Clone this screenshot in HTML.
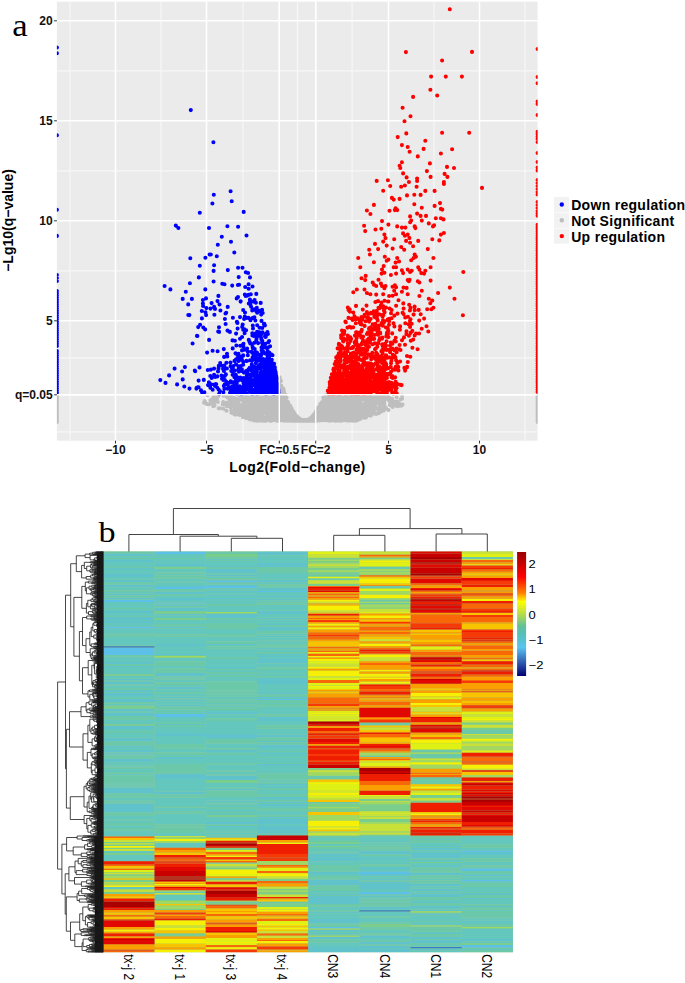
<!DOCTYPE html><html><head><meta charset="utf-8"><style>html,body{margin:0;padding:0;background:#fff;width:685px;height:983px;overflow:hidden}svg{display:block}text{font-family:"Liberation Sans",sans-serif}</style></head><body>
<svg width="685" height="983" viewBox="0 0 685 983">
<rect x="56.9" y="1.7" width="480.70000000000005" height="439.0" fill="#EBEBEB"/>
<path d="M70.0 1.7V440.7M161.0 1.7V440.7M242.9 1.7V440.7M297.5 1.7V440.7M352.1 1.7V440.7M434.0 1.7V440.7M525.0 1.7V440.7M56.9 431.8H537.6M56.9 357.8H537.6M56.9 270.8H537.6M56.9 170.8H537.6M56.9 70.8H537.6" stroke="#F7F7F7" stroke-width="1.2" fill="none"/>
<path d="M115.5 1.7V440.7M206.5 1.7V440.7M279.3 1.7V440.7M315.7 1.7V440.7M388.5 1.7V440.7M479.5 1.7V440.7M56.9 394.8H537.6M56.9 320.8H537.6M56.9 220.8H537.6M56.9 120.8H537.6M56.9 20.8H537.6" stroke="#FFFFFF" stroke-width="1.5" fill="none"/>
<clipPath id="pc"><rect x="56.9" y="1.7" width="480.70000000000005" height="439.0"/></clipPath>
<g clip-path="url(#pc)">
<path d="M289.2 420.7h0M303.5 420.6h0M284.5 408.5h0M290.7 411.6h0M362.1 413.2h0M369.7 404.8h0M369.7 397.8h0M271.0 400.9h0M356.4 402.8h0M308.9 420.5h0M315.4 414.4h0M374.9 405.4h0M246.3 399.8h0M350.8 399.6h0M306.0 420.4h0M233.9 397.7h0M260.7 420.6h0M367.8 396.7h0M289.3 416.0h0M288.3 415.0h0M278.7 412.6h0M313.9 420.5h0M307.6 420.3h0M235.2 407.4h0M303.5 420.5h0M261.1 418.2h0M326.3 401.7h0M259.6 400.2h0M257.4 409.8h0M315.6 413.5h0M266.9 418.9h0M278.6 418.3h0M328.4 420.3h0M328.6 406.9h0M291.0 408.4h0M244.5 409.2h0M300.1 419.8h0M267.8 405.6h0M231.3 399.2h0M217.0 401.0h0M370.2 410.6h0M369.2 410.8h0M343.8 403.5h0M338.0 395.6h0M291.0 410.3h0M281.8 391.4h0M326.5 412.2h0M288.1 410.9h0M311.4 418.6h0M379.7 408.6h0M327.0 413.1h0M229.6 397.7h0M263.3 407.3h0M294.9 420.3h0M317.6 410.4h0M286.5 413.7h0M334.0 404.9h0M318.5 415.9h0M336.5 413.7h0M337.1 400.5h0M267.5 404.9h0M250.3 401.6h0M278.4 415.6h0M295.0 420.3h0M271.8 415.4h0M269.6 408.9h0M349.2 410.6h0M377.9 398.8h0M336.4 408.9h0M333.1 399.2h0M344.4 406.0h0M344.1 411.0h0M330.9 416.3h0M311.1 417.8h0M287.0 416.1h0M314.6 414.7h0M292.3 413.0h0M274.2 400.5h0M320.2 404.0h0M329.6 396.1h0M349.6 401.2h0M306.6 420.7h0M349.6 418.7h0M247.8 407.5h0M313.2 415.5h0M314.0 419.0h0M348.4 418.2h0M304.7 420.8h0M324.3 397.6h0M297.9 419.9h0M303.7 420.7h0M304.0 420.8h0M347.8 412.0h0M308.8 419.8h0M319.3 408.1h0M238.7 399.2h0M326.5 408.4h0M353.2 402.7h0M320.1 412.1h0M284.3 420.4h0M227.8 396.3h0M266.0 402.2h0M266.4 397.0h0M307.7 420.7h0M315.6 414.6h0M346.7 418.9h0M331.9 415.6h0M332.1 404.7h0M272.4 416.6h0M322.1 405.2h0M266.1 407.3h0M277.3 398.1h0M297.1 419.6h0M295.0 420.1h0M290.9 409.4h0M260.4 403.7h0M239.4 407.0h0M308.3 420.1h0M280.8 418.3h0M292.0 416.3h0M292.9 417.9h0M290.3 409.7h0M296.7 420.5h0M306.5 420.4h0M281.3 404.5h0M317.2 411.1h0M317.9 412.9h0M317.7 419.4h0M283.2 388.6h0M260.8 415.7h0M287.7 408.9h0M324.8 414.2h0M290.8 409.7h0M288.2 406.2h0M327.9 419.1h0M379.9 412.3h0M291.5 415.8h0M297.5 420.4h0M262.5 399.3h0M302.7 420.5h0M297.9 420.4h0M322.6 409.2h0M316.2 415.6h0M299.4 419.5h0M267.9 412.5h0M296.6 419.3h0M249.0 418.0h0M330.0 419.0h0M289.7 407.7h0M349.8 398.9h0M251.5 406.2h0M338.7 420.4h0M277.3 404.6h0M346.1 396.2h0M384.6 405.7h0M347.3 410.2h0M348.4 415.8h0M286.3 411.2h0M335.8 405.5h0M279.5 382.2h0M288.5 404.1h0M348.0 412.1h0M310.0 420.7h0M324.2 414.2h0M376.5 403.6h0M314.3 418.2h0M342.2 409.8h0M308.5 420.5h0M321.2 413.0h0M253.8 420.5h0M298.7 419.8h0M296.6 417.8h0M342.1 407.0h0M338.1 419.8h0M316.5 419.6h0M301.6 420.2h0M255.0 418.2h0M280.9 396.1h0M334.8 395.2h0M279.8 388.9h0M319.8 411.7h0M291.7 416.4h0M270.8 395.3h0M265.5 397.1h0M286.3 416.5h0M318.8 419.1h0M306.1 420.5h0M286.4 403.4h0M304.1 420.8h0M331.7 420.1h0M266.3 396.2h0M321.3 413.3h0M335.2 415.5h0M277.4 403.2h0M278.4 411.9h0M300.6 420.8h0M288.5 418.0h0M367.9 405.8h0M270.4 406.9h0M284.5 420.0h0M328.4 415.6h0M303.8 420.7h0M304.9 420.6h0M256.8 417.5h0M265.1 419.2h0M286.7 417.6h0M269.4 417.4h0M320.1 420.0h0M375.9 401.9h0M332.9 397.3h0M334.9 397.1h0M333.2 398.8h0M274.8 408.7h0M305.6 420.5h0M310.2 419.9h0M328.8 416.6h0M266.6 420.6h0M301.5 420.3h0M273.1 410.2h0M275.4 417.0h0M293.5 420.6h0M352.1 409.1h0M329.6 397.7h0M249.7 416.4h0M283.3 408.8h0M295.7 418.1h0M300.3 419.9h0M269.1 399.6h0M271.2 396.1h0M291.1 415.9h0M323.3 420.0h0M349.9 418.8h0M302.7 420.3h0M303.9 420.6h0M332.3 405.1h0M321.1 410.4h0M350.6 404.9h0M287.3 404.0h0M336.4 396.9h0M254.5 405.4h0M321.5 408.7h0M262.4 412.4h0M274.1 416.7h0M325.4 398.8h0M256.6 395.8h0M307.1 420.5h0M372.2 410.0h0M318.2 417.2h0M279.1 399.6h0M356.7 416.9h0M250.6 408.8h0M227.0 402.6h0M341.9 415.5h0M330.0 404.9h0M390.2 402.3h0M295.9 417.5h0M327.5 400.3h0M302.1 420.7h0M323.4 413.7h0M330.4 408.8h0M276.9 403.4h0M309.2 419.8h0M277.9 415.5h0M255.1 413.6h0M329.4 402.1h0M342.1 395.2h0M254.3 418.6h0M332.5 413.4h0M302.5 420.7h0M346.5 419.2h0M314.4 419.6h0M308.3 420.5h0M316.2 411.2h0M233.5 413.5h0M311.4 417.9h0M348.2 412.4h0M227.0 406.2h0M325.8 419.9h0M294.8 420.8h0M333.0 401.8h0M324.4 413.2h0M353.3 406.2h0M321.6 410.3h0M316.8 410.9h0M312.8 416.8h0M288.0 402.1h0M271.7 395.4h0M287.2 414.5h0M315.4 415.2h0M345.9 418.3h0M295.0 418.9h0M243.2 415.7h0M361.7 414.6h0M276.7 408.2h0M270.4 404.8h0M226.5 395.7h0M329.0 414.3h0M289.6 419.9h0M270.1 404.5h0M335.4 401.5h0M305.6 420.5h0M235.8 398.8h0M241.1 407.0h0M267.0 417.2h0M372.8 411.7h0M331.9 413.5h0M359.0 404.4h0M265.4 396.4h0M324.2 415.7h0M242.2 400.5h0M338.2 397.5h0M370.9 412.9h0M292.4 412.6h0M363.7 406.9h0M275.8 419.3h0M344.5 417.0h0M276.8 407.8h0M287.9 404.3h0M236.0 399.9h0M300.6 419.9h0M347.0 404.8h0M291.7 409.1h0M296.7 419.6h0M350.3 409.2h0M299.1 420.8h0M352.9 395.9h0M349.3 420.6h0M235.6 413.4h0M249.7 412.2h0M300.8 420.1h0M347.6 405.7h0M303.2 420.8h0M290.3 413.8h0M352.9 396.8h0M333.6 412.1h0M330.0 407.1h0M341.1 408.1h0M264.6 401.5h0M320.4 416.3h0M301.5 420.6h0M246.8 406.7h0M350.2 404.4h0M291.7 417.4h0M295.5 416.1h0M253.7 399.9h0M315.7 412.0h0M302.1 420.7h0M327.5 397.9h0M310.4 420.2h0M325.1 398.8h0M336.1 417.5h0M312.8 415.8h0M243.1 397.2h0M316.3 419.7h0M310.9 420.4h0M357.5 411.3h0M279.3 397.1h0M326.2 413.5h0M294.2 416.7h0M290.5 410.2h0M301.0 420.6h0M267.2 400.4h0M296.4 416.4h0M283.2 397.4h0M301.0 419.8h0M310.9 419.5h0M278.5 404.6h0M214.1 402.4h0M246.8 411.9h0M329.7 408.1h0M324.3 405.3h0M397.4 406.2h0M272.3 419.9h0M305.6 420.7h0M327.7 419.9h0M295.6 418.3h0M342.1 418.5h0M301.4 420.1h0M267.8 395.3h0M290.3 410.7h0M362.0 413.7h0M302.6 420.8h0M318.9 411.2h0M375.1 407.7h0M364.4 399.5h0M236.0 409.4h0M352.0 402.8h0M263.1 404.2h0M296.7 418.1h0M390.0 402.0h0M343.3 404.5h0M284.8 417.6h0M273.7 404.9h0M291.2 418.4h0M290.9 414.3h0M324.4 419.4h0M339.9 420.4h0M241.1 412.4h0M271.3 399.4h0M343.1 410.7h0M262.7 420.6h0M247.4 417.2h0M263.0 412.7h0M351.3 409.3h0M213.3 406.2h0M311.8 419.4h0M266.5 414.2h0M357.7 404.3h0M313.9 417.3h0M313.2 419.4h0M382.8 410.6h0M312.0 420.2h0M293.2 419.5h0M328.9 418.8h0M310.3 420.6h0M301.1 420.1h0M302.1 420.5h0M384.4 400.1h0M340.5 413.1h0M308.0 420.2h0M335.4 418.3h0M285.0 411.0h0M259.8 419.3h0M318.3 417.9h0M304.0 420.8h0M341.7 409.7h0M339.2 400.8h0M346.5 418.2h0M285.2 416.3h0M276.5 401.0h0M334.9 409.3h0M364.6 409.7h0M279.1 408.5h0M257.9 399.7h0M325.5 416.3h0M345.0 408.7h0M317.3 410.2h0M214.5 405.6h0M311.2 417.8h0M341.1 399.3h0M329.4 417.1h0M265.9 420.2h0M293.7 417.9h0M278.0 420.8h0M305.4 420.6h0M304.0 420.6h0M307.0 420.3h0M274.1 420.0h0M276.8 418.1h0M327.1 409.8h0M335.6 413.3h0M268.9 409.3h0M322.1 402.6h0M293.6 418.5h0M288.7 405.3h0M306.9 420.4h0M315.0 418.2h0M288.0 416.7h0M252.6 396.7h0M320.1 413.3h0M333.0 403.1h0M332.9 418.4h0M249.3 419.1h0M298.0 420.8h0M322.0 406.9h0M253.9 396.6h0M312.6 416.6h0M258.3 395.8h0M373.9 412.1h0M247.9 396.2h0M317.1 420.7h0M339.8 416.7h0M308.9 420.6h0M314.0 418.7h0M356.6 404.9h0M327.0 403.7h0M290.9 415.8h0M369.7 403.9h0M374.4 400.2h0M248.0 414.5h0M288.7 412.1h0M301.7 420.2h0M326.9 401.6h0M294.3 418.7h0M319.8 412.3h0M346.6 410.2h0M364.9 414.7h0M244.3 396.8h0M351.8 403.9h0M237.9 406.3h0M263.8 401.0h0M320.5 409.0h0M232.9 399.8h0M292.4 418.7h0M379.6 400.9h0M291.1 412.1h0M270.1 415.2h0M241.0 414.6h0M344.0 415.5h0M325.5 412.9h0M301.2 420.8h0M319.7 408.1h0M362.6 410.6h0M310.7 418.7h0M343.9 402.4h0M247.1 407.3h0M280.8 417.8h0M295.8 420.4h0M298.8 418.9h0M335.1 416.0h0M296.0 419.5h0M327.0 420.0h0M284.9 394.2h0M337.8 413.8h0M320.8 405.9h0M345.6 407.5h0M272.9 396.6h0M340.3 415.7h0M277.2 403.3h0M310.6 419.3h0M292.9 417.4h0M352.4 405.3h0M318.0 419.0h0M309.8 420.7h0M300.1 419.4h0M290.4 410.1h0M276.3 403.1h0M268.0 408.3h0M268.6 404.5h0M315.7 420.4h0M299.2 418.6h0M309.7 420.7h0M262.6 412.4h0M325.1 415.9h0M276.9 420.6h0M306.9 420.4h0M300.8 419.9h0M343.2 400.5h0M249.9 415.0h0M252.3 411.4h0M318.9 417.9h0M294.6 416.3h0M308.3 420.8h0M322.1 402.1h0M291.2 408.8h0M280.4 400.5h0M311.3 418.4h0M287.9 416.6h0M317.9 418.2h0M300.9 420.5h0M292.7 411.9h0M261.2 409.8h0M288.0 409.9h0M351.3 398.6h0M339.1 410.0h0M285.7 415.8h0M243.3 406.9h0M300.2 420.6h0M246.0 418.0h0M249.8 405.9h0M273.4 413.8h0M266.6 408.2h0M300.2 419.7h0M337.3 406.6h0M286.1 406.6h0M353.7 395.8h0M297.0 419.3h0M345.2 411.7h0M358.7 396.6h0M300.1 419.9h0M345.2 400.3h0M261.1 405.4h0M300.7 420.2h0M328.1 401.0h0M305.3 420.7h0M348.2 411.0h0M255.9 416.6h0M398.5 405.8h0M259.8 395.9h0M318.5 418.7h0M338.5 415.8h0M321.3 415.5h0M298.2 419.0h0M291.6 408.8h0M251.3 417.8h0M329.0 409.8h0M309.8 420.7h0M314.3 416.7h0M383.1 401.4h0M326.1 400.4h0M306.1 420.6h0M293.2 417.8h0M302.2 420.8h0M318.3 417.4h0M282.4 394.5h0M261.4 416.2h0M260.0 410.4h0M290.4 420.2h0M331.4 409.7h0M320.1 414.0h0M297.3 416.9h0M397.5 404.5h0M338.4 420.3h0M269.5 419.1h0M330.1 420.5h0M368.5 409.7h0M341.4 401.7h0M342.3 407.3h0M335.8 399.5h0M371.3 407.4h0M328.2 415.2h0M276.5 404.4h0M289.4 417.0h0M308.0 420.6h0M328.0 396.7h0M318.2 411.8h0M279.4 378.6h0M260.5 413.2h0M330.1 415.2h0M317.9 419.9h0M299.4 419.0h0M305.8 420.5h0M395.8 401.8h0M329.0 414.2h0M260.4 407.0h0M272.2 396.1h0M308.5 419.9h0M299.4 420.4h0M276.3 417.3h0M276.1 400.4h0M291.7 414.3h0M322.8 411.0h0M291.0 414.6h0M262.2 397.3h0M309.0 419.9h0M316.1 418.6h0M358.3 416.8h0M292.7 417.8h0M263.5 420.8h0M366.7 405.4h0M256.0 418.0h0M289.6 415.9h0M264.0 410.3h0M348.3 395.3h0M307.8 420.3h0M306.8 420.5h0M301.9 420.8h0M351.9 413.4h0M301.1 420.4h0M252.6 405.6h0M356.7 399.6h0M290.7 419.7h0M273.2 396.6h0M316.9 420.6h0M340.4 418.7h0M294.6 414.5h0M329.5 415.1h0M338.4 419.4h0M257.3 405.3h0M311.3 417.8h0M319.0 416.6h0M299.2 420.0h0M304.9 420.6h0M318.3 412.8h0M293.2 412.7h0M287.1 415.0h0M307.7 420.4h0M280.2 397.6h0M271.5 413.1h0M212.8 402.9h0M330.1 418.3h0M298.5 419.0h0M302.3 420.4h0M324.5 409.5h0M298.6 419.0h0M324.1 417.5h0M212.7 399.0h0M310.7 419.6h0M402.0 398.8h0M300.8 419.9h0M290.2 405.9h0M302.1 420.7h0M271.6 406.0h0M322.2 413.6h0M293.2 416.2h0M286.1 419.0h0M298.3 417.7h0M364.9 403.3h0M363.4 413.7h0M259.4 408.3h0M242.8 417.1h0M284.0 391.5h0M319.4 416.5h0M343.1 404.2h0M341.1 397.7h0M265.9 408.4h0M310.6 420.0h0M304.1 420.8h0M313.2 419.6h0M303.4 420.7h0M323.9 417.3h0M327.0 412.6h0M316.2 412.0h0M332.8 418.5h0M254.1 412.0h0M331.1 416.5h0M340.2 415.2h0M355.0 408.4h0M231.3 404.7h0M286.8 417.5h0M305.7 420.4h0M327.5 398.3h0M258.5 399.3h0M265.5 418.1h0M373.1 402.4h0M290.9 420.8h0M331.1 405.7h0M347.4 411.8h0M318.0 407.8h0M264.6 420.8h0M283.9 412.4h0M268.3 405.3h0M331.1 409.1h0M296.3 419.5h0M316.6 415.3h0M327.7 412.1h0M350.2 397.5h0M339.4 414.5h0M343.0 412.3h0M330.8 408.6h0M308.8 420.3h0M311.0 419.4h0M272.6 403.0h0M302.5 420.6h0M301.9 420.2h0M237.9 413.1h0M304.2 420.6h0M257.0 399.6h0M362.2 397.9h0M294.0 419.9h0M298.4 418.0h0M359.8 411.0h0M335.8 408.1h0M331.9 401.5h0M317.0 416.2h0M357.2 410.8h0M337.9 406.6h0M301.6 420.6h0M333.0 405.6h0M370.0 395.6h0M333.4 396.8h0M256.4 403.2h0M256.1 420.6h0M294.2 414.5h0M263.8 420.7h0M294.5 413.3h0M351.6 412.4h0M306.7 420.4h0M316.9 420.4h0M239.8 406.9h0M315.1 416.7h0M310.3 420.2h0M314.5 417.1h0M260.9 420.6h0M354.5 409.2h0M312.9 418.5h0M248.0 412.5h0M245.4 408.6h0M321.9 416.2h0M281.6 401.7h0M283.3 416.2h0M297.4 419.1h0M314.6 414.5h0M344.7 401.8h0M385.1 396.8h0M378.5 399.1h0M262.0 415.1h0M234.8 409.1h0M322.0 406.8h0M273.2 404.2h0M286.0 419.6h0M316.3 419.3h0M354.4 413.7h0M320.2 415.2h0M244.4 397.8h0M309.3 419.8h0M281.2 404.3h0M360.1 419.0h0M302.5 420.7h0M307.9 420.7h0M363.8 408.6h0M254.2 408.6h0M307.8 420.7h0M239.4 404.4h0M296.7 420.0h0M271.5 400.0h0M247.5 399.7h0M344.0 417.9h0M298.4 419.1h0M372.8 405.9h0M295.2 416.1h0M356.2 414.5h0M310.1 418.7h0M316.4 419.0h0M317.9 416.6h0M302.6 420.8h0M300.5 420.3h0M302.4 420.8h0M325.9 404.0h0M290.7 415.9h0M273.0 402.2h0M279.1 416.5h0M332.3 411.8h0M312.5 420.6h0M314.4 416.4h0M333.6 419.6h0M301.9 420.6h0M327.4 404.7h0M284.4 413.7h0M293.3 413.6h0M312.4 419.1h0M335.0 399.3h0M349.8 398.0h0M341.1 416.2h0M306.1 420.8h0M311.1 419.7h0M303.5 420.7h0M250.5 401.6h0M234.0 404.6h0M317.3 418.2h0M338.7 399.3h0M291.4 410.4h0M348.8 407.6h0M371.5 398.4h0M329.5 420.7h0M297.7 420.2h0M246.5 408.5h0M370.8 407.8h0M265.1 418.9h0M305.1 420.5h0M368.4 415.1h0M298.9 418.4h0M295.4 420.5h0M342.6 406.9h0M216.9 399.2h0M272.2 398.8h0M297.0 418.2h0M255.1 411.5h0M378.3 402.8h0M290.5 419.8h0M294.9 414.6h0M329.5 408.1h0M266.1 405.7h0M260.1 406.6h0M360.9 403.1h0M291.4 411.4h0M321.0 417.5h0M339.2 420.0h0M255.4 411.3h0M306.5 420.6h0M335.0 416.3h0M357.9 395.5h0M276.2 407.1h0M370.6 401.7h0M302.1 420.1h0M271.3 406.5h0M278.2 408.1h0M317.9 415.5h0M344.6 416.4h0M310.3 420.0h0M308.1 420.5h0M331.7 413.6h0M312.7 416.2h0M284.1 395.7h0M274.3 408.4h0M356.4 397.7h0M328.7 401.5h0M261.2 415.3h0M293.5 420.8h0M283.1 392.1h0M306.5 420.6h0M360.3 401.3h0M309.7 420.5h0M300.9 419.7h0M339.1 413.8h0M392.4 399.7h0M238.1 402.2h0M322.0 403.7h0M385.4 399.0h0M283.6 412.4h0M313.9 419.5h0M313.2 417.8h0M317.9 409.0h0M370.7 415.8h0M325.3 406.4h0M288.7 414.3h0M303.3 420.7h0M349.9 415.5h0M325.2 412.7h0M293.4 418.7h0M356.6 414.4h0M342.8 395.9h0M292.4 413.4h0M277.2 402.7h0M303.9 420.5h0M278.1 401.4h0M271.2 419.7h0M304.6 420.6h0M290.6 419.1h0M292.2 410.5h0M340.2 402.6h0M231.0 405.8h0M280.5 414.9h0M318.8 415.9h0M364.0 416.8h0M350.0 417.7h0M292.3 417.3h0M328.2 397.8h0M318.3 409.2h0M272.4 405.3h0M305.3 420.6h0M294.6 417.7h0M361.5 411.4h0M284.6 413.7h0M279.0 397.4h0M312.4 420.8h0M285.8 418.5h0M293.1 417.4h0M360.1 415.9h0M346.1 409.3h0M308.8 419.9h0M303.0 420.4h0M259.5 415.1h0M299.0 418.5h0M271.2 408.0h0M306.8 420.7h0M295.0 419.4h0M289.7 420.2h0M278.0 400.3h0M347.5 398.6h0M270.8 407.5h0M320.3 419.3h0M312.9 419.6h0M263.3 420.2h0M298.4 419.5h0M292.5 415.6h0M339.2 417.7h0M314.0 419.4h0M230.4 398.0h0M376.0 413.9h0M312.2 420.8h0M348.1 407.9h0M269.4 403.5h0M311.8 417.2h0M364.6 417.0h0M274.6 396.9h0M344.3 400.8h0M294.7 415.1h0M315.5 420.1h0M345.8 407.0h0M317.0 413.4h0M300.7 420.3h0M347.1 399.5h0M300.9 420.4h0M366.7 408.6h0M213.7 396.4h0M319.3 417.3h0M261.1 416.7h0M297.6 419.9h0M341.3 418.6h0M331.1 405.3h0M326.0 414.1h0M254.1 416.7h0M306.9 420.4h0M322.8 408.6h0M308.0 419.8h0M252.3 404.0h0M311.6 420.4h0M237.6 407.9h0M325.4 412.7h0M272.9 420.3h0M235.4 405.6h0M287.6 420.6h0M290.5 414.3h0M340.1 420.3h0M316.5 419.8h0M339.4 412.7h0M263.8 419.6h0M291.8 408.9h0M294.5 417.1h0M290.7 413.7h0M253.8 399.2h0M359.0 401.6h0M274.1 407.5h0M283.1 393.3h0M345.1 406.5h0M324.7 419.7h0M293.0 418.5h0M291.5 415.2h0M283.1 406.1h0M329.6 408.8h0M331.0 405.8h0M302.6 420.8h0M314.8 418.0h0M312.7 420.7h0M307.6 420.8h0M379.9 405.9h0M310.1 420.8h0M365.2 407.3h0M277.0 405.5h0M302.9 420.5h0M304.1 420.7h0M238.7 413.9h0M284.6 402.6h0M374.3 396.2h0M331.4 412.0h0M286.1 404.2h0M336.4 416.1h0M328.3 412.9h0M290.4 420.3h0M351.8 420.1h0M307.4 420.8h0M323.8 397.0h0M245.8 411.7h0M326.0 406.6h0M300.4 419.8h0M281.7 409.1h0M313.0 420.5h0M360.1 410.5h0M242.5 412.0h0M254.8 403.0h0M270.6 414.1h0M239.1 414.0h0M286.2 410.1h0M217.8 402.0h0M278.9 398.1h0M318.9 410.9h0M298.2 420.2h0M310.0 419.5h0M350.9 409.2h0M232.2 399.6h0M343.2 406.0h0M292.2 413.4h0M257.5 409.4h0M272.3 409.3h0M259.7 417.8h0M353.1 398.5h0M328.3 406.5h0M254.7 414.2h0M324.5 409.1h0M338.9 396.3h0M281.9 405.7h0M223.2 402.1h0M325.9 397.9h0M338.4 408.0h0M327.3 413.7h0M336.3 420.8h0M285.0 400.0h0M303.8 420.5h0M337.7 418.6h0M325.7 415.2h0M350.3 414.8h0M307.4 420.7h0M311.4 419.0h0M288.9 413.3h0M311.8 419.2h0M267.2 416.0h0M289.5 417.8h0M304.1 420.6h0M260.3 417.2h0M289.8 412.4h0M311.2 420.3h0M242.5 415.0h0M352.1 404.9h0M341.4 397.6h0M365.6 410.6h0M287.5 418.9h0M294.1 420.5h0M328.1 410.3h0M281.6 387.4h0M328.7 411.0h0M309.9 419.5h0M317.9 418.4h0M299.1 419.8h0M304.7 420.7h0M336.6 404.4h0M309.4 419.4h0M386.3 408.4h0M275.4 408.6h0M347.5 407.3h0M284.7 416.3h0M318.3 412.6h0M319.7 407.7h0M347.9 400.5h0M293.9 415.6h0M329.3 407.2h0M304.9 420.8h0M319.4 418.8h0M279.2 412.4h0M292.3 413.2h0M362.4 405.2h0M326.2 419.9h0M291.3 412.7h0M325.4 408.2h0M267.0 396.9h0M367.2 407.1h0M290.8 419.4h0M332.3 401.9h0M321.9 411.3h0M271.1 419.9h0M377.8 408.2h0M348.2 407.1h0M296.4 419.5h0M353.6 397.3h0M313.8 420.3h0M257.6 420.7h0M303.3 420.5h0M286.1 414.1h0M318.8 419.1h0M285.8 399.0h0M350.6 416.2h0M290.9 409.5h0M326.5 401.7h0M310.7 419.0h0M306.8 420.2h0M340.9 419.1h0M290.6 417.5h0M281.3 385.9h0M215.5 401.2h0M339.3 413.3h0M289.2 409.0h0M366.0 402.2h0M314.4 420.6h0M311.1 420.8h0M283.6 396.8h0M286.3 402.0h0M338.2 409.0h0M250.7 399.0h0M255.8 405.7h0M299.0 419.0h0M305.9 420.6h0M262.7 397.0h0M260.0 418.3h0M281.4 389.2h0M305.1 420.7h0M357.3 403.4h0M323.7 407.0h0M266.0 417.2h0M258.1 398.6h0M231.4 405.1h0M340.9 407.7h0M282.5 402.9h0M325.3 418.7h0M301.4 420.5h0M367.2 412.7h0M290.2 419.0h0M252.2 418.7h0M348.1 419.9h0M283.5 416.4h0M296.6 420.0h0M312.7 417.1h0M280.5 387.8h0M345.8 402.3h0M258.9 397.6h0M272.7 400.5h0M340.1 420.7h0M327.3 404.9h0M278.9 407.5h0M296.6 420.6h0M255.3 412.9h0M288.8 419.0h0M299.5 419.6h0M329.2 400.2h0M205.4 402.8h0M238.1 408.4h0M285.1 396.1h0M345.7 419.0h0M392.7 406.9h0M218.4 396.1h0M254.3 401.8h0M232.8 403.3h0M336.8 410.1h0M246.2 407.1h0M324.1 418.0h0M297.9 418.7h0M288.2 419.7h0M301.4 420.8h0M279.2 397.7h0M286.3 409.0h0M299.5 420.5h0M280.9 380.9h0M207.5 395.3h0M348.8 419.5h0M318.6 417.6h0M308.5 420.6h0M260.2 417.9h0M230.6 404.7h0M291.4 418.3h0M312.5 417.8h0M278.7 403.9h0M342.3 415.5h0M302.0 420.4h0M293.8 419.7h0M330.6 419.2h0M270.2 420.8h0M383.1 403.8h0M303.7 420.8h0M285.9 404.7h0M319.0 411.0h0M351.8 397.6h0M308.6 420.5h0M254.5 414.4h0M354.6 409.4h0M265.0 403.4h0M292.4 416.8h0M258.7 405.6h0M320.4 414.7h0M231.4 412.8h0M323.5 420.3h0M278.9 409.1h0M330.9 413.9h0M306.3 420.3h0M331.6 415.6h0M206.9 404.1h0M382.6 408.4h0M267.5 403.5h0M259.2 401.3h0M235.9 413.3h0M352.4 411.8h0M361.8 407.5h0M307.5 420.7h0M330.4 417.0h0M251.1 411.3h0M216.0 399.6h0M289.2 414.6h0M352.4 420.8h0M280.5 412.7h0M279.9 415.6h0M288.1 419.1h0M303.6 420.6h0M306.5 420.8h0M210.5 400.4h0M257.7 418.3h0M319.2 418.8h0M296.3 418.0h0M312.5 417.7h0M237.5 400.8h0M269.6 403.0h0M264.2 417.7h0M301.6 420.2h0M253.2 400.9h0M352.6 420.5h0M281.1 392.9h0M238.1 402.0h0M304.2 420.5h0M321.7 406.6h0M287.8 419.0h0M210.0 403.8h0M291.5 410.8h0M277.6 401.3h0M304.3 420.6h0M338.8 397.4h0M270.6 410.5h0M302.7 420.7h0M313.1 419.7h0M301.2 419.9h0M292.8 416.6h0M284.4 393.8h0M345.0 400.9h0M314.3 414.8h0M274.9 416.5h0M319.6 410.0h0M267.5 415.1h0M309.5 420.1h0M320.7 419.5h0M336.9 416.2h0M213.2 400.8h0M354.9 404.2h0M338.8 419.7h0M348.6 418.8h0M259.0 412.2h0M330.5 419.4h0M288.1 414.1h0M335.1 420.6h0M344.0 417.0h0M274.2 411.1h0M292.0 415.1h0M318.3 419.3h0M296.5 417.0h0M280.2 402.9h0M231.3 410.3h0M289.1 405.5h0M277.8 400.9h0M326.6 414.9h0M273.1 401.6h0M336.0 420.7h0M275.0 397.8h0M247.7 410.3h0M329.5 395.3h0M276.6 414.3h0M335.1 406.8h0M341.4 412.6h0M331.2 401.6h0M366.5 415.6h0M299.5 420.4h0M361.5 395.3h0M308.9 420.4h0M335.0 407.5h0M335.7 403.8h0M333.4 404.3h0M319.5 420.4h0M278.1 420.7h0M326.4 401.0h0M296.3 418.4h0M274.7 401.7h0M306.9 420.2h0M295.3 417.4h0M322.4 407.6h0M328.1 420.5h0M320.7 412.8h0M317.6 408.6h0M357.6 420.2h0M300.6 419.4h0M363.7 412.6h0M267.5 416.7h0M274.4 396.5h0M315.1 415.6h0M302.8 420.8h0M311.3 420.4h0M339.1 400.9h0M310.2 419.1h0M304.9 420.6h0M317.5 413.8h0M366.8 401.4h0M299.3 420.1h0M274.7 406.4h0M309.7 419.3h0M282.6 407.2h0M307.8 420.0h0M362.8 396.5h0M341.5 411.9h0M328.1 418.0h0M336.9 407.8h0M289.1 420.2h0M278.0 397.5h0M290.8 407.3h0M302.0 420.1h0M371.7 398.6h0M295.4 418.8h0M365.1 413.9h0M296.5 419.7h0M304.4 420.7h0M311.9 418.9h0M251.3 414.9h0M329.8 398.1h0M362.5 405.8h0M342.7 395.6h0M364.7 414.5h0M298.4 420.6h0M294.6 419.7h0M300.2 419.8h0M314.0 416.7h0M351.1 411.4h0M360.2 416.7h0M254.5 409.7h0M327.3 395.8h0M277.4 407.7h0M282.3 418.4h0M353.2 402.7h0M297.0 420.5h0M279.7 406.2h0M330.4 401.3h0M340.5 416.0h0M338.0 401.2h0M352.1 402.6h0M306.0 420.4h0M331.0 402.0h0M260.2 396.2h0M319.7 417.3h0M298.6 419.2h0M291.5 415.6h0M280.1 380.1h0M337.5 406.8h0M328.3 398.7h0M320.3 413.6h0M271.6 403.2h0M242.7 411.9h0M313.6 418.7h0M365.7 412.7h0M320.6 411.3h0M300.3 420.2h0M300.0 419.4h0M266.8 419.0h0M351.0 418.8h0M274.1 412.8h0M358.0 395.5h0M291.3 412.0h0M345.0 414.2h0M323.0 416.3h0M335.5 412.2h0M256.3 404.6h0M323.8 418.4h0M321.7 419.9h0M251.7 415.8h0M331.1 395.2h0M281.1 390.1h0M315.1 420.6h0M285.2 419.9h0M309.8 420.2h0M306.8 420.8h0M336.4 405.8h0M294.9 415.3h0M318.2 419.1h0M372.5 412.4h0M317.0 411.8h0M310.1 420.0h0M318.0 415.0h0M281.8 414.5h0M287.7 420.5h0M315.4 415.5h0M245.7 414.7h0M399.0 403.0h0M305.2 420.6h0M336.7 399.7h0M326.6 419.0h0M297.9 419.9h0M281.7 402.9h0M327.7 407.1h0M344.4 396.6h0M287.5 405.3h0M256.7 402.3h0M284.0 407.4h0M340.5 415.8h0M357.3 409.5h0M302.9 420.5h0M352.0 402.7h0M294.7 416.0h0M345.1 410.7h0M347.0 397.0h0M296.8 419.4h0M337.5 414.3h0M359.5 397.7h0M286.1 418.8h0M267.4 410.6h0M282.3 404.1h0M290.4 420.3h0M319.2 408.7h0M287.8 408.9h0M338.1 403.6h0M240.0 407.8h0M280.9 418.4h0M269.8 416.2h0M272.4 419.0h0M245.7 402.0h0M257.7 404.3h0M307.7 420.7h0M322.7 416.9h0M327.5 395.7h0M347.6 408.2h0M234.2 397.8h0M279.2 420.1h0M358.8 418.0h0M341.5 420.6h0M287.3 419.8h0M339.5 409.4h0M333.4 420.1h0M272.4 402.5h0M308.4 420.4h0M288.2 418.2h0M353.9 403.8h0M359.0 410.7h0M250.5 419.5h0M358.4 401.6h0M313.9 419.1h0M298.4 420.3h0M302.4 420.2h0M325.6 403.5h0M317.6 411.4h0M268.0 399.9h0M340.1 417.6h0M285.5 400.6h0M343.9 407.9h0M309.8 419.4h0M345.6 409.1h0M271.6 411.5h0M291.8 414.2h0M301.0 420.4h0M304.5 420.6h0M260.1 414.2h0M295.7 418.0h0M363.4 407.1h0M294.9 417.5h0M396.1 405.6h0M331.1 415.3h0M246.7 409.3h0M291.6 411.1h0M328.6 396.8h0M280.8 402.7h0M274.9 401.0h0M356.9 417.7h0M326.4 407.4h0M333.9 399.7h0M262.3 405.5h0M335.7 417.6h0M301.1 420.6h0M377.5 396.8h0M341.2 415.7h0M330.3 405.1h0M277.7 414.0h0M333.6 399.7h0M351.0 410.4h0M272.5 417.0h0M230.0 400.3h0M254.5 415.9h0M243.7 412.0h0M292.2 416.4h0M276.6 417.9h0M284.0 400.9h0M273.0 413.5h0M270.5 417.4h0M302.5 420.2h0M241.2 395.4h0M273.5 415.9h0M283.9 395.8h0M257.5 404.7h0M256.6 411.6h0M293.2 417.0h0M283.6 408.8h0M277.1 396.6h0M292.1 418.3h0M260.8 402.4h0M354.9 412.7h0M319.4 418.9h0M284.5 409.6h0M318.9 411.6h0M354.6 415.5h0M251.3 415.7h0M259.5 419.9h0M307.6 419.9h0M300.9 420.4h0M347.9 395.8h0M311.1 417.9h0M261.5 415.0h0M352.0 396.5h0M351.7 413.2h0M310.3 419.5h0M302.8 420.3h0M270.6 411.8h0M316.6 420.5h0M294.9 417.9h0M298.8 420.3h0M275.5 407.2h0M341.8 405.6h0M313.4 419.7h0M300.4 420.6h0M293.8 416.9h0M315.6 414.3h0M269.5 397.7h0M303.2 420.6h0M279.7 377.4h0M295.8 417.9h0M265.1 402.2h0M273.0 411.8h0M278.7 419.6h0M249.4 403.7h0M395.0 402.7h0M351.3 413.4h0M353.1 407.0h0M278.7 410.5h0M307.0 420.7h0M309.5 419.4h0M268.4 401.3h0M315.4 414.0h0M330.8 398.7h0M286.2 416.3h0M256.4 399.6h0M344.5 400.3h0M324.4 406.0h0M312.1 417.9h0M333.8 397.3h0M289.2 406.3h0M262.5 412.0h0M366.6 398.7h0M276.3 401.3h0M344.6 414.5h0M340.0 418.2h0M280.6 381.3h0M340.1 404.6h0M291.5 416.5h0M246.8 408.6h0M323.1 416.3h0M286.8 405.9h0M316.4 419.5h0M313.6 419.8h0M289.4 413.4h0M380.3 402.8h0M319.6 417.3h0M298.4 419.3h0M307.5 420.0h0M332.2 407.2h0M254.1 416.7h0M272.3 411.7h0M256.8 420.5h0M283.3 420.4h0M338.5 411.2h0M316.7 416.7h0M328.4 415.2h0M389.8 405.1h0M284.3 396.2h0M326.3 420.3h0M354.7 403.8h0M268.7 406.8h0M279.2 397.0h0M363.8 405.4h0M276.0 417.5h0M253.8 401.1h0M364.5 417.7h0M326.2 400.9h0M337.8 401.6h0M342.3 402.9h0M298.6 419.4h0M257.9 410.6h0M275.1 413.2h0M324.2 409.6h0M309.5 420.5h0M252.8 415.1h0M334.6 419.3h0M300.4 420.1h0M300.1 419.8h0M321.1 410.1h0M319.2 416.6h0M303.5 420.5h0M332.9 399.1h0M275.8 405.4h0M247.9 396.9h0M273.4 416.2h0M348.6 398.4h0M243.8 409.4h0M347.9 403.0h0M295.7 419.7h0M284.2 420.8h0M353.9 417.9h0M229.8 405.0h0M301.1 419.7h0M309.3 420.1h0M356.0 409.0h0M314.1 419.0h0M330.7 403.9h0M273.8 412.8h0M303.3 420.5h0M282.2 420.3h0M322.8 404.4h0M257.5 420.7h0M267.5 420.0h0M328.3 417.2h0M267.4 420.0h0M333.2 416.1h0M355.3 416.9h0M289.1 408.1h0M282.9 401.4h0M325.0 409.5h0M301.3 420.8h0M278.4 411.3h0M331.5 420.3h0M289.6 408.2h0M326.7 410.3h0M281.7 396.5h0M331.8 406.1h0M329.9 400.9h0M287.4 404.2h0M305.9 420.5h0M299.9 419.2h0M325.5 409.4h0M301.5 420.0h0M281.0 397.0h0M314.9 414.2h0M328.7 397.8h0M341.7 420.0h0M278.9 420.1h0M303.7 420.7h0M315.1 420.3h0M291.4 418.3h0M334.9 411.5h0M284.7 418.9h0M229.0 406.3h0M311.4 418.7h0M281.2 409.2h0M303.9 420.7h0M327.0 416.5h0M261.2 418.0h0M309.6 420.3h0M284.9 418.1h0M302.9 420.5h0M298.3 418.2h0M278.8 418.0h0M321.1 411.0h0M353.9 419.2h0M289.9 419.2h0M322.0 406.6h0M301.4 420.2h0M340.7 412.2h0M320.8 408.2h0M348.3 400.7h0M342.6 395.3h0M298.7 419.6h0M328.1 399.9h0M288.7 417.0h0M280.3 399.4h0M302.8 420.7h0M352.6 400.1h0M270.8 420.6h0M285.5 408.3h0M308.9 420.2h0M354.1 414.1h0M327.1 410.8h0M306.8 420.7h0M326.3 397.7h0M280.1 404.5h0M307.7 420.2h0M271.0 412.0h0M299.6 420.4h0M281.7 414.8h0M279.3 417.1h0M275.9 409.6h0M314.1 419.0h0M310.9 420.5h0M329.6 409.8h0M285.8 402.0h0M273.3 396.2h0M276.9 402.7h0M234.4 407.6h0M311.7 418.6h0M238.9 395.3h0M324.0 412.0h0M270.8 420.3h0M277.4 414.3h0M300.5 419.6h0M308.6 420.1h0M365.9 417.4h0M299.8 419.6h0M301.7 420.2h0M267.4 415.1h0M344.3 402.5h0M346.7 410.8h0M345.3 399.9h0M283.4 415.6h0M298.2 418.8h0M291.0 412.9h0M271.8 417.1h0M295.9 419.9h0M286.7 419.4h0M334.3 406.6h0M280.3 389.5h0M304.9 420.8h0M271.6 416.6h0M310.5 418.6h0M326.1 400.4h0M342.1 412.0h0M329.5 419.8h0M295.4 418.0h0M325.6 405.7h0M317.7 415.6h0M317.1 410.3h0M352.9 409.5h0M326.2 416.3h0M360.9 407.0h0M282.9 388.9h0M312.6 416.0h0M266.2 406.5h0M322.5 405.1h0M322.6 419.2h0M333.5 416.2h0M266.0 408.5h0M312.8 419.0h0M365.6 397.4h0M336.9 395.9h0M311.0 420.1h0M267.6 406.4h0M277.2 410.8h0M275.1 419.4h0M339.0 413.7h0M263.8 395.2h0M381.7 411.1h0M300.1 419.7h0M319.4 410.0h0M366.1 399.8h0M272.6 419.0h0M346.7 398.3h0M272.9 414.1h0M283.8 392.6h0M326.6 419.5h0M269.6 411.4h0M289.5 405.7h0M334.2 415.4h0M331.4 402.6h0M223.5 395.8h0M352.1 397.3h0M358.5 414.7h0M331.5 403.2h0M276.1 403.1h0M247.2 417.2h0M225.7 404.8h0M316.7 416.2h0M266.0 402.6h0M320.2 409.0h0M310.5 419.4h0M339.4 420.7h0M301.4 420.4h0M288.0 419.7h0M285.3 406.2h0M315.0 417.4h0M290.6 420.5h0M282.2 398.7h0M302.2 420.6h0M313.1 416.6h0M334.8 416.7h0M320.5 412.1h0M306.4 420.6h0M362.3 397.9h0M254.6 410.3h0M318.8 416.8h0M282.8 390.7h0M351.8 419.5h0M353.8 397.1h0M209.1 404.2h0M289.9 408.0h0M325.4 402.0h0M297.8 418.5h0M311.6 418.4h0M388.9 397.3h0M379.2 397.7h0M266.5 409.9h0M289.9 420.3h0M347.8 403.3h0M344.7 411.8h0M246.3 417.2h0M310.1 419.1h0M299.5 418.7h0M378.4 409.9h0M287.9 415.9h0M311.1 420.6h0M360.3 413.1h0M294.7 416.5h0M309.9 420.6h0M304.4 420.6h0M289.6 407.0h0M323.8 417.0h0M237.8 406.4h0M243.8 403.5h0M266.6 410.8h0M333.7 406.0h0M344.4 401.7h0M285.9 414.1h0M328.8 404.4h0M312.1 417.9h0M302.9 420.4h0M309.4 419.3h0M310.7 418.5h0M310.1 420.8h0M321.3 413.7h0M267.1 400.6h0M351.1 403.7h0M348.4 416.1h0M320.4 412.2h0M323.0 406.5h0M255.8 403.1h0M308.1 419.8h0M295.6 420.8h0M368.4 405.4h0M271.9 407.9h0M352.3 419.9h0M276.7 420.7h0M278.8 396.3h0M303.1 420.8h0M311.2 418.5h0M266.0 400.8h0M306.8 420.4h0M273.3 396.5h0M253.0 412.1h0M396.6 397.3h0M296.1 416.1h0M237.1 401.3h0M257.2 408.4h0M279.8 391.4h0M334.7 403.4h0M320.3 411.0h0M265.5 396.7h0M313.3 416.8h0M310.1 419.5h0M338.5 406.7h0M264.9 405.7h0M314.7 420.4h0M278.1 402.6h0M296.5 418.0h0M229.3 402.9h0M372.7 397.2h0M327.1 415.5h0M307.4 420.5h0M299.5 420.2h0M327.9 408.5h0M295.1 415.5h0M285.6 416.6h0M294.7 414.8h0M371.6 405.9h0M299.0 420.2h0M374.3 408.1h0M282.4 404.2h0M329.5 415.5h0M222.8 404.5h0M239.5 414.8h0M241.2 414.7h0M276.2 399.6h0M358.9 415.3h0M275.3 402.0h0M325.0 400.6h0M297.4 420.5h0M308.0 420.1h0M269.3 417.6h0M310.5 419.6h0M293.4 415.3h0M245.7 417.8h0M309.0 420.0h0M364.3 410.8h0M324.7 413.4h0M269.8 395.8h0M257.9 420.8h0M321.6 414.5h0M276.7 396.4h0M306.2 420.8h0M243.6 406.9h0M270.1 402.5h0M280.3 409.4h0M268.5 413.0h0M253.5 417.6h0M291.4 412.3h0M354.5 396.3h0M309.9 420.2h0M268.5 419.8h0M309.3 419.1h0M273.5 417.6h0M271.5 401.2h0M348.0 399.9h0M268.2 417.3h0M258.7 408.6h0M291.0 418.3h0M258.2 402.6h0M280.8 417.6h0M314.2 417.0h0M301.6 420.5h0M266.8 402.4h0M313.5 417.9h0M321.9 414.5h0M306.9 420.4h0M303.5 420.6h0M368.8 411.6h0M281.3 412.4h0M324.8 417.1h0M308.2 420.1h0M315.8 418.0h0M373.4 413.2h0M289.5 405.3h0M299.8 420.0h0M275.8 404.9h0M308.8 419.9h0M303.3 420.8h0M295.1 417.8h0M377.2 413.3h0M350.6 413.4h0M347.2 420.1h0M333.4 410.5h0M291.9 418.0h0M303.3 420.7h0M313.6 419.5h0M315.2 415.9h0M304.0 420.7h0M310.4 419.2h0M282.4 409.7h0M297.0 419.6h0M306.8 420.4h0M242.6 416.1h0M308.8 420.5h0M321.2 410.2h0M352.1 411.5h0M243.7 407.6h0M303.5 420.7h0M305.8 420.8h0M337.1 417.2h0M370.8 413.3h0M285.3 413.0h0M388.8 400.1h0M324.3 411.5h0M352.0 399.7h0M310.0 418.8h0M303.2 420.6h0M325.3 417.9h0M285.9 413.6h0M314.2 416.7h0M332.0 405.5h0M283.4 420.1h0M301.9 420.6h0M260.7 419.2h0M266.0 402.7h0M311.1 420.7h0M370.7 406.5h0M288.2 415.2h0M290.4 411.3h0M282.3 407.4h0M310.9 418.9h0M284.8 394.9h0M313.8 417.1h0M290.8 419.2h0M283.5 411.9h0M326.8 406.3h0M255.0 410.4h0M324.7 401.8h0M304.5 420.5h0M250.7 415.2h0M360.3 418.8h0M304.8 420.6h0M247.0 401.3h0M353.6 405.6h0M344.1 410.5h0M271.6 420.6h0M365.3 407.5h0M302.9 420.3h0M290.3 414.0h0M270.1 411.5h0M308.4 420.2h0M294.5 420.6h0M331.2 402.0h0M324.5 412.3h0M300.6 420.5h0M303.5 420.6h0M296.8 417.2h0M239.8 408.6h0M328.4 397.8h0M304.5 420.8h0M305.5 420.7h0M277.0 396.8h0M301.7 420.3h0M309.1 419.8h0M322.3 404.5h0M304.1 420.8h0M241.9 411.6h0M325.5 406.9h0M322.0 416.4h0M316.4 413.9h0M326.5 417.1h0M357.9 419.3h0M322.6 411.6h0M357.2 411.2h0M279.0 406.4h0M314.0 415.7h0M283.8 408.0h0M283.0 391.9h0M295.4 417.6h0M328.5 406.8h0M295.1 420.3h0M262.3 413.3h0M249.8 413.7h0M274.5 401.4h0M320.3 416.1h0M336.2 410.5h0M346.9 407.9h0M346.6 405.7h0M322.5 414.7h0M324.4 407.9h0M373.3 411.4h0M343.0 399.2h0M260.9 413.7h0M257.7 420.1h0M291.6 411.4h0M321.0 406.1h0M369.3 409.0h0M370.1 395.4h0M305.3 420.7h0M349.8 415.1h0M344.5 398.2h0M279.1 417.4h0M274.0 408.0h0M291.2 414.4h0M303.0 420.6h0M340.3 398.6h0M287.6 416.1h0M328.9 408.3h0M286.3 410.0h0M275.4 415.3h0M287.7 418.8h0M303.6 420.6h0M261.5 417.3h0M313.7 419.7h0M371.4 405.9h0M326.5 401.1h0M290.4 412.3h0M332.5 398.2h0M316.3 413.6h0M338.9 412.0h0M311.5 418.0h0M372.6 410.3h0M308.3 420.0h0M284.8 406.2h0M300.6 419.8h0M315.2 419.2h0M275.6 409.0h0M267.1 415.3h0M309.4 420.7h0M284.4 399.8h0M391.6 405.6h0M277.8 410.6h0M309.8 419.0h0M345.2 420.2h0M285.6 405.5h0M352.5 417.0h0M325.9 419.2h0M306.6 420.2h0M272.7 410.5h0M343.2 417.9h0M283.7 412.6h0M314.9 420.1h0M310.1 419.0h0M286.6 397.7h0M352.7 410.2h0M309.2 419.1h0M294.7 417.9h0M246.4 410.4h0M236.1 414.5h0M337.5 402.1h0M323.6 412.6h0M319.8 406.3h0M311.9 419.8h0M286.2 414.9h0M280.4 406.6h0M318.5 419.8h0M242.9 398.1h0M344.8 419.4h0M370.6 399.7h0M345.1 417.5h0M316.5 413.7h0M283.4 413.3h0M254.4 403.7h0M345.8 415.2h0M351.9 420.4h0M363.8 417.3h0M246.4 400.7h0M266.7 406.4h0M302.0 420.5h0M253.8 403.1h0M299.1 420.7h0M320.8 412.3h0M290.6 416.1h0M353.5 412.2h0M352.4 420.3h0M279.4 399.6h0M287.6 418.0h0M307.2 420.8h0M316.1 420.8h0M305.3 420.6h0M235.0 411.0h0M293.5 417.3h0M297.6 419.2h0M324.4 404.2h0M303.4 420.4h0M388.4 410.0h0M294.7 417.1h0M376.2 397.4h0M308.1 420.1h0M271.1 403.1h0M381.9 400.3h0M251.6 402.3h0M387.9 398.8h0M291.3 414.6h0M301.2 420.6h0M308.0 420.5h0M373.3 405.1h0M232.4 412.3h0M236.0 401.3h0M287.5 415.6h0M313.5 415.1h0M280.3 420.2h0M295.8 417.8h0M357.4 398.2h0M322.4 405.6h0M342.2 418.6h0M263.4 405.8h0M288.9 419.5h0M276.7 410.4h0M290.2 420.1h0M354.7 396.8h0M236.5 408.5h0M328.2 399.9h0M351.5 402.3h0M313.7 416.8h0M282.6 393.9h0M297.3 418.4h0M253.0 400.3h0M339.7 399.1h0M332.0 407.9h0M246.3 405.6h0M321.5 404.0h0M336.1 413.2h0M304.3 420.8h0M355.5 404.2h0M296.8 418.7h0M273.7 406.2h0M346.6 412.1h0M312.2 417.8h0M374.8 404.9h0M244.6 398.7h0M318.5 411.1h0M297.1 420.4h0M397.2 401.6h0M303.4 420.6h0M307.1 420.2h0M326.8 417.3h0M314.3 414.0h0M211.0 402.9h0M376.2 398.5h0M300.2 419.4h0M301.2 420.7h0M216.3 395.7h0M353.3 414.0h0M312.5 419.0h0M316.4 411.5h0M247.2 409.8h0M364.4 415.2h0M307.4 420.6h0M310.9 420.6h0M298.4 418.7h0M284.1 406.9h0M314.4 415.6h0M300.3 420.1h0M262.0 419.3h0M291.9 419.7h0M286.7 403.3h0M258.4 395.4h0M270.8 403.4h0M303.2 420.7h0M273.5 416.6h0M312.9 419.2h0M321.1 410.5h0M360.5 403.9h0M299.8 419.1h0M365.0 414.8h0M330.5 413.4h0M305.3 420.6h0M301.8 420.3h0M243.2 407.4h0M373.0 413.8h0M337.1 409.4h0M308.5 419.6h0M318.0 418.1h0M286.6 413.6h0M294.8 420.5h0M223.4 408.8h0M269.8 416.3h0M382.7 400.6h0M303.9 420.5h0M319.5 411.7h0M309.9 418.9h0M305.9 420.6h0M294.5 416.1h0M304.5 420.7h0M324.5 401.4h0M260.5 401.1h0M296.5 420.0h0M365.2 411.8h0M358.0 409.2h0M312.1 420.7h0M298.5 419.3h0M329.2 404.3h0M304.5 420.8h0M326.5 403.0h0M332.4 419.7h0M251.7 412.5h0M352.1 420.4h0M300.2 419.6h0M358.9 402.4h0M299.3 420.3h0M297.8 419.3h0M299.3 419.1h0M324.9 408.4h0M345.7 401.3h0M297.8 418.0h0M319.8 413.9h0M380.5 409.2h0M327.0 415.4h0M322.9 414.6h0M327.1 411.6h0M305.3 420.6h0M280.7 412.8h0M317.2 418.8h0M247.8 409.1h0M306.3 420.5h0M347.1 407.3h0M326.2 414.9h0M381.0 397.7h0M262.4 418.2h0M271.6 418.9h0M291.1 418.6h0M327.2 412.8h0M347.8 401.5h0M308.2 419.6h0M303.3 420.5h0M300.6 419.8h0M313.5 418.5h0M310.0 419.3h0M310.0 418.6h0M323.5 409.2h0M387.2 399.0h0M393.3 401.8h0M319.2 409.2h0M352.1 403.3h0M283.7 390.2h0M328.2 396.0h0M327.4 406.3h0M263.6 403.8h0M240.7 398.0h0M319.9 414.4h0M272.0 402.1h0M309.8 419.2h0M302.3 420.8h0M306.9 420.7h0M254.7 413.3h0M291.1 409.0h0M293.7 420.7h0M292.1 417.2h0M272.0 404.5h0M321.2 417.3h0M264.3 411.5h0M322.2 407.9h0M286.9 406.3h0M317.3 414.1h0M257.0 417.5h0M243.2 406.8h0M311.1 418.9h0M325.7 395.4h0M358.4 403.0h0M331.6 413.7h0M295.2 418.7h0M311.8 418.4h0M316.3 411.1h0M236.3 411.6h0M277.2 410.3h0M292.6 418.6h0M306.0 420.8h0M327.7 404.2h0M311.1 419.2h0M300.6 420.3h0M383.5 396.5h0M297.5 420.3h0M263.9 397.4h0M335.3 405.0h0M325.6 402.0h0M269.9 412.9h0M304.9 420.5h0M325.3 411.6h0M283.4 388.9h0M299.8 418.9h0M321.4 420.2h0M317.2 416.1h0M291.3 415.2h0M281.2 389.6h0M338.4 405.7h0M306.4 420.3h0M293.5 411.7h0M276.4 405.1h0M287.6 408.3h0M320.6 416.5h0M330.9 419.7h0M299.7 420.8h0M302.4 420.5h0M327.8 408.6h0M358.2 398.1h0M311.8 419.9h0M298.9 420.2h0M331.0 397.9h0M327.6 416.2h0M287.2 416.5h0M295.0 419.3h0M326.9 414.1h0M266.0 419.4h0M279.6 406.9h0M319.1 415.1h0M346.2 412.0h0M319.9 417.2h0M321.1 416.4h0M346.5 417.2h0M321.1 408.8h0M259.6 414.4h0M348.4 414.7h0M340.7 409.5h0M229.6 403.7h0M262.1 400.9h0M309.0 419.3h0M262.7 397.3h0M358.0 400.0h0M282.9 413.8h0M260.5 399.3h0M360.6 404.6h0M341.8 419.0h0M293.9 420.3h0M345.8 420.2h0M347.7 405.4h0M279.5 414.3h0M357.3 402.5h0M326.8 415.8h0M278.7 400.0h0M261.9 415.6h0M253.8 404.8h0M282.1 396.0h0M320.7 413.2h0M310.9 418.8h0M314.1 420.2h0M234.9 414.4h0M279.4 394.7h0M334.3 412.5h0M238.5 410.6h0M304.3 420.6h0M323.4 406.2h0M251.0 397.2h0M351.0 415.7h0M324.1 403.5h0M316.0 413.7h0M288.0 402.0h0M374.7 401.0h0M327.8 400.7h0M331.8 403.3h0M234.2 404.0h0M314.5 416.1h0M250.9 396.3h0M284.0 419.0h0M331.9 413.2h0M313.6 420.6h0M308.2 420.3h0M308.3 420.7h0M289.0 406.5h0M293.0 416.4h0M281.4 406.4h0M278.6 402.4h0M305.1 420.7h0M300.0 419.8h0M291.7 420.5h0M308.4 420.1h0M329.7 417.8h0M367.5 403.1h0M353.8 413.0h0M327.2 410.3h0M336.0 416.6h0M204.8 401.1h0M343.5 408.7h0M313.6 420.6h0M286.7 407.7h0M269.5 400.8h0M320.5 419.9h0M305.0 420.7h0M278.4 414.4h0M295.9 415.8h0M241.7 405.7h0M329.3 420.3h0M304.0 420.8h0M311.8 420.3h0M279.3 388.5h0M246.6 417.9h0M241.0 412.4h0M312.8 418.9h0M393.8 403.7h0M294.8 420.4h0M359.2 400.9h0M231.5 396.8h0M309.1 420.5h0M310.0 418.9h0M337.5 417.8h0M316.0 417.5h0M310.8 419.9h0M332.8 405.9h0M314.6 417.1h0M343.5 414.1h0M331.5 420.4h0M317.1 417.2h0M282.1 414.9h0M315.4 417.1h0M284.9 411.0h0M220.0 408.3h0M260.1 399.0h0M311.8 420.8h0M346.0 417.3h0M300.7 420.6h0M330.6 395.2h0M246.9 415.1h0M247.5 406.8h0M303.6 420.5h0M401.6 405.6h0M338.3 419.1h0M340.4 398.8h0M345.0 418.7h0M336.3 418.6h0M336.3 407.0h0M295.0 417.9h0M320.3 418.3h0M302.7 420.8h0M296.5 418.3h0M263.9 419.9h0M333.1 403.2h0M279.9 406.7h0M295.6 419.8h0M374.5 399.6h0M324.4 407.2h0M347.0 401.8h0M342.2 406.1h0M308.8 420.6h0M321.6 404.7h0M303.6 420.6h0M276.7 418.6h0M274.7 410.6h0M325.9 408.4h0M355.6 414.9h0M281.4 400.7h0M257.3 417.7h0M290.6 411.0h0M315.9 415.3h0M305.4 420.8h0M378.7 413.3h0M268.6 401.8h0M312.6 417.3h0M338.0 416.6h0M303.0 420.6h0M357.3 404.5h0M292.2 417.5h0M293.4 420.4h0M265.1 413.4h0M290.9 414.3h0M296.3 418.1h0M250.0 397.1h0M285.1 402.3h0M296.7 418.9h0M292.9 413.6h0M296.1 417.8h0M261.4 403.3h0M297.3 420.6h0M283.9 407.6h0M300.1 420.5h0M359.0 407.0h0M341.6 401.0h0M295.6 416.1h0M294.3 420.2h0M316.0 416.5h0M310.9 420.6h0M284.1 400.5h0M329.2 411.6h0M308.8 420.0h0M278.3 407.1h0M318.0 412.7h0M323.9 401.5h0M287.8 417.7h0M291.9 413.0h0M262.8 407.4h0M305.1 420.7h0M277.6 406.9h0M287.7 412.4h0M304.4 420.7h0M330.5 398.5h0M354.6 397.7h0M344.3 402.3h0M347.7 395.5h0M400.0 405.7h0M308.9 419.3h0M324.8 407.6h0M294.4 420.5h0M281.3 397.3h0M275.7 417.0h0M337.9 417.5h0M337.4 417.2h0M306.2 420.4h0M302.5 420.3h0M296.0 418.4h0M347.6 413.4h0M344.9 415.4h0M314.1 420.5h0M305.8 420.6h0M294.1 416.3h0M309.6 419.6h0M287.8 404.1h0M241.5 398.1h0M317.6 413.7h0M256.2 413.3h0M287.6 414.9h0M287.4 402.6h0M339.4 404.4h0M289.3 420.7h0M278.4 406.8h0M281.4 418.6h0M276.6 418.4h0M323.0 411.3h0M270.5 403.2h0M354.5 414.0h0M285.1 420.7h0M330.8 398.4h0M255.5 404.6h0M239.5 414.9h0M346.1 408.6h0M347.8 416.9h0M268.4 403.9h0M317.1 416.0h0M306.7 420.6h0M340.2 398.2h0M402.5 404.5h0M362.5 414.3h0M251.3 397.7h0M329.3 406.9h0M281.2 391.4h0M346.9 398.5h0M337.5 409.3h0M312.7 416.8h0M320.4 405.1h0M323.6 411.5h0M331.3 404.4h0M329.8 411.0h0M295.3 418.1h0M297.2 417.7h0M260.4 395.8h0M340.7 412.4h0M345.9 397.8h0M281.7 416.3h0M273.1 398.9h0M345.8 397.7h0M259.9 409.8h0M317.0 416.5h0M310.9 418.6h0M289.9 413.9h0M279.3 407.1h0M320.8 420.0h0M292.0 420.6h0M319.0 413.5h0M270.2 416.2h0M315.7 418.2h0M354.6 399.8h0M279.4 406.0h0M322.7 413.4h0M318.0 408.9h0M355.7 420.7h0M297.4 418.1h0M278.7 413.7h0M277.5 397.8h0M357.7 396.1h0M374.3 410.0h0M344.9 412.2h0M318.5 407.4h0M285.2 394.5h0M295.0 416.1h0M373.7 409.0h0M357.9 395.6h0M279.6 416.2h0M280.2 413.4h0M287.3 407.0h0M262.4 406.0h0M354.6 414.9h0M290.4 407.7h0M335.1 397.6h0M319.6 407.2h0M327.2 416.7h0M279.8 414.9h0M286.1 417.3h0M334.6 406.3h0M372.0 395.9h0M301.4 420.3h0M261.5 417.7h0M355.5 417.3h0M361.2 399.5h0M340.8 414.2h0M261.9 411.5h0M296.7 417.0h0M309.7 419.5h0M273.2 417.2h0M382.1 403.5h0M204.1 402.8h0M230.5 407.3h0M290.5 417.1h0M284.0 418.0h0M286.9 414.1h0M278.8 418.7h0M315.8 415.5h0M314.5 414.1h0M299.6 419.0h0M296.9 417.9h0M302.1 420.4h0M350.8 411.8h0M300.8 420.8h0M361.5 399.6h0M322.5 411.5h0M308.2 420.2h0M271.2 396.3h0M340.5 396.3h0M308.2 420.7h0M314.6 419.0h0M310.8 419.2h0M250.2 399.6h0M301.4 420.8h0M382.8 396.4h0M259.2 420.2h0M289.8 410.5h0M319.5 417.4h0M300.6 419.6h0M308.4 419.7h0M384.3 402.5h0M309.8 419.3h0M333.1 406.3h0M315.3 417.2h0M314.7 419.8h0M264.5 417.8h0M312.1 417.0h0M267.8 401.0h0M348.2 406.7h0M246.2 411.8h0M301.6 420.5h0M295.0 416.5h0M318.9 410.6h0M344.1 404.5h0M303.8 420.5h0M285.6 410.6h0M273.4 405.8h0M364.3 417.5h0M299.7 419.8h0M343.3 420.2h0M296.0 419.4h0M283.0 415.6h0M259.1 407.3h0M360.0 400.2h0M323.4 398.4h0M316.4 419.6h0M364.4 412.3h0M323.8 403.7h0M269.3 395.3h0M329.9 403.2h0M279.5 388.5h0M273.4 399.3h0M294.6 415.5h0M274.2 411.7h0M402.1 395.6h0M294.6 420.2h0M318.1 420.0h0M374.9 406.4h0M287.1 411.0h0M353.9 417.7h0M275.5 416.0h0M241.1 396.1h0M350.6 408.0h0M227.9 397.7h0M280.5 398.9h0M277.0 419.6h0M300.9 419.7h0M285.4 400.9h0M303.3 420.8h0M314.1 417.6h0M345.3 413.6h0M363.3 410.4h0M333.7 405.4h0M346.2 409.1h0M355.5 411.1h0M349.7 398.7h0M354.1 403.0h0M226.5 410.8h0M297.2 418.3h0M308.8 419.9h0M307.1 420.2h0M270.4 400.0h0M371.7 412.1h0M360.3 417.0h0M270.3 405.5h0M358.7 406.7h0M295.0 420.4h0M274.8 416.1h0M321.0 411.0h0M338.0 409.5h0M374.3 401.7h0M304.4 420.7h0M275.2 395.5h0M283.6 396.2h0M392.1 398.7h0M298.4 418.0h0M264.0 412.9h0M317.7 410.8h0M383.7 410.4h0M350.6 419.3h0M319.4 417.1h0M288.2 411.0h0M298.2 419.4h0M227.0 396.9h0M328.5 396.0h0M275.0 418.4h0M344.5 405.3h0M322.1 412.8h0M282.7 396.9h0M287.8 407.0h0M334.5 396.0h0M363.5 410.5h0M375.2 395.7h0M327.7 400.0h0M242.7 397.1h0M316.7 416.4h0M350.3 419.7h0M301.7 420.7h0M259.0 413.5h0M383.7 404.6h0M328.1 399.7h0M355.0 412.4h0M266.3 409.1h0M323.2 397.5h0M271.5 406.6h0M287.0 402.0h0M335.1 403.1h0M360.6 397.0h0M330.3 397.9h0M308.7 420.5h0M305.7 420.7h0M331.7 417.5h0M296.4 418.7h0M330.0 406.9h0M345.1 401.5h0M330.6 417.7h0M280.1 410.4h0M343.3 406.5h0M328.4 409.1h0M284.7 411.2h0M232.1 403.7h0M315.5 413.1h0M312.6 416.0h0M379.3 410.1h0M268.5 412.7h0M354.7 420.6h0M344.6 404.1h0M310.1 419.0h0M311.9 418.0h0M331.1 420.5h0M328.2 413.2h0M333.7 420.2h0M337.1 417.4h0M360.9 406.1h0M321.2 404.0h0M279.7 401.0h0M258.9 402.9h0M350.3 416.1h0M309.8 420.8h0M304.4 420.7h0M321.5 413.3h0M316.9 416.5h0M353.2 398.1h0M327.4 398.4h0M297.8 417.6h0M313.8 416.4h0M304.1 420.7h0M282.7 412.9h0M351.8 405.0h0M275.4 417.3h0M274.5 417.9h0M275.1 404.8h0M306.7 420.4h0M361.3 409.7h0M328.7 417.9h0M353.6 416.4h0M251.4 412.7h0M299.6 418.9h0M339.7 407.0h0M343.0 404.1h0M315.4 418.4h0M329.1 411.0h0M256.1 396.0h0M333.0 416.3h0M247.2 414.4h0M313.6 415.5h0M333.5 419.1h0M400.7 399.2h0M252.3 413.8h0M347.6 420.4h0M300.0 420.5h0M283.4 395.3h0M254.7 401.3h0M295.0 418.0h0M299.3 419.0h0M312.0 419.5h0M292.9 419.9h0M285.7 400.2h0M318.0 413.0h0M277.7 410.6h0M293.2 418.9h0M285.3 403.9h0M297.4 419.1h0M386.8 395.9h0M359.2 399.4h0M306.4 420.6h0M306.8 420.4h0M284.5 415.1h0M218.7 408.2h0M361.9 414.2h0M302.7 420.8h0M311.6 420.2h0M255.3 403.2h0M335.2 404.8h0M335.0 402.5h0M368.2 401.3h0M280.8 402.4h0M345.7 401.6h0M293.0 416.2h0M255.0 411.4h0M322.0 415.9h0M295.1 414.9h0M284.9 406.1h0M310.5 419.9h0M291.6 413.5h0M299.6 419.7h0M361.8 417.7h0M282.0 419.6h0M307.3 420.5h0M331.1 417.7h0M350.3 420.0h0M301.8 420.1h0M300.7 419.8h0M324.1 399.1h0M335.7 408.1h0M262.5 412.9h0M236.6 409.3h0M286.1 407.1h0M276.1 414.8h0M337.1 401.1h0M273.8 414.5h0M374.0 400.0h0M311.6 420.4h0M335.8 411.9h0M330.2 420.0h0M243.8 405.3h0M358.1 416.4h0M329.2 419.5h0M288.4 419.8h0M334.6 402.1h0M267.0 412.7h0M312.4 418.7h0M307.5 420.4h0M230.3 400.7h0M279.1 395.9h0M304.9 420.6h0M318.6 412.4h0M330.3 403.2h0M323.5 404.3h0M321.6 407.5h0M335.0 417.4h0M285.7 402.8h0M338.0 407.9h0M287.3 406.1h0M350.7 419.3h0M317.2 420.4h0M251.9 415.3h0M302.8 420.7h0M282.6 395.9h0M312.0 417.2h0M278.7 409.3h0M292.2 418.3h0M291.4 412.7h0M277.3 417.9h0M351.6 417.3h0M324.0 400.7h0M294.2 420.4h0M303.3 420.4h0M297.6 420.5h0M297.4 418.7h0M273.4 403.3h0M317.2 413.1h0M336.2 420.8h0M335.2 419.8h0M271.9 399.8h0M265.7 419.7h0M330.2 412.5h0M276.1 414.0h0M288.6 417.1h0M329.7 404.6h0M251.7 406.7h0M341.2 407.6h0M317.7 414.7h0M334.4 399.1h0M332.4 411.4h0M300.7 419.6h0M308.9 419.4h0M303.8 420.7h0M319.5 418.5h0M296.6 418.9h0M316.0 418.7h0M296.6 420.8h0M241.3 406.5h0M392.2 406.0h0M274.5 419.1h0M322.7 407.2h0M280.1 409.5h0M293.4 417.5h0M297.4 419.6h0M310.5 420.2h0M326.4 415.3h0M235.3 404.2h0M296.6 416.1h0M296.5 420.4h0M241.4 409.8h0M311.4 420.2h0M315.0 420.1h0" stroke="#BEBEBE" stroke-width="4.1" stroke-linecap="round" fill="none"/>
<path d="M56.9 396.0h0M56.9 398.0h0M56.9 400.0h0M56.9 402.0h0M56.9 404.0h0M56.9 406.0h0M56.9 408.0h0M56.9 410.0h0M56.9 412.0h0M56.9 414.0h0M56.9 416.0h0M56.9 418.0h0M56.9 420.0h0M56.9 422.0h0" stroke="#BEBEBE" stroke-width="4.1" stroke-linecap="round" fill="none"/>
<path d="M537.6 396.0h0M537.6 398.0h0M537.6 400.0h0M537.6 402.0h0M537.6 404.0h0M537.6 406.0h0M537.6 408.0h0M537.6 410.0h0M537.6 412.0h0M537.6 414.0h0M537.6 416.0h0M537.6 418.0h0M537.6 420.0h0M537.6 422.0h0" stroke="#BEBEBE" stroke-width="4.1" stroke-linecap="round" fill="none"/>
<path d="M190.8 110.1h0M213.4 142.2h0M213.8 194.7h0M230.6 191.2h0M212.4 203.5h0M231.7 201.2h0M199.8 212.8h0M243.7 211.9h0M175.8 225.6h0M178.4 228.0h0M209.0 228.0h0M227.4 226.3h0M238.1 226.8h0M246.5 235.5h0M221.8 236.8h0M231.0 241.7h0M217.8 244.8h0M234.3 252.5h0M209.6 254.5h0M210.8 254.5h0M216.8 256.2h0M190.3 258.3h0M205.4 257.8h0M199.8 265.7h0M214.1 265.3h0M213.6 270.9h0M227.8 270.1h0M238.1 267.8h0M242.5 267.8h0M245.8 272.3h0M248.1 273.0h0M198.9 277.4h0M238.7 277.1h0M250.0 277.4h0M213.6 271.0h0M198.8 277.5h0M213.6 281.5h0M189.9 283.3h0M170.4 289.4h0M205.3 289.4h0M185.8 291.8h0M182.7 298.9h0M191.9 298.9h0M202.9 300.1h0M202.9 303.5h0M206.4 308.1h0M210.5 308.6h0M219.5 304.5h0M189.4 315.1h0M201.9 318.4h0M197.0 335.9h0M267.3 379.6h0M264.5 325.0h0M267.4 361.1h0M245.6 295.9h0M247.1 348.5h0M233.9 375.6h0M251.9 369.4h0M256.3 368.2h0M237.2 393.2h0M231.3 370.9h0M207.1 352.6h0M274.7 386.6h0M255.9 333.2h0M258.3 368.7h0M259.7 386.0h0M247.8 351.6h0M230.7 381.3h0M234.4 377.2h0M277.0 387.7h0M269.0 356.8h0M231.7 367.4h0M275.5 376.6h0M224.2 365.6h0M259.9 392.3h0M267.7 389.8h0M276.4 381.9h0M199.5 367.4h0M259.0 360.6h0M257.3 375.2h0M217.3 376.4h0M251.0 383.6h0M198.6 387.3h0M276.7 379.5h0M276.3 378.2h0M264.3 323.8h0M244.5 349.8h0M247.6 371.7h0M255.5 392.7h0M261.5 373.5h0M268.7 386.8h0M259.0 385.5h0M247.0 385.3h0M249.0 378.6h0M244.5 389.2h0M266.8 390.0h0M268.9 386.3h0M261.7 361.5h0M267.5 380.8h0M263.2 391.5h0M236.1 364.2h0M243.9 387.9h0M245.3 387.6h0M266.8 386.1h0M224.8 384.3h0M219.2 393.7h0M269.6 387.6h0M260.5 392.5h0M273.2 363.9h0M201.8 311.0h0M271.2 369.2h0M260.5 374.2h0M250.3 343.4h0M237.1 388.5h0M265.6 366.3h0M241.5 380.0h0M221.2 365.5h0M262.7 388.1h0M246.1 382.3h0M276.3 392.8h0M202.1 392.5h0M261.8 387.5h0M269.2 387.0h0M257.1 331.9h0M275.4 386.6h0M265.5 371.1h0M269.0 390.2h0M245.2 287.0h0M252.8 325.5h0M251.9 381.4h0M262.8 372.5h0M252.2 380.0h0M266.1 383.8h0M248.6 284.2h0M243.8 391.4h0M240.7 301.2h0M276.6 377.8h0M273.8 367.0h0M234.5 391.9h0M240.7 393.4h0M250.1 360.3h0M244.4 391.2h0M273.2 371.2h0M240.0 378.8h0M272.7 390.2h0M247.0 295.7h0M268.8 384.7h0M264.5 392.2h0M240.2 356.5h0M246.3 372.6h0M254.4 342.8h0M223.1 369.0h0M251.0 383.2h0M273.8 388.2h0M272.7 387.0h0M227.3 356.5h0M273.3 388.2h0M267.3 382.0h0M269.9 385.7h0M165.5 382.9h0M263.4 377.3h0M234.8 370.8h0M207.8 370.0h0M273.0 389.1h0M188.3 315.0h0M271.1 374.4h0M253.2 390.0h0M261.8 367.5h0M276.0 387.5h0M264.8 369.6h0M275.8 373.5h0M263.7 383.5h0M211.7 377.9h0M274.3 379.6h0M273.5 374.1h0M238.6 361.0h0M248.5 369.3h0M264.7 391.6h0M251.7 371.0h0M257.0 390.2h0M224.9 380.0h0M214.3 384.6h0M251.5 386.5h0M255.1 379.2h0M274.2 387.0h0M246.1 371.1h0M265.9 369.6h0M234.8 385.1h0M271.3 381.1h0M264.5 363.2h0M246.1 379.7h0M271.0 360.0h0M276.5 391.9h0M255.9 302.8h0M249.3 384.1h0M238.0 297.1h0M273.3 384.6h0M272.1 378.7h0M274.0 366.4h0M258.6 379.3h0M259.3 358.4h0M260.7 302.9h0M248.4 317.9h0M273.0 382.7h0M264.7 393.1h0M252.3 352.7h0M264.9 325.4h0M276.9 389.0h0M262.5 346.0h0M259.3 310.7h0M205.2 329.4h0M249.9 299.6h0M261.1 368.3h0M277.5 393.0h0M264.4 390.6h0M256.4 339.8h0M260.2 368.3h0M268.3 357.9h0M250.4 304.7h0M258.1 380.2h0M274.4 393.7h0M263.0 382.9h0M274.7 389.6h0M278.2 390.5h0M264.7 390.5h0M266.8 393.4h0M274.6 371.9h0M277.3 384.7h0M274.1 376.5h0M258.4 390.5h0M277.8 391.4h0M238.9 371.3h0M263.0 345.1h0M243.1 388.2h0M271.9 364.2h0M277.2 393.2h0M278.0 393.1h0M232.7 348.4h0M215.2 377.0h0M238.6 387.5h0M269.4 384.9h0M217.5 301.1h0M261.5 347.5h0M246.9 389.1h0M274.5 388.1h0M237.6 328.6h0M273.9 381.8h0M264.2 392.2h0M261.2 314.6h0M252.0 360.4h0M250.7 301.4h0M268.4 392.4h0M258.2 386.0h0M257.1 392.3h0M275.7 392.9h0M267.4 332.1h0M262.5 332.2h0M245.9 384.0h0M237.9 285.0h0M277.0 390.3h0M277.4 385.4h0M223.8 378.2h0M272.2 382.5h0M242.2 326.9h0M269.2 352.5h0M227.5 330.6h0M264.0 379.8h0M268.4 388.2h0M262.3 392.4h0M247.8 355.3h0M266.3 376.9h0M261.1 365.2h0M274.8 389.4h0M211.6 303.1h0M203.3 327.5h0M215.8 384.0h0M210.9 369.6h0M252.2 392.0h0M255.8 380.6h0M268.4 369.2h0M249.7 386.2h0M272.7 370.1h0M276.1 384.2h0M249.7 367.9h0M271.0 390.6h0M260.8 380.3h0M266.3 359.3h0M237.9 354.6h0M244.1 388.8h0M263.1 391.2h0M277.7 390.5h0M261.7 367.3h0M164.6 286.0h0M278.4 390.1h0M277.0 386.3h0M271.2 392.0h0M263.0 364.6h0M267.4 393.0h0M206.1 315.1h0M272.6 373.9h0M239.1 284.7h0M261.1 337.6h0M257.7 393.5h0M255.5 356.3h0M254.6 390.1h0M256.6 338.3h0M243.5 382.9h0M265.0 336.2h0M266.0 380.5h0M258.7 391.6h0M270.5 381.7h0M256.6 361.3h0M266.9 348.2h0M265.9 362.1h0M209.1 339.9h0M270.9 384.8h0M196.4 388.6h0M273.9 389.1h0M248.7 380.3h0M225.6 324.0h0M210.4 387.8h0M264.6 388.2h0M276.0 379.6h0M265.5 336.9h0M160.3 380.1h0M261.5 320.9h0M270.9 368.1h0M230.5 362.6h0M252.4 335.5h0M268.6 391.7h0M272.1 370.7h0M269.8 391.3h0M273.4 388.2h0M215.0 385.9h0M267.8 371.9h0M249.2 386.2h0M253.5 334.9h0M261.6 383.3h0M255.4 378.1h0M277.5 389.7h0M224.1 356.9h0M236.6 393.5h0M272.8 367.6h0M274.3 383.3h0M258.0 366.5h0M268.9 386.9h0M272.5 371.8h0M266.6 370.1h0M194.8 370.6h0M261.5 382.1h0M275.0 376.5h0M242.0 359.9h0M263.1 359.1h0M268.1 361.8h0M260.7 355.0h0M251.1 306.8h0M266.6 381.1h0M232.6 374.8h0M273.7 390.9h0M273.3 376.6h0M271.2 386.8h0M223.8 379.8h0M238.4 369.7h0M227.7 384.8h0M231.2 382.2h0M242.4 390.0h0M278.5 392.2h0M241.9 393.6h0M268.1 388.0h0M256.9 383.6h0M269.8 353.7h0M260.8 311.5h0M174.6 368.6h0M265.6 393.6h0M235.5 353.3h0M259.4 384.0h0M265.0 378.0h0M275.7 375.3h0M249.6 341.9h0M265.3 389.0h0M261.4 339.6h0M246.7 318.0h0M230.1 387.4h0M256.8 380.1h0M224.5 367.4h0M254.6 300.0h0M269.8 383.6h0M267.7 356.9h0M267.5 358.4h0M264.7 393.1h0M235.9 359.5h0M267.5 384.5h0M272.1 388.6h0M271.5 364.7h0M260.2 383.3h0M270.6 372.1h0M262.2 328.0h0M254.9 358.7h0M264.1 376.0h0M233.5 366.0h0M270.2 378.2h0M257.2 312.8h0M266.3 347.6h0M243.2 364.8h0M263.3 391.7h0M252.8 348.3h0M255.9 352.4h0M269.2 362.5h0M258.1 368.0h0M227.0 353.7h0M225.5 313.5h0M275.0 369.7h0M250.0 300.8h0M270.8 378.7h0M257.0 335.9h0M268.9 379.2h0M265.3 380.5h0M259.8 384.3h0M265.4 392.8h0M273.4 381.1h0M223.3 379.9h0M258.1 343.1h0M270.5 388.0h0M208.0 385.1h0M271.3 383.5h0M256.9 379.4h0M273.4 389.8h0M224.5 284.3h0M249.4 386.5h0M261.9 375.9h0M240.6 366.1h0M269.5 374.0h0M235.2 385.4h0M242.9 344.7h0M268.1 364.4h0M266.4 377.9h0M257.4 390.4h0M260.3 368.2h0M262.2 393.0h0M237.4 322.9h0M271.9 369.6h0M256.6 373.9h0M258.4 391.1h0M277.5 383.4h0M264.2 366.1h0M240.6 301.6h0M275.6 372.1h0M271.8 372.2h0M268.9 380.6h0M239.8 386.3h0M261.9 364.3h0M268.6 366.1h0M265.5 364.8h0M275.6 384.1h0M260.3 378.5h0M277.8 387.6h0M273.5 386.3h0M248.4 388.2h0M232.9 317.8h0M270.0 383.8h0M259.9 365.3h0M252.6 346.8h0M269.0 353.4h0M266.4 380.9h0M261.5 384.7h0M224.4 388.7h0M265.8 393.6h0M233.1 371.6h0M252.2 390.3h0M270.0 382.3h0M258.3 391.2h0M267.1 333.8h0M274.8 378.9h0M234.9 340.8h0M274.5 375.9h0M192.6 343.5h0M255.5 392.5h0M243.2 355.4h0M264.8 384.9h0M270.4 391.7h0M260.7 372.9h0M256.0 385.8h0M276.9 386.4h0M257.0 378.0h0M276.6 390.2h0M271.1 381.3h0M258.6 335.5h0M251.6 393.0h0M243.3 362.1h0M273.2 389.3h0M255.0 377.0h0M243.7 386.1h0M263.3 385.2h0M268.2 389.8h0M203.1 305.9h0M238.5 353.9h0M262.3 340.9h0M241.5 389.4h0M266.0 387.0h0M275.5 373.3h0M263.3 367.1h0M273.3 370.6h0M270.1 374.2h0M221.5 375.5h0M273.2 387.3h0M266.3 379.0h0M240.2 387.4h0M218.4 295.9h0M273.7 388.6h0M218.2 331.6h0M265.8 336.7h0M230.0 392.7h0M217.3 387.7h0M263.2 347.7h0M223.9 385.9h0M255.9 386.2h0M275.7 388.6h0M236.3 393.3h0M270.5 390.4h0M261.8 386.9h0M270.9 386.5h0M262.6 366.6h0M268.0 347.6h0M259.8 359.9h0M238.0 380.7h0M268.5 385.7h0M263.3 379.6h0M264.2 383.0h0M182.7 379.4h0M269.0 357.6h0M273.9 372.7h0M234.5 360.9h0M249.5 391.7h0M241.9 369.2h0M214.4 314.7h0M232.7 392.3h0M241.9 392.2h0M275.5 374.2h0M274.7 371.1h0M265.2 343.9h0M236.7 298.4h0M262.1 309.9h0M203.8 379.9h0M273.8 377.9h0M254.5 352.5h0M246.8 383.5h0M230.7 390.5h0M262.5 384.9h0M265.1 367.0h0M248.7 288.8h0M243.4 346.4h0M211.0 384.4h0M276.4 389.4h0M267.1 377.3h0M250.5 320.3h0M244.3 329.3h0M263.0 380.5h0M240.5 378.9h0M271.8 359.8h0M251.6 383.2h0M275.5 388.3h0M276.8 378.3h0M212.7 389.8h0M269.7 378.8h0M263.6 383.4h0M266.5 365.7h0M258.0 376.1h0M257.8 358.5h0M262.3 392.6h0M268.1 379.9h0M275.6 393.1h0M255.2 359.5h0M254.5 371.5h0M269.6 368.7h0M269.6 383.1h0M237.4 358.1h0M267.1 390.9h0M218.6 389.6h0M274.8 391.4h0M245.9 386.8h0M242.8 356.0h0M266.2 385.5h0M252.2 310.4h0M239.8 368.9h0M258.1 385.9h0M272.5 355.2h0M265.8 347.2h0M208.9 382.2h0M219.1 331.9h0M235.7 381.1h0M256.5 389.6h0M257.1 368.3h0M265.5 362.9h0M253.1 317.7h0M256.1 383.5h0M196.8 387.7h0M250.8 294.3h0M239.2 370.1h0M246.4 377.0h0M259.4 385.4h0M247.0 374.9h0M258.0 385.5h0M244.1 318.9h0M241.7 391.6h0M258.9 332.3h0M260.2 384.4h0M236.4 345.5h0M264.9 368.5h0M238.0 390.6h0M256.3 293.9h0M259.5 392.9h0M267.7 392.7h0M257.2 325.3h0M220.2 363.0h0M204.4 392.3h0M247.6 388.5h0M236.0 379.6h0M248.4 386.1h0M244.6 333.2h0M177.1 384.4h0M274.1 393.7h0M269.8 365.4h0M271.0 367.6h0M217.6 351.2h0M240.2 377.5h0M277.6 389.3h0M260.0 336.1h0M262.9 378.4h0M232.9 386.0h0M273.2 390.8h0M223.9 371.0h0M252.6 357.2h0M272.4 363.2h0M275.8 376.0h0M230.6 366.3h0M243.2 310.1h0M277.3 393.3h0M274.8 382.7h0M236.1 333.6h0M224.9 375.8h0M272.5 372.0h0M274.1 377.2h0M249.2 384.0h0M270.1 346.3h0M235.8 374.8h0M232.9 369.6h0M253.7 355.0h0M262.0 342.7h0M277.9 388.4h0M182.1 371.5h0M266.6 359.8h0M272.2 379.5h0M254.2 366.7h0M272.8 376.0h0M270.8 372.8h0M198.2 327.1h0M251.0 368.6h0M259.0 380.6h0M225.9 374.4h0M200.1 324.7h0M201.0 390.4h0M256.9 371.8h0M260.3 383.4h0M232.5 340.4h0M256.1 371.4h0M259.6 327.8h0M273.5 391.9h0M214.1 306.9h0M269.0 391.7h0M268.2 371.4h0M259.7 332.3h0M257.2 388.4h0M265.6 393.0h0M266.7 376.7h0M252.5 286.5h0M257.4 335.6h0M253.5 390.3h0M254.3 385.4h0M214.1 374.7h0M242.7 324.5h0M254.3 375.4h0M248.2 381.6h0M195.2 371.3h0M189.5 388.6h0M255.8 363.1h0M276.2 375.9h0M214.1 368.6h0M265.4 383.5h0M272.9 368.3h0M238.0 391.6h0M265.8 386.8h0M216.2 384.2h0M236.0 382.1h0M240.9 390.3h0M236.1 353.7h0M275.9 386.5h0M262.1 352.9h0M235.2 389.2h0M256.4 379.2h0M266.7 381.2h0M226.4 362.8h0M227.5 388.6h0M258.2 390.4h0M265.4 334.3h0M267.4 381.9h0M222.3 283.8h0M262.6 359.4h0M218.8 365.8h0M229.0 382.9h0M246.7 387.3h0M256.8 307.9h0M252.3 333.3h0M273.6 387.2h0M271.1 361.8h0M243.5 343.7h0M270.4 390.9h0M218.0 371.4h0M267.9 352.9h0M275.5 391.3h0M261.9 385.6h0M270.1 387.1h0M265.6 387.9h0M261.2 334.4h0M274.5 385.7h0M236.7 383.4h0M244.9 387.7h0M256.5 393.5h0M273.8 380.3h0M251.2 376.2h0M268.6 388.8h0M255.9 388.0h0M262.7 351.4h0M276.2 392.3h0M261.2 355.2h0M197.4 336.0h0M266.7 374.6h0M269.5 388.4h0M249.5 388.8h0M256.9 352.5h0M262.7 313.0h0M261.6 350.3h0M248.4 294.9h0M265.5 383.4h0M261.0 391.9h0M259.2 367.9h0M261.5 362.3h0M277.2 387.9h0M212.6 350.7h0M270.9 382.0h0M256.7 385.4h0M265.7 381.7h0M261.3 371.6h0M261.6 390.0h0M272.7 390.1h0M269.1 363.7h0M266.5 380.5h0M273.1 386.8h0M274.6 377.3h0M197.8 387.2h0M249.5 383.9h0M235.3 391.7h0M232.2 285.6h0M242.1 337.0h0M262.1 389.6h0M236.8 385.9h0M245.0 312.5h0M237.8 378.6h0M251.3 351.7h0M259.5 390.0h0M273.6 372.3h0M258.7 354.6h0M253.0 328.5h0M276.8 382.5h0M271.2 362.3h0M263.6 359.9h0M250.2 377.8h0M274.8 367.3h0M251.7 367.8h0M265.2 368.9h0M232.4 366.7h0M243.3 378.1h0M271.2 374.8h0M238.5 369.1h0M274.7 382.3h0M254.2 309.4h0M272.7 392.1h0M206.0 298.4h0M266.2 383.7h0M227.7 306.9h0M271.6 354.5h0M272.6 393.5h0M272.4 388.0h0M262.8 385.8h0M268.3 342.2h0M223.4 392.3h0M224.9 319.0h0M263.4 351.7h0M240.6 357.6h0M272.4 387.9h0M267.7 351.2h0M267.1 378.7h0M252.1 360.5h0M226.9 368.5h0M269.1 341.0h0M232.7 368.3h0M251.9 344.1h0M236.7 376.8h0M267.7 363.6h0M240.3 369.2h0M264.8 368.4h0M252.3 393.8h0M277.3 390.7h0M251.1 389.6h0M260.0 378.0h0M261.2 359.1h0M265.2 374.0h0M240.0 338.8h0M257.2 381.4h0M262.6 392.4h0M184.3 386.5h0M232.7 389.5h0M238.4 366.3h0M233.8 370.0h0M267.9 334.0h0M264.6 374.8h0M236.9 321.9h0M251.2 380.4h0M263.9 324.3h0M251.2 390.2h0M238.9 371.6h0M251.3 390.9h0M215.0 308.9h0M219.0 327.2h0M272.0 391.7h0M259.3 365.1h0M226.2 312.8h0M275.6 381.0h0M262.7 390.7h0M258.0 392.4h0M277.3 385.0h0M219.8 391.0h0M261.6 362.0h0M266.9 360.8h0M169.1 375.4h0M264.3 390.1h0M248.8 388.1h0M265.8 353.7h0M256.2 310.9h0M269.8 376.0h0M210.3 376.0h0M264.0 390.3h0M226.3 381.8h0M263.9 381.0h0M264.9 382.9h0M184.9 367.1h0M265.5 376.6h0M276.1 387.7h0M253.8 335.9h0M233.9 391.9h0M205.5 312.3h0M274.1 387.1h0M269.2 390.9h0M231.5 393.0h0M244.6 379.7h0M260.5 380.9h0M274.1 363.7h0M268.5 355.0h0M270.2 383.8h0M263.8 386.2h0M248.4 384.9h0M241.6 370.9h0M246.1 330.3h0M250.7 369.5h0M250.2 374.9h0M264.2 353.0h0M257.5 378.6h0M273.4 373.9h0M252.7 383.0h0M254.7 349.1h0M267.7 358.5h0M272.7 387.2h0M262.4 387.7h0M218.5 368.4h0M246.4 360.9h0M248.8 303.5h0M252.6 368.3h0M274.6 374.0h0M243.9 372.6h0M272.1 376.8h0M272.3 393.3h0M229.9 331.9h0M233.0 382.3h0M255.4 320.5h0M267.9 383.4h0M254.9 373.6h0M264.3 390.4h0M240.0 317.1h0M244.8 294.5h0M254.4 317.3h0M251.4 385.2h0M256.6 368.4h0M264.1 377.4h0M198.6 380.6h0M268.3 376.2h0M242.0 350.4h0M264.6 362.9h0M267.7 372.1h0M243.7 378.7h0M260.8 384.0h0M273.0 370.1h0M268.0 393.1h0M243.2 329.7h0M271.6 379.9h0M268.7 392.3h0M272.1 373.2h0M222.0 378.7h0M277.2 388.4h0M274.5 376.5h0M248.8 339.9h0M253.3 301.6h0M252.2 374.6h0M263.6 388.6h0M251.8 364.4h0M258.0 378.2h0M244.8 383.7h0M269.8 370.4h0M244.8 316.5h0M278.0 385.9h0M272.9 390.3h0M271.9 391.0h0M261.7 391.2h0M188.2 304.4h0M270.3 374.3h0M240.3 345.8h0M275.2 383.8h0M245.4 393.3h0M246.9 361.0h0M246.8 393.3h0M274.0 377.0h0M252.2 318.3h0M268.0 390.2h0M223.8 349.1h0M272.8 388.5h0M264.8 365.2h0M263.5 373.2h0M220.4 310.5h0M265.3 384.7h0M238.2 392.4h0M268.5 356.6h0M269.0 371.6h0" stroke="#0000FF" stroke-width="4.1" stroke-linecap="round" fill="none"/>
<path d="M56.9 47.5h0M56.9 53.3h0M56.9 135.2h0M56.9 209.7h0M56.9 235.9h0M56.9 275.0h0M56.9 278.0h0M56.9 281.0h0M56.9 291.0h0M56.9 293.2h0M56.9 295.4h0M56.9 297.6h0M56.9 299.8h0M56.9 302.0h0M56.9 304.2h0M56.9 306.4h0M56.9 308.6h0M56.9 310.8h0M56.9 313.0h0M56.9 315.2h0M56.9 317.4h0M56.9 319.6h0M56.9 321.8h0M56.9 324.0h0M56.9 326.2h0M56.9 328.4h0M56.9 330.6h0M56.9 332.8h0M56.9 335.0h0M56.9 337.2h0M56.9 339.4h0M56.9 341.6h0M56.9 343.8h0M56.9 346.0h0M56.9 351.0h0M56.9 353.2h0M56.9 355.4h0M56.9 357.6h0M56.9 359.8h0M56.9 362.0h0M56.9 364.2h0M56.9 366.4h0M56.9 368.6h0M56.9 370.8h0M56.9 373.0h0M56.9 375.2h0M56.9 377.4h0M56.9 379.6h0M56.9 381.8h0M56.9 384.0h0M56.9 386.2h0M56.9 388.4h0M56.9 390.6h0M56.9 392.8h0" stroke="#0000FF" stroke-width="4.1" stroke-linecap="round" fill="none"/>
<path d="M449.8 9.3h0M405.9 52.1h0M472.0 51.9h0M442.1 60.5h0M431.1 76.6h0M445.8 76.6h0M461.9 76.6h0M430.4 89.7h0M437.2 95.5h0M413.1 96.9h0M402.6 107.7h0M410.5 116.3h0M404.5 121.2h0M406.3 133.4h0M442.1 132.7h0M469.2 132.7h0M397.7 137.1h0M425.3 140.7h0M401.9 145.1h0M407.7 147.0h0M409.6 151.7h0M423.6 148.9h0M452.1 149.3h0M440.9 153.5h0M417.8 156.4h0M401.9 162.2h0M399.6 165.7h0M400.3 168.0h0M429.9 163.4h0M447.0 166.9h0M454.0 168.0h0M426.9 171.1h0M403.1 173.4h0M406.6 177.4h0M417.1 178.5h0M417.1 180.9h0M408.9 182.0h0M444.6 173.9h0M447.4 176.9h0M430.6 176.9h0M376.7 180.9h0M387.9 180.2h0M390.2 186.0h0M401.2 186.7h0M404.9 185.5h0M416.6 186.7h0M443.9 182.0h0M443.9 183.9h0M383.2 190.7h0M425.3 190.9h0M434.6 190.9h0M482.0 187.9h0M407.0 195.4h0M414.3 194.7h0M420.6 194.9h0M391.9 197.9h0M393.7 199.6h0M399.6 198.9h0M373.9 204.9h0M366.9 210.5h0M370.4 214.0h0M395.6 208.2h0M397.2 210.1h0M394.9 210.1h0M389.5 210.8h0M414.3 204.2h0M421.8 207.7h0M434.6 205.9h0M440.0 203.1h0M440.9 208.9h0M442.3 209.6h0M410.1 216.4h0M417.1 213.6h0M420.6 215.9h0M426.0 215.9h0M421.8 220.6h0M435.8 218.2h0M440.9 218.2h0M443.5 219.4h0M382.0 221.1h0M364.1 225.7h0M365.2 231.1h0M375.5 229.5h0M381.3 228.8h0M388.4 224.6h0M397.2 226.4h0M401.9 227.6h0M405.4 227.6h0M410.1 222.2h0M411.2 220.6h0M414.7 226.4h0M415.4 228.1h0M428.8 223.4h0M433.0 226.4h0M434.1 225.3h0M384.4 234.6h0M385.5 238.1h0M383.2 241.6h0M394.2 239.3h0M403.1 233.4h0M404.9 235.8h0M407.7 234.6h0M409.4 238.1h0M406.1 240.9h0M410.1 242.8h0M418.2 240.9h0M432.3 239.3h0M439.3 240.4h0M440.9 234.6h0M443.9 233.0h0M375.0 243.9h0M369.2 249.8h0M369.9 254.5h0M378.1 249.1h0M386.7 245.6h0M392.6 248.6h0M401.2 247.0h0M404.2 249.8h0M413.1 246.3h0M427.8 249.1h0M358.2 258.0h0M360.3 267.3h0M373.9 262.2h0M384.8 256.8h0M386.7 260.8h0M388.4 259.6h0M397.2 258.0h0M399.1 261.5h0M395.6 262.6h0M414.7 254.5h0M413.6 258.0h0M411.2 260.3h0M415.9 256.8h0M433.4 258.0h0M383.7 266.1h0M382.0 269.6h0M381.6 273.6h0M384.4 272.7h0M390.9 275.0h0M393.7 267.3h0M396.1 267.3h0M396.1 273.6h0M401.9 270.3h0M403.1 273.1h0M407.7 269.6h0M410.1 272.0h0M411.7 270.8h0M418.2 267.3h0M419.4 269.6h0M421.3 273.1h0M424.1 273.6h0M425.3 270.8h0M430.6 267.3h0M463.3 272.0h0M361.5 278.3h0M365.7 275.9h0M365.2 280.1h0M356.8 289.5h0M353.3 292.3h0M372.7 282.5h0M373.9 284.8h0M376.2 286.0h0M378.5 279.7h0M380.9 283.6h0M382.0 286.0h0M385.5 286.0h0M384.4 288.3h0M392.6 286.7h0M394.9 285.3h0M396.1 287.2h0M394.2 290.7h0M403.5 287.6h0M406.6 287.9h0M407.7 280.1h0M408.9 281.3h0M409.6 279.7h0M417.8 281.3h0M419.4 282.5h0M421.8 290.7h0M430.6 280.6h0M449.8 287.6h0M364.5 289.5h0M366.9 293.0h0M370.4 294.2h0M376.2 294.6h0M383.2 294.2h0M389.1 296.0h0M392.6 295.8h0M396.1 294.2h0M401.9 291.8h0M407.7 294.2h0M419.4 296.0h0M438.1 293.0h0M454.5 298.8h0M428.8 298.8h0M386.9 378.0h0M341.3 345.7h0M414.6 306.6h0M394.5 355.8h0M408.6 324.3h0M377.2 315.5h0M399.4 349.4h0M348.7 375.1h0M329.9 384.4h0M400.1 361.5h0M346.6 360.4h0M364.9 380.6h0M343.0 340.9h0M358.4 373.7h0M375.1 317.3h0M361.0 324.1h0M374.4 377.6h0M372.4 391.4h0M364.0 380.5h0M370.0 384.2h0M377.9 343.3h0M378.1 390.3h0M355.2 366.0h0M365.1 376.9h0M369.9 393.4h0M385.9 365.8h0M347.0 361.2h0M343.6 367.2h0M413.5 314.5h0M346.4 356.4h0M377.4 354.8h0M367.7 366.3h0M333.5 373.6h0M382.4 307.0h0M336.5 364.4h0M353.0 353.0h0M367.1 369.3h0M380.9 305.3h0M342.1 374.1h0M371.8 364.3h0M374.8 343.2h0M347.8 335.6h0M370.6 380.8h0M333.0 393.7h0M336.3 389.6h0M349.2 375.3h0M359.3 390.0h0M368.6 318.8h0M365.5 321.2h0M364.3 359.0h0M350.9 392.0h0M366.8 385.7h0M347.2 384.9h0M336.1 384.7h0M327.9 390.6h0M390.1 352.3h0M355.6 373.1h0M369.4 392.7h0M349.7 326.8h0M355.7 363.1h0M349.4 392.8h0M331.8 391.5h0M354.9 382.6h0M337.6 383.0h0M375.5 375.9h0M368.7 379.7h0M338.3 366.6h0M345.2 384.4h0M414.7 335.5h0M394.3 385.6h0M382.0 362.9h0M358.0 388.8h0M347.6 351.2h0M351.3 390.6h0M362.3 382.6h0M345.2 393.5h0M408.9 335.8h0M379.6 369.2h0M357.0 385.6h0M372.7 376.3h0M375.1 376.5h0M370.6 335.6h0M382.8 385.0h0M387.0 333.5h0M366.5 305.6h0M337.5 381.5h0M337.0 393.3h0M356.6 393.4h0M373.6 390.6h0M391.1 371.5h0M378.9 384.0h0M339.2 358.1h0M342.6 388.0h0M333.4 369.8h0M365.0 371.1h0M377.0 318.4h0M378.4 368.2h0M330.3 388.7h0M334.8 385.4h0M352.5 365.1h0M352.3 347.5h0M388.1 331.1h0M386.1 376.5h0M339.4 375.9h0M354.6 377.5h0M356.4 367.8h0M331.6 387.6h0M335.8 389.1h0M330.5 393.5h0M367.8 363.2h0M347.7 379.5h0M377.8 328.9h0M405.2 317.4h0M338.1 357.6h0M352.4 366.2h0M365.7 388.5h0M336.2 357.4h0M354.0 391.6h0M366.6 380.2h0M378.4 331.5h0M381.6 324.9h0M352.6 365.7h0M338.1 373.7h0M363.0 393.6h0M365.1 364.3h0M386.0 382.2h0M353.0 378.9h0M344.5 369.0h0M388.8 386.9h0M382.6 370.1h0M360.5 324.1h0M353.4 365.5h0M352.1 387.0h0M330.7 392.6h0M353.9 372.5h0M362.1 353.1h0M364.0 379.2h0M362.6 385.4h0M338.9 378.1h0M333.7 369.7h0M369.0 328.7h0M337.6 383.4h0M341.8 392.7h0M355.4 382.2h0M349.9 374.5h0M370.8 363.5h0M377.4 354.3h0M332.6 388.1h0M361.8 329.9h0M369.7 392.8h0M334.3 380.6h0M351.7 393.6h0M329.4 389.7h0M339.9 393.5h0M367.5 371.0h0M377.7 320.4h0M384.6 392.5h0M391.7 387.1h0M375.6 359.1h0M373.8 338.9h0M364.2 349.6h0M412.3 330.9h0M369.1 379.7h0M379.1 314.3h0M352.5 376.8h0M364.1 387.6h0M341.7 384.0h0M358.2 382.6h0M391.1 384.4h0M356.0 340.5h0M340.9 351.6h0M372.5 328.7h0M383.6 345.5h0M366.3 375.1h0M377.2 377.4h0M354.5 316.3h0M382.2 388.5h0M410.6 332.9h0M400.1 326.4h0M353.1 392.8h0M362.0 366.1h0M368.5 369.0h0M343.0 383.9h0M345.3 382.0h0M376.3 375.9h0M350.8 374.1h0M372.7 367.2h0M358.1 358.8h0M360.5 371.0h0M367.3 384.8h0M335.2 378.7h0M339.3 382.7h0M354.1 352.5h0M344.0 333.9h0M337.6 348.4h0M364.8 392.1h0M348.2 391.5h0M360.2 335.5h0M380.4 381.6h0M338.3 381.7h0M345.1 389.1h0M348.7 393.2h0M336.4 376.7h0M338.8 370.3h0M419.2 320.6h0M405.3 323.3h0M358.1 381.9h0M344.3 386.4h0M346.2 384.1h0M381.6 323.0h0M362.7 390.6h0M385.2 386.5h0M365.5 345.0h0M392.2 376.1h0M359.4 381.4h0M368.1 386.5h0M333.7 373.0h0M339.8 381.7h0M384.6 312.2h0M337.5 375.7h0M368.4 313.7h0M352.6 390.5h0M362.6 373.6h0M358.7 385.3h0M352.8 368.0h0M335.9 391.0h0M356.4 375.7h0M328.9 393.8h0M337.4 389.3h0M335.7 383.6h0M368.0 385.0h0M350.8 392.5h0M375.8 390.6h0M372.8 372.0h0M338.4 364.3h0M368.1 354.4h0M421.7 328.7h0M410.3 356.8h0M333.1 387.2h0M358.0 363.8h0M387.3 357.7h0M361.4 378.7h0M362.5 372.8h0M371.0 354.5h0M342.8 383.9h0M402.0 340.2h0M337.1 375.5h0M380.2 333.5h0M340.8 388.7h0M344.5 360.0h0M371.2 359.2h0M380.1 385.4h0M384.0 367.5h0M344.8 389.7h0M378.9 379.7h0M366.8 357.7h0M342.0 330.6h0M361.1 381.3h0M350.4 365.2h0M410.1 327.0h0M374.1 389.9h0M347.6 377.4h0M413.2 339.6h0M347.6 382.5h0M330.9 384.9h0M355.7 378.6h0M380.6 358.9h0M377.6 368.6h0M339.9 390.5h0M364.5 316.4h0M339.0 376.1h0M359.7 322.5h0M377.5 365.3h0M353.1 383.4h0M334.2 392.8h0M349.1 359.8h0M394.4 326.4h0M366.6 393.4h0M401.6 385.1h0M352.9 384.2h0M367.1 392.2h0M388.6 350.0h0M371.8 335.3h0M339.0 393.6h0M352.4 371.5h0M349.3 393.2h0M330.6 384.9h0M355.1 381.5h0M345.7 392.7h0M392.8 378.0h0M377.5 333.5h0M417.6 349.2h0M346.6 383.8h0M409.2 304.7h0M363.0 341.3h0M430.3 303.2h0M350.0 384.2h0M376.9 343.7h0M407.1 366.7h0M343.1 389.4h0M367.1 391.6h0M369.0 346.8h0M355.9 354.7h0M396.6 388.0h0M344.4 363.8h0M352.3 386.9h0M379.2 340.3h0M353.9 385.5h0M386.3 364.5h0M363.8 358.7h0M336.2 374.3h0M357.4 378.3h0M355.1 380.6h0M356.0 305.9h0M402.6 312.7h0M365.9 363.3h0M377.8 360.3h0M345.8 375.5h0M362.6 369.0h0M362.3 378.8h0M347.0 370.5h0M346.9 376.9h0M384.8 390.8h0M350.4 361.5h0M383.8 376.5h0M406.5 331.2h0M373.5 372.3h0M354.7 357.0h0M339.5 385.0h0M359.4 332.9h0M389.2 321.2h0M361.2 331.7h0M360.2 352.2h0M350.0 367.2h0M367.2 340.1h0M357.5 384.8h0M365.5 386.2h0M343.8 379.8h0M334.9 369.5h0M428.3 331.5h0M343.0 332.7h0M353.0 381.0h0M370.9 375.9h0M359.1 359.0h0M339.2 391.9h0M370.2 377.0h0M352.1 372.2h0M356.5 388.1h0M410.0 320.9h0M344.9 389.3h0M345.6 390.7h0M383.0 346.8h0M366.0 388.6h0M379.5 367.3h0M386.6 341.3h0M330.2 387.0h0M376.8 310.9h0M351.7 374.7h0M348.4 368.3h0M334.9 383.9h0M387.1 332.4h0M340.2 359.3h0M348.4 380.8h0M348.0 345.3h0M351.8 379.9h0M389.0 324.8h0M388.3 330.9h0M396.1 383.6h0M372.6 344.2h0M361.2 337.2h0M374.5 378.4h0M354.3 361.5h0M344.7 369.0h0M366.9 344.1h0M367.1 383.6h0M353.6 378.2h0M331.8 381.7h0M336.6 387.6h0M346.7 368.5h0M353.6 389.9h0M379.3 374.5h0M356.1 389.0h0M358.6 364.6h0M352.7 378.7h0M381.4 384.2h0M373.2 369.7h0M356.5 391.8h0M336.3 391.3h0M339.2 389.4h0M366.9 334.0h0M341.6 392.3h0M338.6 348.7h0M368.1 387.2h0M355.8 323.2h0M357.6 392.5h0M383.3 362.9h0M361.9 354.1h0M375.8 325.7h0M354.8 371.1h0M329.5 387.5h0M394.4 340.8h0M356.6 388.4h0M382.6 316.6h0M398.5 300.2h0M394.5 369.0h0M378.5 375.6h0M378.7 328.9h0M349.8 375.2h0M356.6 334.1h0M369.7 333.9h0M347.5 327.6h0M367.6 384.6h0M348.4 391.5h0M344.2 333.4h0M374.9 386.6h0M359.5 380.7h0M332.9 384.4h0M348.5 310.0h0M366.0 392.0h0M354.3 388.4h0M400.7 384.9h0M378.7 371.2h0M343.6 386.2h0M350.8 353.8h0M378.8 381.6h0M338.8 353.2h0M383.9 388.0h0M344.3 388.5h0M340.3 390.6h0M355.6 388.8h0M347.8 338.2h0M358.3 346.6h0M370.5 391.9h0M340.8 386.1h0M398.0 362.2h0M341.2 338.1h0M409.9 310.5h0M351.4 383.1h0M359.1 348.1h0M374.4 316.7h0M338.9 344.4h0M334.9 380.3h0M396.7 393.2h0M392.9 354.7h0M394.4 315.6h0M344.2 365.7h0M375.4 302.0h0M369.0 363.4h0M382.2 382.3h0M358.7 345.6h0M396.6 352.3h0M344.0 348.6h0M353.8 383.3h0M394.9 387.2h0M403.6 308.6h0M362.6 382.8h0M387.1 373.7h0M372.9 386.6h0M358.5 334.8h0M352.7 357.5h0M356.7 337.9h0M367.6 388.8h0M358.3 374.3h0M384.0 376.6h0M367.4 388.7h0M386.0 345.5h0M373.2 386.4h0M344.7 355.2h0M365.3 384.0h0M388.3 388.6h0M342.6 388.8h0M344.9 363.2h0M371.8 389.4h0M395.7 337.8h0M335.9 373.5h0M384.1 372.1h0M364.8 376.6h0M383.9 310.4h0M370.4 384.0h0M350.2 377.1h0M332.5 388.7h0M374.6 380.1h0M349.2 338.4h0M369.5 382.6h0M337.4 393.5h0M372.2 387.3h0M361.4 317.0h0M371.0 329.5h0M387.3 390.9h0M375.7 382.9h0M361.0 380.3h0M367.2 350.1h0M347.5 374.7h0M375.3 349.0h0M363.7 348.8h0M345.1 368.7h0M352.4 370.8h0M386.8 349.8h0M375.3 323.9h0M339.2 390.4h0M336.8 384.8h0M334.9 393.5h0M379.5 373.4h0M337.1 392.4h0M354.9 335.6h0M362.8 390.2h0M371.8 387.3h0M340.5 361.2h0M427.2 309.2h0M349.3 389.5h0M385.1 343.7h0M376.7 374.8h0M381.7 315.0h0M380.1 332.6h0M364.1 373.3h0M369.9 384.7h0M370.8 327.4h0M399.9 329.8h0M377.3 357.2h0M353.0 390.2h0M413.7 314.6h0M419.1 333.5h0M337.2 390.4h0M364.0 390.6h0M384.1 347.5h0M349.7 309.3h0M383.7 322.7h0M386.1 368.9h0M360.3 373.8h0M388.0 390.3h0M344.2 373.7h0M348.2 359.3h0M359.4 381.4h0M347.9 343.3h0M330.8 384.1h0M393.0 384.0h0M376.2 352.7h0M371.4 388.4h0M368.5 378.3h0M342.2 355.9h0M341.6 386.2h0M351.0 392.9h0M366.0 375.9h0M362.8 385.3h0M351.1 393.5h0M371.1 364.6h0M377.5 331.4h0M374.7 379.9h0M367.4 376.5h0M389.7 389.4h0M342.5 388.2h0M381.9 392.5h0M381.5 357.8h0M358.0 393.6h0M367.8 371.3h0M349.9 373.8h0M340.7 384.7h0M382.2 350.0h0M380.6 384.4h0M337.7 367.3h0M336.3 361.0h0M344.8 384.8h0M369.5 375.5h0M341.0 373.7h0M368.0 377.0h0M378.1 393.0h0M381.5 384.3h0M412.4 347.7h0M397.9 384.3h0M390.8 342.6h0M396.1 305.7h0M347.2 347.1h0M339.6 387.8h0M371.0 312.7h0M362.1 384.3h0M368.0 317.2h0M373.7 311.3h0M381.8 382.9h0M343.1 387.6h0M336.6 391.3h0M376.4 380.7h0M352.5 390.4h0M351.1 338.7h0M358.2 369.6h0M390.5 374.5h0M369.8 377.6h0M388.0 382.9h0M375.0 349.3h0M355.9 366.7h0M357.4 381.3h0M334.2 387.3h0M363.9 361.8h0M369.8 383.3h0M351.5 371.1h0M378.5 307.8h0M374.8 386.9h0M341.2 391.5h0M370.5 364.1h0M351.6 358.5h0M391.3 389.5h0M338.9 343.9h0M375.0 387.3h0M379.5 377.6h0M355.8 384.3h0M352.5 385.4h0M358.6 380.8h0M341.6 385.3h0M354.1 393.6h0M374.4 329.5h0M376.6 369.4h0M386.8 333.9h0M371.1 371.7h0M348.1 366.8h0M348.5 317.9h0M336.9 386.5h0M374.2 338.8h0M383.0 383.2h0M363.2 387.5h0M348.5 380.7h0M336.4 373.3h0M333.5 378.4h0M363.7 386.7h0M352.7 370.0h0M363.9 358.4h0M367.0 368.5h0M361.6 385.2h0M403.6 314.0h0M345.0 391.6h0M372.1 338.6h0M359.0 349.6h0M360.9 323.1h0M342.7 367.1h0M343.3 341.4h0M339.6 356.4h0M362.0 371.1h0M363.4 387.7h0M343.2 333.9h0M399.6 345.0h0M344.2 372.2h0M350.8 387.2h0M360.4 383.0h0M381.8 376.2h0M395.6 390.2h0M375.1 376.7h0M378.4 343.2h0M361.3 378.7h0M342.6 377.5h0M391.2 349.6h0M356.8 332.2h0M352.6 378.3h0M335.8 367.7h0M424.1 318.6h0M376.2 390.3h0M356.8 390.4h0M329.9 391.9h0M393.5 323.3h0M358.6 382.1h0M345.5 391.3h0M350.5 380.5h0M384.4 373.9h0M336.0 392.0h0M370.5 338.8h0M338.5 388.4h0M336.5 392.0h0M341.5 355.1h0M376.7 383.8h0M388.3 319.5h0M367.5 373.7h0M386.3 336.4h0M371.8 354.8h0M342.9 378.6h0M411.7 323.7h0M377.0 368.7h0M383.2 349.0h0M330.4 386.7h0M367.9 391.7h0M352.7 379.0h0M357.4 364.6h0M362.0 369.3h0M337.6 356.1h0M373.2 390.2h0M359.9 388.8h0M383.0 377.9h0M379.5 308.2h0M333.7 368.5h0M351.9 388.7h0M357.3 379.8h0M383.2 375.6h0M340.4 377.7h0M359.5 348.8h0M355.1 343.3h0M386.0 327.5h0M344.9 374.6h0M358.2 369.6h0M351.7 318.6h0M353.2 327.2h0M351.2 393.3h0M360.0 383.6h0M344.8 382.4h0M350.3 337.3h0M365.6 392.1h0M368.9 338.4h0M344.2 370.4h0M348.9 391.9h0M343.4 391.0h0M368.5 392.2h0M378.1 301.1h0M359.3 384.2h0M387.7 319.6h0M406.4 334.0h0M351.0 367.0h0M346.0 381.2h0M350.4 391.6h0M342.0 382.5h0M333.7 385.0h0M340.4 391.1h0M355.2 392.7h0M364.3 390.5h0M395.8 341.5h0M328.9 393.4h0M370.6 382.6h0M368.2 364.6h0M404.4 367.9h0M351.7 391.2h0M356.8 344.3h0M373.3 372.6h0M345.7 384.8h0M344.8 372.5h0M347.2 388.6h0M367.2 366.0h0M353.3 389.8h0M391.9 377.2h0M385.9 357.8h0M388.4 387.5h0M377.1 314.1h0M364.1 378.4h0M364.0 382.2h0M407.8 362.0h0M331.8 374.3h0M372.9 357.6h0M391.0 313.2h0M355.0 374.7h0M360.8 387.3h0M383.0 306.1h0M370.7 369.4h0M370.0 342.8h0M382.1 338.6h0M348.0 384.4h0M355.0 361.0h0M327.8 391.0h0M367.1 390.1h0M332.0 391.8h0M357.4 367.9h0M390.0 387.9h0M374.5 356.4h0M337.3 388.5h0M338.7 383.6h0M350.8 365.1h0M386.6 382.3h0M431.3 309.2h0M365.0 390.7h0M337.0 392.6h0M355.8 371.7h0M372.7 324.3h0M350.7 374.2h0M367.3 377.0h0M386.9 392.9h0M347.8 307.5h0M380.6 373.5h0M353.1 388.0h0M370.3 381.8h0M338.5 376.5h0M345.5 355.9h0M334.7 364.1h0M352.4 347.9h0M384.0 372.1h0M337.4 389.0h0M388.4 337.1h0M379.9 338.2h0M343.1 387.3h0M395.8 366.8h0M376.9 378.7h0M359.4 319.7h0M358.2 379.4h0M341.1 335.4h0M342.1 346.6h0M372.3 352.7h0M362.0 385.9h0M353.3 312.6h0M338.0 386.4h0M352.7 374.8h0M364.3 372.4h0M380.9 376.6h0M383.2 374.7h0M334.0 384.3h0M351.2 378.9h0M354.3 388.6h0M388.9 382.0h0M375.6 363.2h0M361.4 387.7h0M351.1 327.6h0M341.4 367.2h0M391.4 382.9h0M379.1 361.8h0M354.0 385.3h0M344.5 385.1h0M365.2 386.0h0M407.9 316.8h0M345.8 393.7h0M362.1 386.5h0M369.1 321.6h0M410.5 319.3h0M359.9 359.4h0M364.4 376.1h0M357.2 349.3h0M348.6 337.6h0M347.8 372.4h0M334.9 372.2h0M336.8 390.7h0M356.5 393.8h0M377.7 393.2h0M367.8 392.4h0M385.9 307.6h0M365.5 351.3h0M375.4 378.2h0M336.8 378.2h0M383.9 375.3h0M347.2 379.5h0M352.9 393.0h0M349.3 388.2h0M378.1 356.2h0M332.8 387.4h0M355.4 375.6h0M353.7 391.9h0M340.5 393.5h0M336.6 368.1h0M360.9 391.0h0M342.7 347.9h0M369.3 328.0h0M364.6 314.7h0M369.8 389.5h0M387.4 387.8h0M381.8 388.6h0M334.4 372.8h0M349.4 391.3h0M405.0 344.7h0M374.5 335.0h0M363.7 374.6h0M361.2 376.4h0M371.4 372.8h0M346.3 369.3h0M365.6 372.7h0M349.3 374.0h0M367.1 317.6h0M339.7 370.3h0M407.0 356.0h0M360.1 387.1h0M369.3 369.9h0M432.3 300.5h0M391.6 318.3h0M396.4 348.5h0M433.4 307.7h0M340.4 355.7h0M381.5 302.6h0M370.8 356.4h0M406.9 367.5h0M370.7 378.2h0M332.0 385.5h0M332.0 393.3h0M379.0 366.2h0M387.8 328.4h0M360.7 372.8h0M377.3 346.8h0M366.1 343.7h0M375.9 383.2h0M346.6 390.2h0M352.6 319.9h0M346.8 385.2h0M365.2 371.5h0M334.2 374.1h0M360.3 377.2h0M341.5 390.3h0M362.1 348.9h0M356.1 332.2h0M328.4 390.5h0M331.8 393.5h0M360.7 370.5h0M365.3 393.3h0M388.0 301.5h0M374.5 382.2h0M337.1 392.5h0M389.2 357.4h0M367.9 340.5h0M365.7 389.6h0M361.9 343.8h0M388.7 388.9h0M344.3 331.1h0M384.0 374.4h0M362.7 375.0h0M341.7 391.8h0M344.1 372.8h0M354.7 342.4h0M344.1 354.0h0M362.5 373.4h0M339.1 392.7h0M365.0 383.7h0M358.9 352.4h0M370.8 335.4h0M382.0 388.4h0M366.5 391.4h0M383.0 320.3h0M414.6 306.9h0M357.1 390.2h0M379.7 384.5h0M368.9 389.4h0M350.5 383.2h0M381.6 389.4h0M362.1 375.9h0M381.4 356.0h0M341.6 388.2h0M376.1 378.1h0M375.0 358.2h0M338.2 393.1h0M337.9 389.5h0M351.7 376.5h0M349.8 356.5h0M329.6 392.8h0M346.7 362.1h0M333.7 368.9h0M356.0 376.4h0M361.0 354.8h0M363.9 354.8h0M376.2 354.8h0M361.6 370.1h0M340.1 356.1h0M350.3 365.7h0M381.4 351.3h0M396.4 368.0h0M410.5 307.9h0M352.6 382.3h0M343.9 391.3h0M353.6 373.9h0M332.8 376.3h0M371.0 392.3h0M391.6 310.0h0M340.7 373.9h0M361.7 337.7h0M339.4 344.6h0M339.4 382.8h0M355.4 388.7h0M353.4 346.7h0M384.6 321.2h0M384.4 360.5h0M330.7 382.5h0M373.0 375.0h0M370.8 313.5h0M343.7 387.4h0M346.2 374.8h0M384.3 384.5h0M367.0 385.6h0M343.1 367.7h0M349.3 367.9h0M356.3 341.9h0M343.1 391.4h0M349.8 311.6h0M350.5 340.9h0M360.5 352.5h0M361.7 324.5h0M345.8 388.6h0M334.6 385.7h0M346.1 385.0h0M354.3 365.8h0M414.7 310.3h0M355.8 368.6h0M355.8 391.1h0M359.4 393.6h0M366.4 342.7h0M391.6 377.3h0M340.6 377.9h0M349.7 383.9h0M331.6 393.1h0M371.6 332.4h0M341.6 383.5h0M383.1 383.1h0M342.1 388.9h0M348.6 390.8h0M365.0 388.5h0M357.4 372.8h0M341.3 337.1h0M345.8 322.2h0M383.4 315.1h0M359.9 350.8h0M398.2 366.9h0M363.3 365.8h0M346.2 348.4h0M373.7 382.1h0M335.9 385.5h0M394.8 350.4h0M383.2 350.3h0M383.4 363.4h0M358.5 378.0h0M346.5 381.0h0M357.6 346.1h0M344.5 392.3h0M353.0 364.7h0M352.0 392.3h0M338.8 386.9h0M364.9 352.9h0M391.4 361.0h0M336.2 383.4h0M346.6 339.7h0M392.1 392.3h0M347.2 372.6h0M336.0 380.8h0M367.6 388.7h0M340.1 393.6h0M335.3 391.8h0M358.0 367.2h0M343.2 381.1h0M397.2 363.0h0M371.6 358.1h0M361.2 344.6h0M391.0 363.2h0M392.4 343.8h0M330.4 386.1h0M343.0 375.1h0M383.4 373.4h0M340.4 377.5h0M390.2 373.1h0M386.9 375.4h0M367.8 375.8h0M362.8 309.6h0M350.8 348.3h0M393.5 393.6h0M339.9 377.5h0M364.6 374.5h0M369.0 367.8h0M331.5 379.8h0M371.4 384.4h0M382.3 337.6h0M379.2 366.6h0M341.0 365.2h0M386.6 350.0h0M341.0 389.2h0M341.1 388.2h0M356.5 344.7h0M378.0 334.7h0M356.6 349.5h0M377.1 368.4h0M368.3 391.4h0M389.6 308.5h0M334.6 392.9h0M365.7 342.4h0M385.6 348.9h0M375.2 376.9h0M373.5 383.5h0M382.6 353.3h0M385.8 385.0h0M331.9 387.3h0M338.5 391.7h0M385.7 377.0h0M418.7 309.9h0M377.0 380.3h0M341.8 389.5h0M363.1 354.2h0M420.7 314.3h0M329.9 389.4h0M390.8 366.9h0M358.9 373.4h0M357.6 369.6h0M360.1 390.8h0M361.1 388.4h0M369.6 380.8h0M372.4 370.9h0M337.5 390.2h0M355.9 375.4h0M380.3 368.0h0M377.6 368.9h0M364.5 354.4h0M330.8 377.7h0M372.4 387.3h0M373.4 339.0h0M341.4 381.2h0M346.4 355.2h0M334.5 378.5h0M361.9 392.8h0M373.9 313.9h0M383.2 366.7h0M357.0 386.3h0M355.6 353.8h0M347.9 357.0h0M342.7 382.9h0M354.5 390.9h0M343.7 338.2h0M352.5 393.0h0M405.1 370.6h0M388.9 350.0h0M381.1 381.1h0M377.9 385.7h0M375.0 326.3h0M367.9 332.5h0M339.5 389.9h0M346.4 393.0h0M355.2 380.5h0M357.4 318.4h0M350.8 382.2h0M396.1 360.2h0M351.8 355.2h0M337.4 378.5h0M347.3 362.1h0M358.1 357.2h0M368.9 386.0h0M388.4 320.6h0M330.6 381.3h0M369.9 380.5h0M353.5 368.9h0M426.5 326.2h0M339.1 361.5h0M338.5 392.3h0M363.3 364.4h0M366.2 373.6h0M462.9 315.3h0M380.2 393.5h0M382.5 372.3h0M331.6 382.8h0M346.2 352.3h0M347.3 387.7h0M375.8 348.5h0M395.1 377.4h0M345.5 384.2h0M366.9 312.0h0M376.3 389.6h0M345.4 383.8h0M335.5 390.2h0M342.9 375.1h0M366.8 368.4h0M370.7 392.9h0M331.8 393.5h0M347.6 366.9h0M358.6 372.4h0M361.8 343.4h0M342.5 367.4h0M348.9 343.5h0M400.5 350.0h0M343.2 341.1h0M335.0 387.4h0M357.2 359.6h0M397.5 313.6h0M364.6 393.6h0M340.3 358.1h0M390.0 345.8h0M392.4 348.5h0M375.6 391.6h0M370.6 319.0h0M339.0 392.1h0M357.6 374.3h0M370.8 376.7h0M370.1 367.4h0M381.3 380.3h0M378.8 325.5h0M345.4 321.5h0M359.1 375.0h0M329.7 382.1h0M353.4 366.0h0M387.6 389.8h0M392.1 357.9h0M364.2 390.4h0M370.3 380.7h0M395.6 381.8h0M330.0 391.5h0M382.6 373.0h0M379.0 389.3h0M368.3 385.5h0M349.0 358.8h0M384.6 300.7h0M348.3 391.7h0M345.6 370.7h0M334.6 391.4h0M330.5 388.0h0M395.7 385.4h0M388.4 301.5h0M355.9 393.0h0M354.0 387.1h0M384.2 388.2h0M349.5 377.9h0M387.2 389.5h0M370.1 340.9h0M342.3 380.3h0M356.7 390.3h0M360.2 381.6h0M382.9 389.1h0M392.2 333.4h0M357.8 352.8h0M383.5 358.9h0M368.1 346.9h0M395.0 369.7h0M410.8 340.8h0M367.6 393.1h0M369.2 377.9h0M388.5 368.1h0M364.0 390.4h0M356.7 376.2h0M342.4 379.4h0M370.7 390.9h0M403.3 303.4h0M388.0 333.8h0M340.8 347.6h0M344.7 391.3h0M330.4 386.2h0M343.5 390.0h0M358.1 387.5h0M332.0 377.3h0M389.0 318.8h0M356.8 356.8h0M355.4 378.6h0M386.1 355.3h0M355.5 393.6h0M357.1 381.3h0M336.1 377.9h0M333.9 381.5h0M377.7 388.1h0M336.1 389.7h0M339.2 388.8h0M385.6 363.0h0M373.5 365.1h0M373.8 381.2h0M345.6 384.9h0M369.0 384.0h0M354.9 357.6h0M395.4 357.4h0M360.9 381.8h0M355.8 319.3h0M343.4 390.3h0M355.9 370.1h0M378.2 384.4h0M336.6 389.6h0M365.6 372.6h0M350.1 389.2h0M328.9 393.3h0M349.8 359.3h0M334.2 379.4h0M379.9 371.4h0M339.0 380.7h0M368.6 378.7h0M352.3 391.2h0M382.4 344.4h0M350.5 392.3h0M347.1 348.9h0M381.6 362.1h0M339.8 391.7h0M358.3 387.9h0M385.7 374.0h0M342.6 373.3h0M381.3 388.5h0M416.0 333.5h0M384.1 387.3h0M362.7 384.7h0M364.6 325.9h0M333.1 381.3h0M384.3 379.2h0M338.4 385.7h0M355.2 386.3h0M378.3 382.6h0M389.1 349.7h0M363.0 340.3h0M346.3 357.4h0M341.1 355.2h0M369.0 376.7h0M345.5 357.5h0M367.4 347.9h0M344.9 352.3h0M360.2 388.4h0M358.6 352.5h0M382.2 344.8h0M332.2 390.4h0M349.6 378.1h0M393.0 369.8h0M404.0 337.4h0M341.7 390.1h0M335.8 361.5h0M352.4 392.9h0M343.9 389.0h0M374.8 326.5h0M375.7 378.3h0M352.1 353.2h0M358.4 359.4h0M398.4 370.4h0M360.8 368.5h0M372.7 384.9h0M345.0 379.8h0M363.1 363.9h0M356.6 378.0h0M365.5 376.9h0M388.2 374.3h0M361.5 372.8h0M369.3 366.8h0M362.2 319.6h0M385.1 356.7h0M382.8 325.7h0M363.1 336.6h0M362.1 374.9h0M393.2 385.4h0M356.2 380.4h0M351.8 362.1h0M361.3 360.0h0" stroke="#FF0000" stroke-width="4.1" stroke-linecap="round" fill="none"/>
<path d="M537.6 49.0h0M537.6 77.0h0M537.6 83.3h0M537.6 101.6h0M537.6 103.9h0M537.6 115.0h0M537.6 131.8h0M537.6 134.0h0M537.6 136.5h0M537.6 139.0h0M537.6 142.0h0M537.6 153.0h0M537.6 162.0h0M537.6 167.6h0M537.6 170.5h0M537.6 180.0h0M537.6 183.0h0M537.6 186.0h0M537.6 189.0h0M537.6 192.0h0M537.6 194.5h0M537.6 202.0h0M537.6 205.0h0M537.6 208.0h0M537.6 211.0h0M537.6 213.5h0M537.6 215.8h0M537.6 224.7h0M537.6 226.9h0M537.6 229.1h0M537.6 231.3h0M537.6 233.5h0M537.6 235.7h0M537.6 237.9h0M537.6 240.1h0M537.6 242.3h0M537.6 244.5h0M537.6 246.7h0M537.6 248.9h0M537.6 251.1h0M537.6 253.3h0M537.6 255.5h0M537.6 257.7h0M537.6 259.9h0M537.6 262.1h0M537.6 264.3h0M537.6 266.5h0M537.6 268.7h0M537.6 270.9h0M537.6 273.1h0M537.6 275.3h0M537.6 277.5h0M537.6 279.7h0M537.6 281.9h0M537.6 284.1h0M537.6 286.3h0M537.6 288.5h0M537.6 290.7h0M537.6 292.9h0M537.6 295.1h0M537.6 297.3h0M537.6 299.5h0M537.6 301.7h0M537.6 303.9h0M537.6 306.1h0M537.6 308.3h0M537.6 310.5h0M537.6 312.7h0M537.6 314.9h0M537.6 317.1h0M537.6 319.3h0M537.6 321.5h0M537.6 323.7h0M537.6 325.9h0M537.6 328.1h0M537.6 330.3h0M537.6 332.5h0M537.6 334.7h0M537.6 336.9h0M537.6 339.1h0M537.6 341.3h0M537.6 343.5h0M537.6 345.7h0M537.6 347.9h0M537.6 350.1h0M537.6 352.3h0M537.6 354.5h0M537.6 356.7h0M537.6 358.9h0M537.6 361.1h0M537.6 363.3h0M537.6 365.5h0M537.6 367.7h0M537.6 369.9h0M537.6 372.1h0M537.6 374.3h0M537.6 376.5h0M537.6 378.7h0M537.6 380.9h0M537.6 383.1h0M537.6 385.3h0M537.6 387.5h0M537.6 389.7h0M537.6 391.9h0" stroke="#FF0000" stroke-width="4.1" stroke-linecap="round" fill="none"/>
</g>
<path d="M279.3 1.7V440.7M315.7 1.7V440.7M56.9 394.8H537.6" stroke="#fff" stroke-width="1.4"/>
<path d="M54.1 394.8H56.9M54.1 320.8H56.9M54.1 220.8H56.9M54.1 120.8H56.9M54.1 20.8H56.9M115.5 440.7V443.5M206.5 440.7V443.5M279.3 440.7V443.5M315.7 440.7V443.5M388.5 440.7V443.5M479.5 440.7V443.5" stroke="#333" stroke-width="1"/>
<text x="52.6" y="399.1" font-size="12" font-weight="bold" text-anchor="end" fill="#111">q=0.05</text>
<text x="52.6" y="325.1" font-size="12" font-weight="bold" text-anchor="end" fill="#111">5</text>
<text x="52.6" y="225.1" font-size="12" font-weight="bold" text-anchor="end" fill="#111">10</text>
<text x="52.6" y="125.1" font-size="12" font-weight="bold" text-anchor="end" fill="#111">15</text>
<text x="52.6" y="25.1" font-size="12" font-weight="bold" text-anchor="end" fill="#111">20</text>
<text x="115.5" y="453.8" font-size="12" font-weight="bold" text-anchor="middle" fill="#111">−10</text>
<text x="206.5" y="453.8" font-size="12" font-weight="bold" text-anchor="middle" fill="#111">−5</text>
<text x="279.3" y="453.8" font-size="12" font-weight="bold" text-anchor="middle" fill="#111">FC=0.5</text>
<text x="315.7" y="453.8" font-size="12" font-weight="bold" text-anchor="middle" fill="#111">FC=2</text>
<text x="388.5" y="453.8" font-size="12" font-weight="bold" text-anchor="middle" fill="#111">5</text>
<text x="479.5" y="453.8" font-size="12" font-weight="bold" text-anchor="middle" fill="#111">10</text>
<text x="297.5" y="472.3" font-size="14" letter-spacing="0.4" font-weight="bold" text-anchor="middle" fill="#000">Log2(Fold−change)</text>
<text transform="translate(12.8,220.5) rotate(-90)" x="0" y="0" font-size="14" letter-spacing="0" font-weight="bold" text-anchor="middle" fill="#000">−Lg10(q−value)</text>
<rect x="554" y="196.9" width="15" height="15.2" fill="#F2F2F2"/>
<circle cx="561.8" cy="204.5" r="2.2" fill="#0000FF"/>
<text x="571.2" y="209.9" font-size="14" letter-spacing="0.3" font-weight="bold" fill="#000">Down regulation</text>
<rect x="554" y="212.7" width="15" height="15.2" fill="#F2F2F2"/>
<circle cx="561.8" cy="220.3" r="2.2" fill="#BEBEBE"/>
<text x="571.2" y="225.7" font-size="14" letter-spacing="0.3" font-weight="bold" fill="#000">Not Significant</text>
<rect x="554" y="228.5" width="15" height="15.2" fill="#F2F2F2"/>
<circle cx="561.8" cy="236.1" r="2.2" fill="#FF0000"/>
<text x="571.2" y="241.5" font-size="14" letter-spacing="0.3" font-weight="bold" fill="#000">Up regulation</text>
<text transform="translate(12.3,36) scale(1.12,1)" style="font-family:'Liberation Serif',serif" font-size="31" fill="#000">a</text>
<text transform="translate(98.4,542) scale(1.17,1)" style="font-family:'Liberation Serif',serif" font-size="29.2" fill="#000">b</text>
<rect x="103.3" y="551.5" width="409.6" height="400.7" fill="#9ACB80"/>
<path d="M103.3 551.5h51.2v2.0h-51.2zM103.3 556.0h51.2v1.0h-51.2zM103.3 558.0h51.2v1.0h-51.2zM103.3 567.0h51.2v1.0h-51.2zM103.3 582.0h51.2v2.5h-51.2zM103.3 590.5h51.2v1.5h-51.2zM103.3 595.5h51.2v2.0h-51.2zM103.3 608.0h51.2v1.0h-51.2zM103.3 616.0h51.2v1.0h-51.2zM103.3 626.0h51.2v0.5h-51.2zM103.3 634.5h51.2v1.5h-51.2zM103.3 636.0h51.2v1.0h-51.2zM103.3 645.5h51.2v0.8h-51.2zM103.3 655.0h51.2v1.5h-51.2zM103.3 664.0h51.2v2.0h-51.2zM103.3 684.5h51.2v1.0h-51.2zM103.3 688.0h51.2v2.0h-51.2zM103.3 692.0h51.2v1.0h-51.2zM103.3 698.0h51.2v1.0h-51.2zM103.3 702.0h51.2v1.5h-51.2zM103.3 705.5h51.2v1.0h-51.2zM103.3 716.0h51.2v1.5h-51.2zM103.3 717.5h51.2v2.5h-51.2zM103.3 731.0h51.2v2.0h-51.2zM103.3 741.5h51.2v2.0h-51.2zM103.3 743.5h51.2v1.0h-51.2zM103.3 744.5h51.2v1.0h-51.2zM103.3 752.5h51.2v1.0h-51.2zM103.3 755.5h51.2v3.0h-51.2zM103.3 767.5h51.2v1.5h-51.2zM103.3 772.0h51.2v1.5h-51.2zM103.3 775.5h51.2v2.5h-51.2zM103.3 778.0h51.2v1.0h-51.2zM103.3 779.0h51.2v2.0h-51.2zM103.3 781.0h51.2v2.5h-51.2zM103.3 784.5h51.2v1.0h-51.2zM103.3 793.5h51.2v3.0h-51.2zM103.3 796.5h51.2v1.0h-51.2zM103.3 801.5h51.2v1.0h-51.2zM103.3 812.5h51.2v2.0h-51.2zM103.3 814.5h51.2v1.5h-51.2zM103.3 823.0h51.2v2.0h-51.2zM103.3 825.0h51.2v1.0h-51.2zM103.3 828.0h51.2v1.0h-51.2zM103.3 829.0h51.2v1.5h-51.2zM154.5 558.0h51.2v1.0h-51.2zM154.5 572.5h51.2v1.0h-51.2zM154.5 575.5h51.2v3.0h-51.2zM154.5 589.0h51.2v2.5h-51.2zM154.5 594.5h51.2v1.5h-51.2zM154.5 606.0h51.2v1.5h-51.2zM154.5 624.0h51.2v2.5h-51.2zM154.5 634.5h51.2v2.0h-51.2zM154.5 655.0h51.2v1.0h-51.2zM154.5 661.5h51.2v2.5h-51.2zM154.5 664.0h51.2v1.0h-51.2zM154.5 665.0h51.2v1.0h-51.2zM154.5 668.5h51.2v2.0h-51.2zM154.5 670.5h51.2v2.5h-51.2zM154.5 676.5h51.2v1.0h-51.2zM154.5 678.5h51.2v1.0h-51.2zM154.5 682.5h51.2v1.0h-51.2zM154.5 683.5h51.2v1.5h-51.2zM154.5 692.0h51.2v2.0h-51.2zM154.5 706.5h51.2v3.0h-51.2zM154.5 711.0h51.2v1.0h-51.2zM154.5 713.0h51.2v1.0h-51.2zM154.5 722.0h51.2v2.0h-51.2zM154.5 725.0h51.2v2.0h-51.2zM154.5 744.0h51.2v2.0h-51.2zM154.5 746.0h51.2v1.0h-51.2zM154.5 747.0h51.2v1.5h-51.2zM154.5 752.5h51.2v2.5h-51.2zM154.5 756.0h51.2v1.0h-51.2zM154.5 764.0h51.2v2.0h-51.2zM154.5 766.0h51.2v2.5h-51.2zM154.5 768.5h51.2v2.5h-51.2zM154.5 771.0h51.2v1.5h-51.2zM154.5 772.5h51.2v1.0h-51.2zM154.5 794.5h51.2v3.0h-51.2zM154.5 806.0h51.2v1.5h-51.2zM154.5 811.5h51.2v2.0h-51.2zM154.5 824.5h51.2v2.0h-51.2zM154.5 827.5h51.2v2.5h-51.2zM154.5 830.0h51.2v3.0h-51.2zM154.5 934.3h51.2v1.0h-51.2zM205.7 551.5h51.2v2.5h-51.2zM205.7 557.0h51.2v1.5h-51.2zM205.7 560.0h51.2v1.0h-51.2zM205.7 567.0h51.2v2.0h-51.2zM205.7 578.0h51.2v1.5h-51.2zM205.7 582.5h51.2v2.0h-51.2zM205.7 588.0h51.2v0.5h-51.2zM205.7 604.0h51.2v2.0h-51.2zM205.7 618.0h51.2v1.0h-51.2zM205.7 619.0h51.2v1.0h-51.2zM205.7 623.0h51.2v3.0h-51.2zM205.7 626.0h51.2v2.0h-51.2zM205.7 628.0h51.2v1.0h-51.2zM205.7 634.0h51.2v2.5h-51.2zM205.7 641.5h51.2v2.5h-51.2zM205.7 646.5h51.2v2.0h-51.2zM205.7 657.0h51.2v2.0h-51.2zM205.7 669.0h51.2v1.0h-51.2zM205.7 672.0h51.2v2.0h-51.2zM205.7 675.0h51.2v2.0h-51.2zM205.7 681.5h51.2v3.0h-51.2zM205.7 684.5h51.2v2.5h-51.2zM205.7 687.0h51.2v2.5h-51.2zM205.7 689.5h51.2v1.0h-51.2zM205.7 691.5h51.2v2.0h-51.2zM205.7 694.5h51.2v2.0h-51.2zM205.7 700.5h51.2v2.5h-51.2zM205.7 707.5h51.2v2.5h-51.2zM205.7 718.5h51.2v1.5h-51.2zM205.7 720.0h51.2v1.0h-51.2zM205.7 739.0h51.2v3.0h-51.2zM205.7 742.0h51.2v1.5h-51.2zM205.7 748.5h51.2v1.5h-51.2zM205.7 753.0h51.2v2.0h-51.2zM205.7 763.0h51.2v1.5h-51.2zM205.7 770.5h51.2v1.0h-51.2zM205.7 774.5h51.2v1.0h-51.2zM205.7 787.5h51.2v1.0h-51.2zM205.7 790.5h51.2v2.5h-51.2zM205.7 793.0h51.2v1.5h-51.2zM205.7 794.5h51.2v2.5h-51.2zM205.7 807.0h51.2v2.0h-51.2zM205.7 812.0h51.2v1.0h-51.2zM205.7 824.5h51.2v1.5h-51.2zM205.7 901.8h51.2v1.5h-51.2zM256.9 567.0h51.2v3.0h-51.2zM256.9 570.0h51.2v3.0h-51.2zM256.9 584.5h51.2v2.0h-51.2zM256.9 602.5h51.2v2.0h-51.2zM256.9 625.0h51.2v2.0h-51.2zM256.9 631.0h51.2v2.5h-51.2zM256.9 644.5h51.2v2.0h-51.2zM256.9 652.0h51.2v2.0h-51.2zM256.9 667.5h51.2v1.0h-51.2zM256.9 668.5h51.2v1.5h-51.2zM256.9 673.0h51.2v1.0h-51.2zM256.9 676.0h51.2v2.0h-51.2zM256.9 694.5h51.2v2.5h-51.2zM256.9 700.0h51.2v3.0h-51.2zM256.9 704.0h51.2v2.5h-51.2zM256.9 714.5h51.2v2.0h-51.2zM256.9 725.5h51.2v1.5h-51.2zM256.9 727.0h51.2v1.5h-51.2zM256.9 737.5h51.2v1.0h-51.2zM256.9 738.5h51.2v2.5h-51.2zM256.9 742.5h51.2v2.0h-51.2zM256.9 751.0h51.2v1.0h-51.2zM256.9 757.0h51.2v1.0h-51.2zM256.9 763.0h51.2v1.0h-51.2zM256.9 773.5h51.2v2.0h-51.2zM256.9 775.5h51.2v3.0h-51.2zM256.9 778.5h51.2v1.0h-51.2zM256.9 782.5h51.2v1.5h-51.2zM256.9 788.0h51.2v2.0h-51.2zM256.9 794.0h51.2v1.0h-51.2zM256.9 795.0h51.2v2.0h-51.2zM256.9 800.0h51.2v1.5h-51.2zM256.9 803.0h51.2v1.0h-51.2zM256.9 808.0h51.2v2.5h-51.2zM256.9 815.5h51.2v1.5h-51.2zM256.9 901.6h51.2v1.0h-51.2zM256.9 902.6h51.2v1.0h-51.2zM308.1 572.3h51.2v1.5h-51.2zM308.1 575.0h51.2v1.7h-51.2zM308.1 578.2h51.2v2.0h-51.2zM308.1 775.7h51.2v3.8h-51.2zM308.1 802.0h51.2v1.5h-51.2zM308.1 835.5h51.2v1.0h-51.2zM308.1 836.5h51.2v1.5h-51.2zM308.1 840.0h51.2v2.0h-51.2zM308.1 847.0h51.2v2.0h-51.2zM308.1 865.0h51.2v1.5h-51.2zM308.1 866.5h51.2v2.5h-51.2zM308.1 869.0h51.2v2.5h-51.2zM308.1 876.0h51.2v1.0h-51.2zM308.1 877.0h51.2v1.5h-51.2zM308.1 885.5h51.2v1.0h-51.2zM308.1 886.5h51.2v2.0h-51.2zM308.1 888.5h51.2v2.5h-51.2zM308.1 895.0h51.2v1.0h-51.2zM308.1 904.0h51.2v2.5h-51.2zM308.1 910.5h51.2v1.0h-51.2zM308.1 924.5h51.2v2.5h-51.2zM308.1 932.0h51.2v1.0h-51.2zM308.1 934.5h51.2v1.2h-51.2zM308.1 939.5h51.2v2.0h-51.2zM308.1 941.5h51.2v1.0h-51.2zM359.3 566.5h51.2v2.6h-51.2zM359.3 585.9h51.2v2.1h-51.2zM359.3 599.4h51.2v2.3h-51.2zM359.3 603.1h51.2v1.5h-51.2zM359.3 722.4h51.2v3.1h-51.2zM359.3 755.5h51.2v1.6h-51.2zM359.3 845.5h51.2v2.0h-51.2zM359.3 848.5h51.2v2.0h-51.2zM359.3 854.5h51.2v1.5h-51.2zM359.3 864.5h51.2v2.5h-51.2zM359.3 880.5h51.2v1.0h-51.2zM359.3 899.5h51.2v2.0h-51.2zM359.3 902.5h51.2v3.0h-51.2zM359.3 916.5h51.2v1.0h-51.2zM359.3 922.5h51.2v2.0h-51.2zM359.3 926.5h51.2v3.0h-51.2zM359.3 933.5h51.2v1.0h-51.2zM359.3 940.0h51.2v1.5h-51.2zM359.3 944.5h51.2v1.0h-51.2zM410.5 749.4h51.2v3.1h-51.2zM410.5 754.0h51.2v4.6h-51.2zM410.5 777.2h51.2v7.0h-51.2zM410.5 835.5h51.2v1.0h-51.2zM410.5 836.5h51.2v2.5h-51.2zM410.5 840.0h51.2v1.0h-51.2zM410.5 841.0h51.2v2.0h-51.2zM410.5 847.0h51.2v1.0h-51.2zM410.5 858.5h51.2v1.5h-51.2zM410.5 867.5h51.2v1.0h-51.2zM410.5 868.5h51.2v2.0h-51.2zM410.5 870.5h51.2v1.0h-51.2zM410.5 875.5h51.2v2.0h-51.2zM410.5 877.5h51.2v1.0h-51.2zM410.5 880.5h51.2v2.0h-51.2zM410.5 882.5h51.2v1.0h-51.2zM410.5 897.0h51.2v3.0h-51.2zM410.5 903.0h51.2v2.0h-51.2zM410.5 905.0h51.2v1.0h-51.2zM410.5 912.5h51.2v1.0h-51.2zM410.5 921.0h51.2v1.0h-51.2zM410.5 927.0h51.2v3.0h-51.2zM410.5 930.0h51.2v1.5h-51.2zM410.5 934.0h51.2v3.0h-51.2zM410.5 939.0h51.2v1.0h-51.2zM410.5 943.0h51.2v2.0h-51.2zM410.5 946.5h51.2v0.5h-51.2zM410.5 948.2h51.2v0.3h-51.2zM461.7 557.0h51.2v2.0h-51.2zM461.7 730.1h51.2v3.9h-51.2zM461.7 844.5h51.2v3.0h-51.2zM461.7 858.5h51.2v3.0h-51.2zM461.7 865.5h51.2v2.0h-51.2zM461.7 871.0h51.2v0.5h-51.2zM461.7 871.5h51.2v2.5h-51.2zM461.7 883.0h51.2v2.0h-51.2zM461.7 885.0h51.2v1.0h-51.2zM461.7 886.0h51.2v1.0h-51.2zM461.7 892.0h51.2v1.0h-51.2zM461.7 895.0h51.2v3.0h-51.2zM461.7 904.5h51.2v1.5h-51.2zM461.7 907.0h51.2v1.5h-51.2zM461.7 908.5h51.2v1.0h-51.2zM461.7 911.0h51.2v2.0h-51.2zM461.7 913.0h51.2v1.0h-51.2zM461.7 914.0h51.2v1.0h-51.2zM461.7 915.0h51.2v2.5h-51.2zM461.7 924.0h51.2v1.5h-51.2zM461.7 925.5h51.2v1.0h-51.2zM461.7 947.5h51.2v1.5h-51.2zM461.7 950.0h51.2v2.2h-51.2z" fill="#6BC9AA"/><path d="M103.3 553.5h51.2v2.5h-51.2zM103.3 560.0h51.2v2.0h-51.2zM103.3 568.0h51.2v1.0h-51.2zM103.3 574.0h51.2v1.0h-51.2zM103.3 575.0h51.2v2.0h-51.2zM103.3 579.5h51.2v1.0h-51.2zM103.3 580.5h51.2v1.5h-51.2zM103.3 584.5h51.2v3.0h-51.2zM103.3 593.5h51.2v2.0h-51.2zM103.3 597.5h51.2v2.0h-51.2zM103.3 611.0h51.2v2.0h-51.2zM103.3 617.0h51.2v3.0h-51.2zM103.3 621.0h51.2v2.0h-51.2zM103.3 633.5h51.2v1.0h-51.2zM103.3 662.0h51.2v2.0h-51.2zM103.3 666.0h51.2v1.0h-51.2zM103.3 678.5h51.2v2.0h-51.2zM103.3 681.5h51.2v1.0h-51.2zM103.3 682.5h51.2v2.0h-51.2zM103.3 690.0h51.2v2.0h-51.2zM103.3 693.0h51.2v3.0h-51.2zM103.3 699.0h51.2v2.0h-51.2zM103.3 701.0h51.2v1.0h-51.2zM103.3 708.5h51.2v1.0h-51.2zM103.3 709.5h51.2v2.0h-51.2zM103.3 712.5h51.2v1.5h-51.2zM103.3 714.0h51.2v2.0h-51.2zM103.3 725.5h51.2v2.0h-51.2zM103.3 727.5h51.2v1.5h-51.2zM103.3 737.5h51.2v3.0h-51.2zM103.3 740.5h51.2v1.0h-51.2zM103.3 745.5h51.2v1.5h-51.2zM103.3 750.0h51.2v2.5h-51.2zM103.3 758.5h51.2v1.0h-51.2zM103.3 759.5h51.2v3.0h-51.2zM103.3 765.5h51.2v1.0h-51.2zM103.3 783.5h51.2v1.0h-51.2zM103.3 785.5h51.2v1.0h-51.2zM103.3 787.5h51.2v3.0h-51.2zM103.3 790.5h51.2v1.0h-51.2zM103.3 791.5h51.2v2.0h-51.2zM103.3 800.5h51.2v1.0h-51.2zM103.3 803.5h51.2v1.5h-51.2zM103.3 805.0h51.2v3.0h-51.2zM103.3 808.0h51.2v3.0h-51.2zM103.3 811.0h51.2v1.5h-51.2zM103.3 819.5h51.2v1.0h-51.2zM154.5 564.0h51.2v2.0h-51.2zM154.5 581.5h51.2v1.0h-51.2zM154.5 586.0h51.2v1.0h-51.2zM154.5 591.5h51.2v2.0h-51.2zM154.5 593.5h51.2v1.0h-51.2zM154.5 598.0h51.2v2.0h-51.2zM154.5 604.5h51.2v1.5h-51.2zM154.5 607.5h51.2v1.0h-51.2zM154.5 608.5h51.2v2.5h-51.2zM154.5 613.5h51.2v2.0h-51.2zM154.5 626.5h51.2v2.0h-51.2zM154.5 644.0h51.2v2.0h-51.2zM154.5 654.0h51.2v1.0h-51.2zM154.5 673.0h51.2v1.0h-51.2zM154.5 674.0h51.2v1.5h-51.2zM154.5 675.5h51.2v1.0h-51.2zM154.5 677.5h51.2v1.0h-51.2zM154.5 686.5h51.2v3.0h-51.2zM154.5 696.5h51.2v2.0h-51.2zM154.5 699.5h51.2v1.0h-51.2zM154.5 700.5h51.2v1.0h-51.2zM154.5 704.5h51.2v2.0h-51.2zM154.5 724.0h51.2v1.0h-51.2zM154.5 733.0h51.2v3.0h-51.2zM154.5 757.0h51.2v2.0h-51.2zM154.5 773.5h51.2v2.5h-51.2zM154.5 776.0h51.2v1.0h-51.2zM154.5 777.0h51.2v2.0h-51.2zM154.5 791.5h51.2v3.0h-51.2zM205.7 566.0h51.2v1.0h-51.2zM205.7 569.0h51.2v2.0h-51.2zM205.7 571.0h51.2v2.5h-51.2zM205.7 574.5h51.2v2.0h-51.2zM205.7 584.5h51.2v1.5h-51.2zM205.7 590.5h51.2v1.5h-51.2zM205.7 594.5h51.2v1.5h-51.2zM205.7 598.0h51.2v1.0h-51.2zM205.7 613.5h51.2v3.0h-51.2zM205.7 616.5h51.2v1.5h-51.2zM205.7 644.0h51.2v1.0h-51.2zM205.7 667.0h51.2v1.0h-51.2zM205.7 693.5h51.2v1.0h-51.2zM205.7 699.5h51.2v1.0h-51.2zM205.7 704.5h51.2v1.0h-51.2zM205.7 712.0h51.2v2.5h-51.2zM205.7 734.0h51.2v1.5h-51.2zM205.7 735.5h51.2v1.5h-51.2zM205.7 737.0h51.2v1.0h-51.2zM205.7 750.0h51.2v2.0h-51.2zM205.7 775.5h51.2v1.0h-51.2zM205.7 776.5h51.2v1.0h-51.2zM205.7 777.5h51.2v2.5h-51.2zM205.7 788.5h51.2v2.0h-51.2zM205.7 800.5h51.2v2.0h-51.2zM205.7 803.5h51.2v1.0h-51.2zM205.7 822.0h51.2v1.0h-51.2zM205.7 823.0h51.2v1.5h-51.2zM205.7 826.0h51.2v1.0h-51.2zM205.7 831.5h51.2v1.0h-51.2zM205.7 834.5h51.2v1.0h-51.2zM256.9 551.5h51.2v2.0h-51.2zM256.9 553.5h51.2v2.0h-51.2zM256.9 563.0h51.2v1.0h-51.2zM256.9 564.0h51.2v3.0h-51.2zM256.9 579.5h51.2v3.0h-51.2zM256.9 587.5h51.2v2.5h-51.2zM256.9 596.0h51.2v1.0h-51.2zM256.9 598.5h51.2v2.0h-51.2zM256.9 610.5h51.2v1.5h-51.2zM256.9 612.0h51.2v2.0h-51.2zM256.9 617.5h51.2v2.0h-51.2zM256.9 624.0h51.2v1.0h-51.2zM256.9 627.0h51.2v3.0h-51.2zM256.9 635.5h51.2v2.0h-51.2zM256.9 640.5h51.2v1.0h-51.2zM256.9 647.5h51.2v2.0h-51.2zM256.9 654.0h51.2v1.0h-51.2zM256.9 656.0h51.2v1.0h-51.2zM256.9 659.0h51.2v2.0h-51.2zM256.9 661.0h51.2v2.5h-51.2zM256.9 678.0h51.2v1.0h-51.2zM256.9 679.0h51.2v2.0h-51.2zM256.9 681.0h51.2v3.0h-51.2zM256.9 693.0h51.2v1.5h-51.2zM256.9 697.0h51.2v1.0h-51.2zM256.9 716.5h51.2v2.0h-51.2zM256.9 718.5h51.2v2.5h-51.2zM256.9 734.5h51.2v3.0h-51.2zM256.9 741.0h51.2v1.5h-51.2zM256.9 744.5h51.2v2.5h-51.2zM256.9 747.0h51.2v1.0h-51.2zM256.9 753.0h51.2v1.0h-51.2zM256.9 764.0h51.2v2.0h-51.2zM256.9 781.5h51.2v1.0h-51.2zM256.9 784.0h51.2v1.0h-51.2zM256.9 787.0h51.2v1.0h-51.2zM256.9 797.0h51.2v2.0h-51.2zM256.9 801.5h51.2v1.5h-51.2zM256.9 804.0h51.2v1.0h-51.2zM256.9 805.0h51.2v1.0h-51.2zM256.9 817.0h51.2v1.0h-51.2zM256.9 819.0h51.2v2.0h-51.2zM256.9 821.0h51.2v3.0h-51.2zM256.9 826.0h51.2v3.0h-51.2zM256.9 829.0h51.2v2.0h-51.2zM256.9 832.0h51.2v1.5h-51.2zM308.1 851.5h51.2v1.0h-51.2zM308.1 853.5h51.2v2.5h-51.2zM308.1 857.0h51.2v2.5h-51.2zM308.1 859.5h51.2v2.0h-51.2zM308.1 871.5h51.2v1.5h-51.2zM308.1 873.0h51.2v1.0h-51.2zM308.1 879.5h51.2v2.5h-51.2zM308.1 882.0h51.2v1.0h-51.2zM308.1 883.0h51.2v2.5h-51.2zM308.1 893.5h51.2v1.5h-51.2zM308.1 896.0h51.2v3.0h-51.2zM308.1 899.0h51.2v3.0h-51.2zM308.1 902.0h51.2v2.0h-51.2zM308.1 911.5h51.2v2.0h-51.2zM308.1 919.0h51.2v2.5h-51.2zM308.1 921.5h51.2v2.0h-51.2zM308.1 929.5h51.2v1.5h-51.2zM308.1 933.0h51.2v1.5h-51.2zM308.1 937.0h51.2v2.5h-51.2zM308.1 947.0h51.2v2.5h-51.2zM308.1 949.5h51.2v2.5h-51.2zM359.3 842.5h51.2v1.0h-51.2zM359.3 850.5h51.2v1.0h-51.2zM359.3 851.5h51.2v2.0h-51.2zM359.3 853.5h51.2v1.0h-51.2zM359.3 858.0h51.2v1.0h-51.2zM359.3 867.0h51.2v1.0h-51.2zM359.3 868.0h51.2v1.0h-51.2zM359.3 871.0h51.2v0.5h-51.2zM359.3 874.0h51.2v1.5h-51.2zM359.3 875.5h51.2v1.0h-51.2zM359.3 878.5h51.2v1.0h-51.2zM359.3 879.5h51.2v1.0h-51.2zM359.3 881.5h51.2v1.5h-51.2zM359.3 884.0h51.2v2.0h-51.2zM359.3 886.0h51.2v3.0h-51.2zM359.3 895.5h51.2v2.0h-51.2zM359.3 898.5h51.2v1.0h-51.2zM359.3 901.5h51.2v1.0h-51.2zM359.3 906.5h51.2v2.5h-51.2zM359.3 935.5h51.2v2.5h-51.2zM359.3 941.5h51.2v3.0h-51.2zM359.3 945.5h51.2v2.5h-51.2zM359.3 949.0h51.2v3.0h-51.2zM410.5 846.0h51.2v1.0h-51.2zM410.5 848.0h51.2v2.5h-51.2zM410.5 853.0h51.2v1.0h-51.2zM410.5 854.0h51.2v1.0h-51.2zM410.5 855.0h51.2v2.5h-51.2zM410.5 857.5h51.2v1.0h-51.2zM410.5 861.0h51.2v1.0h-51.2zM410.5 866.0h51.2v1.5h-51.2zM410.5 872.5h51.2v3.0h-51.2zM410.5 883.5h51.2v3.0h-51.2zM410.5 888.5h51.2v3.0h-51.2zM410.5 893.5h51.2v1.0h-51.2zM410.5 894.5h51.2v2.5h-51.2zM410.5 902.0h51.2v1.0h-51.2zM410.5 906.0h51.2v2.0h-51.2zM410.5 909.5h51.2v1.8h-51.2zM410.5 913.5h51.2v2.0h-51.2zM410.5 926.5h51.2v0.5h-51.2zM410.5 933.0h51.2v1.0h-51.2zM410.5 937.0h51.2v2.0h-51.2zM410.5 940.0h51.2v3.0h-51.2zM410.5 948.5h51.2v2.0h-51.2zM461.7 852.0h51.2v3.0h-51.2zM461.7 867.5h51.2v1.0h-51.2zM461.7 875.0h51.2v1.5h-51.2zM461.7 893.0h51.2v2.0h-51.2zM461.7 898.0h51.2v1.0h-51.2zM461.7 906.0h51.2v1.0h-51.2zM461.7 917.5h51.2v1.0h-51.2zM461.7 920.5h51.2v1.5h-51.2zM461.7 939.0h51.2v1.0h-51.2zM461.7 940.0h51.2v1.5h-51.2z" fill="#60C3CC"/><path d="M103.3 557.0h51.2v1.0h-51.2zM103.3 559.0h51.2v1.0h-51.2zM103.3 562.0h51.2v1.0h-51.2zM103.3 563.0h51.2v1.5h-51.2zM103.3 564.5h51.2v2.5h-51.2zM103.3 569.0h51.2v2.5h-51.2zM103.3 571.5h51.2v1.5h-51.2zM103.3 573.0h51.2v1.0h-51.2zM103.3 577.0h51.2v1.0h-51.2zM103.3 578.0h51.2v1.5h-51.2zM103.3 587.5h51.2v3.0h-51.2zM103.3 592.0h51.2v1.5h-51.2zM103.3 599.5h51.2v0.5h-51.2zM103.3 602.0h51.2v1.0h-51.2zM103.3 603.0h51.2v2.0h-51.2zM103.3 605.0h51.2v3.0h-51.2zM103.3 609.0h51.2v2.0h-51.2zM103.3 613.0h51.2v3.0h-51.2zM103.3 620.0h51.2v1.0h-51.2zM103.3 623.0h51.2v3.0h-51.2zM103.3 628.5h51.2v2.0h-51.2zM103.3 630.5h51.2v3.0h-51.2zM103.3 637.0h51.2v2.5h-51.2zM103.3 639.5h51.2v3.0h-51.2zM103.3 642.5h51.2v3.0h-51.2zM103.3 656.5h51.2v1.0h-51.2zM103.3 657.5h51.2v1.0h-51.2zM103.3 658.5h51.2v1.5h-51.2zM103.3 660.0h51.2v1.0h-51.2zM103.3 661.0h51.2v1.0h-51.2zM103.3 667.0h51.2v2.5h-51.2zM103.3 669.5h51.2v2.5h-51.2zM103.3 672.0h51.2v2.5h-51.2zM103.3 675.5h51.2v3.0h-51.2zM103.3 680.5h51.2v1.0h-51.2zM103.3 685.5h51.2v2.5h-51.2zM103.3 696.0h51.2v2.0h-51.2zM103.3 703.5h51.2v2.0h-51.2zM103.3 711.5h51.2v1.0h-51.2zM103.3 720.0h51.2v1.5h-51.2zM103.3 721.5h51.2v3.0h-51.2zM103.3 729.0h51.2v2.0h-51.2zM103.3 733.0h51.2v2.0h-51.2zM103.3 735.0h51.2v1.0h-51.2zM103.3 736.0h51.2v1.5h-51.2zM103.3 747.0h51.2v1.0h-51.2zM103.3 748.0h51.2v2.0h-51.2zM103.3 754.5h51.2v1.0h-51.2zM103.3 762.5h51.2v2.0h-51.2zM103.3 764.5h51.2v1.0h-51.2zM103.3 766.5h51.2v1.0h-51.2zM103.3 769.0h51.2v1.5h-51.2zM103.3 770.5h51.2v1.5h-51.2zM103.3 773.5h51.2v2.0h-51.2zM103.3 786.5h51.2v1.0h-51.2zM103.3 797.5h51.2v1.0h-51.2zM103.3 798.5h51.2v2.0h-51.2zM103.3 802.5h51.2v1.0h-51.2zM103.3 816.0h51.2v1.0h-51.2zM103.3 817.0h51.2v2.5h-51.2zM103.3 820.5h51.2v2.5h-51.2zM103.3 826.0h51.2v2.0h-51.2zM103.3 830.5h51.2v1.0h-51.2zM103.3 831.5h51.2v3.0h-51.2zM103.3 834.5h51.2v1.0h-51.2zM103.3 835.5h51.2v0.9h-51.2zM103.3 850.9h51.2v2.4h-51.2zM103.3 854.9h51.2v6.4h-51.2zM103.3 887.0h51.2v2.4h-51.2zM154.5 554.0h51.2v2.5h-51.2zM154.5 556.5h51.2v1.5h-51.2zM154.5 559.0h51.2v1.0h-51.2zM154.5 560.0h51.2v3.0h-51.2zM154.5 563.0h51.2v1.0h-51.2zM154.5 566.0h51.2v1.0h-51.2zM154.5 568.5h51.2v1.0h-51.2zM154.5 569.5h51.2v2.0h-51.2zM154.5 571.5h51.2v1.0h-51.2zM154.5 573.5h51.2v2.0h-51.2zM154.5 578.5h51.2v1.0h-51.2zM154.5 579.5h51.2v1.0h-51.2zM154.5 580.5h51.2v1.0h-51.2zM154.5 582.5h51.2v2.0h-51.2zM154.5 584.5h51.2v1.5h-51.2zM154.5 596.0h51.2v1.0h-51.2zM154.5 597.0h51.2v1.0h-51.2zM154.5 600.0h51.2v1.5h-51.2zM154.5 601.5h51.2v1.0h-51.2zM154.5 603.5h51.2v1.0h-51.2zM154.5 615.5h51.2v1.5h-51.2zM154.5 617.0h51.2v1.0h-51.2zM154.5 620.0h51.2v1.0h-51.2zM154.5 621.0h51.2v2.0h-51.2zM154.5 623.0h51.2v1.0h-51.2zM154.5 628.5h51.2v2.0h-51.2zM154.5 630.5h51.2v1.0h-51.2zM154.5 631.5h51.2v3.0h-51.2zM154.5 636.5h51.2v2.0h-51.2zM154.5 638.5h51.2v2.0h-51.2zM154.5 640.5h51.2v1.0h-51.2zM154.5 641.5h51.2v2.5h-51.2zM154.5 646.0h51.2v1.5h-51.2zM154.5 647.5h51.2v1.0h-51.2zM154.5 648.5h51.2v1.0h-51.2zM154.5 649.5h51.2v1.0h-51.2zM154.5 650.5h51.2v2.0h-51.2zM154.5 652.5h51.2v1.5h-51.2zM154.5 657.5h51.2v3.0h-51.2zM154.5 660.5h51.2v1.0h-51.2zM154.5 666.0h51.2v1.5h-51.2zM154.5 667.5h51.2v1.0h-51.2zM154.5 679.5h51.2v3.0h-51.2zM154.5 685.0h51.2v1.5h-51.2zM154.5 689.5h51.2v2.5h-51.2zM154.5 694.0h51.2v1.5h-51.2zM154.5 695.5h51.2v1.0h-51.2zM154.5 698.5h51.2v1.0h-51.2zM154.5 701.5h51.2v3.0h-51.2zM154.5 709.5h51.2v1.5h-51.2zM154.5 712.0h51.2v1.0h-51.2zM154.5 717.0h51.2v2.5h-51.2zM154.5 719.5h51.2v1.5h-51.2zM154.5 721.0h51.2v1.0h-51.2zM154.5 727.0h51.2v2.0h-51.2zM154.5 729.0h51.2v3.0h-51.2zM154.5 732.0h51.2v1.0h-51.2zM154.5 736.0h51.2v2.5h-51.2zM154.5 738.5h51.2v1.0h-51.2zM154.5 739.5h51.2v2.5h-51.2zM154.5 742.0h51.2v2.0h-51.2zM154.5 748.5h51.2v2.0h-51.2zM154.5 750.5h51.2v1.0h-51.2zM154.5 751.5h51.2v1.0h-51.2zM154.5 755.0h51.2v1.0h-51.2zM154.5 759.0h51.2v1.0h-51.2zM154.5 760.0h51.2v2.0h-51.2zM154.5 762.0h51.2v2.0h-51.2zM154.5 779.0h51.2v1.0h-51.2zM154.5 780.0h51.2v2.5h-51.2zM154.5 782.5h51.2v2.0h-51.2zM154.5 784.5h51.2v2.0h-51.2zM154.5 786.5h51.2v1.5h-51.2zM154.5 788.0h51.2v2.5h-51.2zM154.5 790.5h51.2v1.0h-51.2zM154.5 797.5h51.2v3.0h-51.2zM154.5 800.5h51.2v1.5h-51.2zM154.5 802.0h51.2v1.0h-51.2zM154.5 803.0h51.2v1.0h-51.2zM154.5 804.0h51.2v2.0h-51.2zM154.5 807.5h51.2v2.5h-51.2zM154.5 810.0h51.2v1.5h-51.2zM154.5 813.5h51.2v3.0h-51.2zM154.5 816.5h51.2v2.0h-51.2zM154.5 818.5h51.2v1.5h-51.2zM154.5 820.0h51.2v1.5h-51.2zM154.5 821.5h51.2v3.0h-51.2zM154.5 826.5h51.2v1.0h-51.2zM154.5 833.0h51.2v2.5h-51.2zM154.5 835.5h51.2v0.6h-51.2zM154.5 842.8h51.2v4.9h-51.2zM154.5 891.5h51.2v1.6h-51.2zM154.5 894.6h51.2v5.5h-51.2zM205.7 558.5h51.2v1.5h-51.2zM205.7 561.0h51.2v3.0h-51.2zM205.7 564.0h51.2v1.0h-51.2zM205.7 565.0h51.2v1.0h-51.2zM205.7 573.5h51.2v1.0h-51.2zM205.7 576.5h51.2v1.5h-51.2zM205.7 579.5h51.2v1.0h-51.2zM205.7 588.5h51.2v2.0h-51.2zM205.7 592.0h51.2v2.5h-51.2zM205.7 596.0h51.2v2.0h-51.2zM205.7 599.0h51.2v2.5h-51.2zM205.7 601.5h51.2v2.5h-51.2zM205.7 606.0h51.2v1.0h-51.2zM205.7 607.0h51.2v1.5h-51.2zM205.7 608.5h51.2v1.5h-51.2zM205.7 610.0h51.2v1.5h-51.2zM205.7 611.5h51.2v0.5h-51.2zM205.7 613.2h51.2v0.3h-51.2zM205.7 620.0h51.2v1.0h-51.2zM205.7 621.0h51.2v1.0h-51.2zM205.7 622.0h51.2v1.0h-51.2zM205.7 629.0h51.2v2.0h-51.2zM205.7 631.0h51.2v3.0h-51.2zM205.7 636.5h51.2v2.0h-51.2zM205.7 638.5h51.2v1.0h-51.2zM205.7 639.5h51.2v2.0h-51.2zM205.7 645.0h51.2v1.5h-51.2zM205.7 648.5h51.2v2.5h-51.2zM205.7 651.0h51.2v3.0h-51.2zM205.7 654.0h51.2v3.0h-51.2zM205.7 659.0h51.2v3.0h-51.2zM205.7 662.0h51.2v2.5h-51.2zM205.7 664.5h51.2v2.5h-51.2zM205.7 668.0h51.2v1.0h-51.2zM205.7 670.0h51.2v2.0h-51.2zM205.7 674.0h51.2v1.0h-51.2zM205.7 677.0h51.2v2.0h-51.2zM205.7 679.0h51.2v1.0h-51.2zM205.7 680.0h51.2v1.5h-51.2zM205.7 690.5h51.2v1.0h-51.2zM205.7 696.5h51.2v3.0h-51.2zM205.7 703.0h51.2v1.5h-51.2zM205.7 705.5h51.2v2.0h-51.2zM205.7 710.0h51.2v1.0h-51.2zM205.7 711.0h51.2v1.0h-51.2zM205.7 714.5h51.2v3.0h-51.2zM205.7 717.5h51.2v1.0h-51.2zM205.7 721.0h51.2v2.0h-51.2zM205.7 723.0h51.2v2.0h-51.2zM205.7 725.0h51.2v2.0h-51.2zM205.7 727.0h51.2v1.5h-51.2zM205.7 728.5h51.2v1.5h-51.2zM205.7 730.0h51.2v1.5h-51.2zM205.7 731.5h51.2v2.5h-51.2zM205.7 738.0h51.2v1.0h-51.2zM205.7 743.5h51.2v2.0h-51.2zM205.7 745.5h51.2v2.0h-51.2zM205.7 747.5h51.2v1.0h-51.2zM205.7 752.0h51.2v1.0h-51.2zM205.7 755.0h51.2v1.0h-51.2zM205.7 756.0h51.2v2.0h-51.2zM205.7 758.0h51.2v2.0h-51.2zM205.7 760.0h51.2v1.0h-51.2zM205.7 761.0h51.2v2.0h-51.2zM205.7 764.5h51.2v2.0h-51.2zM205.7 766.5h51.2v2.0h-51.2zM205.7 768.5h51.2v2.0h-51.2zM205.7 771.5h51.2v3.0h-51.2zM205.7 782.5h51.2v2.0h-51.2zM205.7 784.5h51.2v1.0h-51.2zM205.7 785.5h51.2v2.0h-51.2zM205.7 797.0h51.2v2.5h-51.2zM205.7 799.5h51.2v1.0h-51.2zM205.7 802.5h51.2v1.0h-51.2zM205.7 804.5h51.2v2.5h-51.2zM205.7 809.0h51.2v1.0h-51.2zM205.7 810.0h51.2v2.0h-51.2zM205.7 813.0h51.2v1.0h-51.2zM205.7 814.0h51.2v1.5h-51.2zM205.7 816.5h51.2v3.0h-51.2zM205.7 819.5h51.2v2.5h-51.2zM205.7 827.0h51.2v1.0h-51.2zM205.7 828.0h51.2v1.0h-51.2zM205.7 829.0h51.2v1.0h-51.2zM205.7 830.0h51.2v1.5h-51.2zM205.7 832.5h51.2v2.0h-51.2zM205.7 835.5h51.2v2.2h-51.2zM205.7 862.5h51.2v1.2h-51.2zM256.9 555.5h51.2v2.5h-51.2zM256.9 558.0h51.2v2.0h-51.2zM256.9 560.0h51.2v3.0h-51.2zM256.9 573.0h51.2v3.0h-51.2zM256.9 576.0h51.2v1.0h-51.2zM256.9 577.0h51.2v2.5h-51.2zM256.9 582.5h51.2v1.0h-51.2zM256.9 583.5h51.2v1.0h-51.2zM256.9 586.5h51.2v1.0h-51.2zM256.9 590.0h51.2v1.0h-51.2zM256.9 592.0h51.2v1.0h-51.2zM256.9 593.0h51.2v3.0h-51.2zM256.9 597.0h51.2v1.5h-51.2zM256.9 600.5h51.2v2.0h-51.2zM256.9 604.5h51.2v3.0h-51.2zM256.9 607.5h51.2v3.0h-51.2zM256.9 614.0h51.2v1.0h-51.2zM256.9 615.0h51.2v2.5h-51.2zM256.9 619.5h51.2v2.5h-51.2zM256.9 622.0h51.2v2.0h-51.2zM256.9 630.0h51.2v1.0h-51.2zM256.9 633.5h51.2v2.0h-51.2zM256.9 637.5h51.2v2.0h-51.2zM256.9 639.5h51.2v1.0h-51.2zM256.9 641.5h51.2v1.0h-51.2zM256.9 642.5h51.2v2.0h-51.2zM256.9 646.5h51.2v1.0h-51.2zM256.9 649.5h51.2v2.5h-51.2zM256.9 655.0h51.2v1.0h-51.2zM256.9 657.0h51.2v2.0h-51.2zM256.9 663.5h51.2v1.0h-51.2zM256.9 664.5h51.2v3.0h-51.2zM256.9 670.0h51.2v3.0h-51.2zM256.9 674.0h51.2v2.0h-51.2zM256.9 684.0h51.2v3.0h-51.2zM256.9 687.0h51.2v1.0h-51.2zM256.9 688.0h51.2v1.0h-51.2zM256.9 689.0h51.2v1.5h-51.2zM256.9 690.5h51.2v1.0h-51.2zM256.9 691.5h51.2v1.5h-51.2zM256.9 698.0h51.2v1.0h-51.2zM256.9 703.0h51.2v1.0h-51.2zM256.9 706.5h51.2v3.0h-51.2zM256.9 709.5h51.2v3.0h-51.2zM256.9 712.5h51.2v1.0h-51.2zM256.9 713.5h51.2v1.0h-51.2zM256.9 721.0h51.2v2.0h-51.2zM256.9 723.0h51.2v1.5h-51.2zM256.9 724.5h51.2v1.0h-51.2zM256.9 728.5h51.2v2.0h-51.2zM256.9 730.5h51.2v2.5h-51.2zM256.9 733.0h51.2v1.5h-51.2zM256.9 748.0h51.2v1.0h-51.2zM256.9 749.0h51.2v1.0h-51.2zM256.9 750.0h51.2v1.0h-51.2zM256.9 752.0h51.2v1.0h-51.2zM256.9 754.0h51.2v1.0h-51.2zM256.9 755.0h51.2v2.0h-51.2zM256.9 758.0h51.2v2.5h-51.2zM256.9 760.5h51.2v1.5h-51.2zM256.9 762.0h51.2v1.0h-51.2zM256.9 766.0h51.2v1.0h-51.2zM256.9 767.0h51.2v1.5h-51.2zM256.9 768.5h51.2v2.0h-51.2zM256.9 770.5h51.2v1.0h-51.2zM256.9 771.5h51.2v2.0h-51.2zM256.9 779.5h51.2v1.0h-51.2zM256.9 780.5h51.2v1.0h-51.2zM256.9 785.0h51.2v2.0h-51.2zM256.9 790.0h51.2v1.0h-51.2zM256.9 791.0h51.2v3.0h-51.2zM256.9 799.0h51.2v1.0h-51.2zM256.9 806.0h51.2v2.0h-51.2zM256.9 810.5h51.2v1.0h-51.2zM256.9 811.5h51.2v1.0h-51.2zM256.9 812.5h51.2v2.0h-51.2zM256.9 814.5h51.2v1.0h-51.2zM256.9 818.0h51.2v1.0h-51.2zM256.9 824.0h51.2v2.0h-51.2zM256.9 831.0h51.2v1.0h-51.2zM256.9 833.5h51.2v2.0h-51.2zM308.1 838.0h51.2v2.0h-51.2zM308.1 844.0h51.2v1.0h-51.2zM308.1 845.0h51.2v1.0h-51.2zM308.1 849.0h51.2v2.5h-51.2zM308.1 852.5h51.2v1.0h-51.2zM308.1 856.0h51.2v1.0h-51.2zM308.1 861.5h51.2v1.0h-51.2zM308.1 862.5h51.2v2.5h-51.2zM308.1 874.0h51.2v2.0h-51.2zM308.1 878.5h51.2v1.0h-51.2zM308.1 891.0h51.2v1.0h-51.2zM308.1 892.0h51.2v1.5h-51.2zM308.1 906.5h51.2v3.0h-51.2zM308.1 909.5h51.2v1.0h-51.2zM308.1 913.5h51.2v2.0h-51.2zM308.1 915.5h51.2v2.5h-51.2zM308.1 918.0h51.2v1.0h-51.2zM308.1 923.5h51.2v1.0h-51.2zM308.1 931.0h51.2v1.0h-51.2zM308.1 936.7h51.2v0.3h-51.2zM308.1 942.5h51.2v3.0h-51.2zM308.1 945.5h51.2v1.5h-51.2zM308.1 952.0h51.2v0.2h-51.2zM359.3 835.5h51.2v2.0h-51.2zM359.3 837.5h51.2v2.0h-51.2zM359.3 839.5h51.2v3.0h-51.2zM359.3 843.5h51.2v2.0h-51.2zM359.3 847.5h51.2v1.0h-51.2zM359.3 856.0h51.2v2.0h-51.2zM359.3 859.0h51.2v1.5h-51.2zM359.3 860.5h51.2v3.0h-51.2zM359.3 863.5h51.2v1.0h-51.2zM359.3 869.0h51.2v2.0h-51.2zM359.3 876.5h51.2v2.0h-51.2zM359.3 883.0h51.2v1.0h-51.2zM359.3 889.0h51.2v3.0h-51.2zM359.3 894.5h51.2v1.0h-51.2zM359.3 897.5h51.2v1.0h-51.2zM359.3 905.5h51.2v1.0h-51.2zM359.3 909.0h51.2v1.3h-51.2zM359.3 911.5h51.2v1.5h-51.2zM359.3 913.0h51.2v1.5h-51.2zM359.3 914.5h51.2v2.0h-51.2zM359.3 917.5h51.2v2.0h-51.2zM359.3 919.5h51.2v3.0h-51.2zM359.3 929.5h51.2v2.0h-51.2zM359.3 931.5h51.2v2.0h-51.2zM359.3 934.5h51.2v1.0h-51.2zM359.3 938.0h51.2v1.0h-51.2zM359.3 939.0h51.2v1.0h-51.2zM359.3 948.0h51.2v1.0h-51.2zM359.3 952.0h51.2v0.2h-51.2zM410.5 839.0h51.2v1.0h-51.2zM410.5 843.0h51.2v1.0h-51.2zM410.5 844.0h51.2v2.0h-51.2zM410.5 850.5h51.2v2.5h-51.2zM410.5 860.0h51.2v1.0h-51.2zM410.5 863.0h51.2v1.0h-51.2zM410.5 864.0h51.2v1.0h-51.2zM410.5 865.0h51.2v1.0h-51.2zM410.5 871.5h51.2v1.0h-51.2zM410.5 878.5h51.2v1.0h-51.2zM410.5 879.5h51.2v1.0h-51.2zM410.5 886.5h51.2v2.0h-51.2zM410.5 891.5h51.2v1.0h-51.2zM410.5 892.5h51.2v1.0h-51.2zM410.5 900.0h51.2v2.0h-51.2zM410.5 908.0h51.2v1.5h-51.2zM410.5 915.5h51.2v2.0h-51.2zM410.5 917.5h51.2v2.5h-51.2zM410.5 920.0h51.2v1.0h-51.2zM410.5 922.0h51.2v1.0h-51.2zM410.5 923.0h51.2v2.5h-51.2zM410.5 931.5h51.2v1.5h-51.2zM410.5 945.0h51.2v1.5h-51.2zM410.5 950.5h51.2v1.5h-51.2zM410.5 952.0h51.2v0.2h-51.2zM461.7 835.5h51.2v2.0h-51.2zM461.7 837.5h51.2v2.0h-51.2zM461.7 839.5h51.2v1.0h-51.2zM461.7 840.5h51.2v3.0h-51.2zM461.7 843.5h51.2v1.0h-51.2zM461.7 847.5h51.2v1.0h-51.2zM461.7 848.5h51.2v1.0h-51.2zM461.7 849.5h51.2v1.0h-51.2zM461.7 855.0h51.2v1.5h-51.2zM461.7 856.5h51.2v2.0h-51.2zM461.7 861.5h51.2v1.0h-51.2zM461.7 862.5h51.2v1.0h-51.2zM461.7 863.5h51.2v1.0h-51.2zM461.7 864.5h51.2v1.0h-51.2zM461.7 874.0h51.2v1.0h-51.2zM461.7 876.5h51.2v2.5h-51.2zM461.7 879.0h51.2v1.0h-51.2zM461.7 881.5h51.2v1.5h-51.2zM461.7 887.0h51.2v1.0h-51.2zM461.7 888.0h51.2v3.0h-51.2zM461.7 891.0h51.2v1.0h-51.2zM461.7 899.0h51.2v2.0h-51.2zM461.7 901.0h51.2v1.0h-51.2zM461.7 902.0h51.2v2.5h-51.2zM461.7 909.5h51.2v1.5h-51.2zM461.7 918.5h51.2v2.0h-51.2zM461.7 922.0h51.2v2.0h-51.2zM461.7 926.5h51.2v0.5h-51.2zM461.7 928.2h51.2v0.3h-51.2zM461.7 928.5h51.2v2.5h-51.2zM461.7 931.0h51.2v1.0h-51.2zM461.7 932.0h51.2v2.0h-51.2zM461.7 934.0h51.2v1.0h-51.2zM461.7 935.0h51.2v1.0h-51.2zM461.7 936.0h51.2v3.0h-51.2zM461.7 941.5h51.2v2.0h-51.2zM461.7 949.0h51.2v1.0h-51.2z" fill="#64C7BE"/><path d="M103.3 600.0h51.2v2.0h-51.2zM103.3 626.5h51.2v2.0h-51.2zM103.3 647.6h51.2v7.4h-51.2zM103.3 753.5h51.2v1.0h-51.2zM154.5 551.5h51.2v2.5h-51.2zM154.5 587.0h51.2v2.0h-51.2zM154.5 602.5h51.2v1.0h-51.2zM154.5 714.0h51.2v3.0h-51.2zM205.7 580.5h51.2v2.0h-51.2zM205.7 586.0h51.2v2.0h-51.2zM256.9 591.0h51.2v1.0h-51.2zM256.9 699.0h51.2v1.0h-51.2zM308.1 927.0h51.2v1.5h-51.2zM359.3 871.5h51.2v2.5h-51.2zM359.3 892.0h51.2v2.5h-51.2zM461.7 850.5h51.2v1.5h-51.2zM461.7 868.5h51.2v2.5h-51.2zM461.7 880.0h51.2v1.5h-51.2zM461.7 945.0h51.2v2.5h-51.2z" fill="#5CC0E8"/><path d="M103.3 646.3h51.2v1.3h-51.2zM359.3 910.3h51.2v1.2h-51.2zM410.5 947.0h51.2v1.2h-51.2z" fill="#3A78C8"/><path d="M103.3 674.5h51.2v1.0h-51.2zM103.3 706.5h51.2v2.0h-51.2zM103.3 724.5h51.2v1.0h-51.2zM103.3 842.0h51.2v1.2h-51.2zM103.3 844.5h51.2v1.5h-51.2zM103.3 847.7h51.2v1.3h-51.2zM103.3 853.3h51.2v1.6h-51.2zM103.3 874.2h51.2v1.6h-51.2zM103.3 879.8h51.2v2.4h-51.2zM103.3 891.8h51.2v2.1h-51.2zM154.5 567.0h51.2v1.5h-51.2zM154.5 611.0h51.2v1.0h-51.2zM154.5 612.0h51.2v1.5h-51.2zM154.5 618.0h51.2v2.0h-51.2zM154.5 837.2h51.2v1.6h-51.2zM154.5 900.1h51.2v1.0h-51.2zM154.5 909.0h51.2v1.1h-51.2zM154.5 933.3h51.2v1.0h-51.2zM154.5 935.3h51.2v1.1h-51.2zM205.7 554.0h51.2v1.5h-51.2zM205.7 555.5h51.2v1.5h-51.2zM205.7 780.0h51.2v1.5h-51.2zM205.7 781.5h51.2v1.0h-51.2zM205.7 815.5h51.2v1.0h-51.2zM205.7 847.8h51.2v2.3h-51.2zM205.7 867.4h51.2v2.1h-51.2zM205.7 878.0h51.2v2.3h-51.2zM205.7 903.3h51.2v1.4h-51.2zM256.9 878.7h51.2v2.4h-51.2zM256.9 888.8h51.2v1.5h-51.2zM256.9 892.3h51.2v1.0h-51.2zM256.9 893.3h51.2v1.3h-51.2zM256.9 903.6h51.2v1.0h-51.2zM256.9 904.6h51.2v1.5h-51.2zM256.9 906.1h51.2v0.9h-51.2zM308.1 557.7h51.2v2.1h-51.2zM308.1 561.0h51.2v1.7h-51.2zM308.1 567.9h51.2v1.5h-51.2zM308.1 569.4h51.2v0.9h-51.2zM308.1 573.8h51.2v1.2h-51.2zM308.1 583.7h51.2v2.2h-51.2zM308.1 767.9h51.2v2.3h-51.2zM308.1 803.5h51.2v1.6h-51.2zM308.1 805.1h51.2v2.0h-51.2zM308.1 808.2h51.2v1.5h-51.2zM308.1 809.7h51.2v2.3h-51.2zM308.1 842.0h51.2v2.0h-51.2zM308.1 846.0h51.2v1.0h-51.2zM359.3 557.4h51.2v2.1h-51.2zM359.3 570.9h51.2v0.8h-51.2zM359.3 574.4h51.2v0.8h-51.2zM359.3 607.5h51.2v1.2h-51.2zM359.3 798.9h51.2v2.3h-51.2zM359.3 804.3h51.2v2.0h-51.2zM359.3 806.3h51.2v1.0h-51.2zM359.3 807.3h51.2v2.0h-51.2zM359.3 809.3h51.2v1.0h-51.2zM359.3 810.3h51.2v1.0h-51.2zM359.3 819.0h51.2v1.0h-51.2zM359.3 820.0h51.2v1.0h-51.2zM359.3 821.0h51.2v1.1h-51.2zM359.3 834.5h51.2v1.0h-51.2zM359.3 924.5h51.2v2.0h-51.2zM410.5 795.0h51.2v1.0h-51.2zM410.5 796.0h51.2v1.0h-51.2zM410.5 797.0h51.2v1.1h-51.2zM410.5 800.4h51.2v2.3h-51.2zM410.5 862.0h51.2v1.0h-51.2zM461.7 722.4h51.2v2.3h-51.2zM461.7 727.8h51.2v2.3h-51.2zM461.7 943.5h51.2v1.5h-51.2z" fill="#7ACE8C"/><path d="M103.3 836.4h51.2v1.6h-51.2zM103.3 864.5h51.2v1.6h-51.2zM103.3 868.5h51.2v1.6h-51.2zM103.3 914.8h51.2v2.0h-51.2zM103.3 950.6h51.2v1.6h-51.2zM154.5 847.7h51.2v2.4h-51.2zM154.5 858.8h51.2v2.0h-51.2zM154.5 915.9h51.2v1.0h-51.2zM154.5 916.9h51.2v1.7h-51.2zM205.7 851.7h51.2v2.3h-51.2zM205.7 860.9h51.2v1.6h-51.2zM205.7 905.7h51.2v1.5h-51.2zM205.7 907.2h51.2v1.4h-51.2zM205.7 914.0h51.2v2.3h-51.2zM205.7 923.7h51.2v1.1h-51.2zM205.7 944.9h51.2v2.4h-51.2zM256.9 864.8h51.2v2.0h-51.2zM256.9 871.0h51.2v2.3h-51.2zM256.9 881.1h51.2v2.3h-51.2zM256.9 914.0h51.2v1.5h-51.2zM256.9 918.6h51.2v2.4h-51.2zM256.9 933.3h51.2v2.4h-51.2zM256.9 940.0h51.2v1.1h-51.2zM308.1 585.9h51.2v1.2h-51.2zM308.1 593.6h51.2v1.6h-51.2zM308.1 596.4h51.2v1.6h-51.2zM308.1 618.1h51.2v1.0h-51.2zM308.1 632.2h51.2v2.8h-51.2zM308.1 636.5h51.2v2.0h-51.2zM308.1 638.5h51.2v1.2h-51.2zM308.1 646.6h51.2v2.0h-51.2zM308.1 650.5h51.2v1.5h-51.2zM308.1 653.6h51.2v2.3h-51.2zM308.1 679.9h51.2v2.0h-51.2zM308.1 681.9h51.2v1.1h-51.2zM308.1 697.3h51.2v1.1h-51.2zM308.1 698.4h51.2v1.0h-51.2zM308.1 699.4h51.2v1.0h-51.2zM308.1 700.4h51.2v2.0h-51.2zM308.1 702.4h51.2v1.4h-51.2zM308.1 707.7h51.2v1.0h-51.2zM308.1 709.7h51.2v1.1h-51.2zM308.1 730.9h51.2v2.3h-51.2zM359.3 554.5h51.2v2.0h-51.2zM359.3 575.2h51.2v1.5h-51.2zM359.3 585.3h51.2v0.6h-51.2zM359.3 623.1h51.2v1.1h-51.2zM359.3 626.5h51.2v2.3h-51.2zM359.3 628.8h51.2v2.0h-51.2zM359.3 631.9h51.2v2.3h-51.2zM359.3 647.4h51.2v2.0h-51.2zM359.3 653.3h51.2v1.1h-51.2zM359.3 662.9h51.2v1.0h-51.2zM359.3 663.9h51.2v1.0h-51.2zM359.3 689.1h51.2v2.3h-51.2zM359.3 697.3h51.2v1.1h-51.2zM359.3 701.5h51.2v1.0h-51.2zM359.3 702.5h51.2v2.8h-51.2zM359.3 716.9h51.2v1.0h-51.2zM359.3 718.9h51.2v1.1h-51.2zM359.3 733.9h51.2v1.0h-51.2zM359.3 734.9h51.2v2.2h-51.2zM359.3 749.4h51.2v2.0h-51.2zM359.3 758.6h51.2v1.5h-51.2zM359.3 781.1h51.2v2.0h-51.2zM359.3 783.1h51.2v1.8h-51.2zM410.5 583.3h51.2v2.3h-51.2zM410.5 590.5h51.2v1.5h-51.2zM410.5 593.3h51.2v1.0h-51.2zM410.5 614.2h51.2v2.0h-51.2zM410.5 616.2h51.2v1.8h-51.2zM410.5 618.0h51.2v2.3h-51.2zM410.5 620.3h51.2v1.0h-51.2zM410.5 621.3h51.2v2.0h-51.2zM410.5 644.3h51.2v2.3h-51.2zM410.5 651.7h51.2v1.1h-51.2zM410.5 652.8h51.2v2.0h-51.2zM410.5 654.8h51.2v1.0h-51.2zM410.5 662.1h51.2v2.3h-51.2zM410.5 669.1h51.2v2.3h-51.2zM410.5 676.8h51.2v2.3h-51.2zM410.5 737.1h51.2v2.3h-51.2zM410.5 772.5h51.2v1.5h-51.2zM410.5 774.9h51.2v2.3h-51.2zM410.5 816.6h51.2v1.0h-51.2zM410.5 822.1h51.2v2.3h-51.2zM461.7 560.1h51.2v2.3h-51.2zM461.7 569.3h51.2v2.4h-51.2zM461.7 590.5h51.2v1.0h-51.2zM461.7 594.8h51.2v1.6h-51.2zM461.7 603.4h51.2v1.5h-51.2zM461.7 604.9h51.2v1.6h-51.2zM461.7 606.5h51.2v1.0h-51.2zM461.7 607.5h51.2v1.0h-51.2zM461.7 617.0h51.2v1.0h-51.2zM461.7 618.0h51.2v2.3h-51.2zM461.7 620.3h51.2v2.0h-51.2zM461.7 641.2h51.2v1.0h-51.2zM461.7 642.2h51.2v1.0h-51.2zM461.7 645.2h51.2v2.2h-51.2zM461.7 647.4h51.2v1.5h-51.2zM461.7 650.5h51.2v2.0h-51.2zM461.7 652.5h51.2v1.0h-51.2zM461.7 653.5h51.2v1.6h-51.2zM461.7 657.6h51.2v2.0h-51.2zM461.7 664.4h51.2v1.0h-51.2zM461.7 665.4h51.2v2.1h-51.2zM461.7 668.5h51.2v2.1h-51.2zM461.7 674.5h51.2v2.3h-51.2zM461.7 679.9h51.2v1.0h-51.2zM461.7 689.3h51.2v1.0h-51.2zM461.7 757.3h51.2v2.1h-51.2zM461.7 759.4h51.2v2.0h-51.2zM461.7 762.5h51.2v2.3h-51.2zM461.7 827.7h51.2v2.1h-51.2z" fill="#F86808"/><path d="M103.3 838.0h51.2v2.0h-51.2zM103.3 866.1h51.2v2.4h-51.2zM103.3 878.2h51.2v1.6h-51.2zM103.3 896.2h51.2v2.3h-51.2zM103.3 912.4h51.2v2.4h-51.2zM103.3 916.8h51.2v2.6h-51.2zM154.5 852.5h51.2v2.4h-51.2zM154.5 881.4h51.2v1.5h-51.2zM154.5 903.9h51.2v1.6h-51.2zM154.5 930.2h51.2v1.0h-51.2zM154.5 931.2h51.2v1.0h-51.2zM154.5 932.2h51.2v1.1h-51.2zM154.5 943.4h51.2v1.0h-51.2zM154.5 944.4h51.2v1.0h-51.2zM154.5 945.4h51.2v1.0h-51.2zM154.5 946.4h51.2v0.9h-51.2zM205.7 837.7h51.2v1.6h-51.2zM205.7 859.4h51.2v1.5h-51.2zM205.7 884.2h51.2v2.0h-51.2zM205.7 886.2h51.2v1.1h-51.2zM205.7 908.6h51.2v2.3h-51.2zM205.7 911.9h51.2v1.0h-51.2zM205.7 912.9h51.2v1.1h-51.2zM205.7 916.3h51.2v1.0h-51.2zM205.7 917.3h51.2v2.1h-51.2zM205.7 932.6h51.2v2.3h-51.2zM256.9 899.5h51.2v1.0h-51.2zM256.9 900.5h51.2v1.1h-51.2zM256.9 916.5h51.2v2.1h-51.2zM256.9 925.6h51.2v1.0h-51.2zM256.9 926.6h51.2v1.0h-51.2zM256.9 929.6h51.2v1.4h-51.2zM256.9 949.6h51.2v1.0h-51.2zM308.1 604.5h51.2v1.5h-51.2zM308.1 641.2h51.2v1.0h-51.2zM308.1 642.2h51.2v1.0h-51.2zM308.1 643.2h51.2v1.0h-51.2zM308.1 644.2h51.2v1.0h-51.2zM308.1 645.2h51.2v1.4h-51.2zM308.1 689.0h51.2v0.9h-51.2zM308.1 691.4h51.2v2.0h-51.2zM308.1 779.5h51.2v2.4h-51.2zM308.1 799.7h51.2v2.3h-51.2zM308.1 812.0h51.2v1.5h-51.2zM308.1 813.5h51.2v1.6h-51.2zM308.1 829.5h51.2v1.9h-51.2zM359.3 576.7h51.2v1.7h-51.2zM359.3 583.3h51.2v2.0h-51.2zM359.3 615.0h51.2v1.0h-51.2zM359.3 619.5h51.2v1.6h-51.2zM359.3 636.6h51.2v2.3h-51.2zM359.3 676.7h51.2v1.0h-51.2zM359.3 698.4h51.2v1.0h-51.2zM359.3 725.5h51.2v2.0h-51.2zM359.3 730.1h51.2v2.3h-51.2zM359.3 738.1h51.2v1.0h-51.2zM359.3 739.1h51.2v1.0h-51.2zM359.3 740.1h51.2v1.0h-51.2zM359.3 741.1h51.2v1.4h-51.2zM359.3 760.1h51.2v0.9h-51.2zM410.5 629.6h51.2v2.3h-51.2zM410.5 633.4h51.2v1.6h-51.2zM410.5 639.7h51.2v2.3h-51.2zM410.5 688.3h51.2v2.3h-51.2zM410.5 696.3h51.2v1.0h-51.2zM410.5 705.0h51.2v1.9h-51.2zM410.5 711.5h51.2v1.0h-51.2zM410.5 712.5h51.2v1.0h-51.2zM410.5 734.7h51.2v2.4h-51.2zM410.5 784.2h51.2v2.3h-51.2zM410.5 812.0h51.2v1.5h-51.2zM461.7 573.2h51.2v2.3h-51.2zM461.7 612.7h51.2v2.3h-51.2zM461.7 623.8h51.2v1.2h-51.2zM461.7 625.0h51.2v1.0h-51.2zM461.7 626.0h51.2v2.0h-51.2zM461.7 628.0h51.2v1.6h-51.2zM461.7 659.6h51.2v1.7h-51.2zM461.7 692.2h51.2v1.0h-51.2zM461.7 693.2h51.2v1.0h-51.2zM461.7 694.2h51.2v1.0h-51.2zM461.7 695.2h51.2v1.5h-51.2zM461.7 696.7h51.2v0.9h-51.2zM461.7 700.7h51.2v2.3h-51.2zM461.7 771.8h51.2v1.0h-51.2zM461.7 772.8h51.2v1.0h-51.2zM461.7 773.8h51.2v1.1h-51.2z" fill="#F8C400"/><path d="M103.3 840.0h51.2v2.0h-51.2zM103.3 843.2h51.2v1.3h-51.2zM103.3 849.0h51.2v1.9h-51.2zM103.3 873.1h51.2v1.1h-51.2zM103.3 882.2h51.2v1.0h-51.2zM103.3 884.2h51.2v1.2h-51.2zM103.3 889.4h51.2v2.4h-51.2zM154.5 836.1h51.2v1.1h-51.2zM154.5 893.1h51.2v1.5h-51.2zM154.5 925.6h51.2v2.3h-51.2zM205.7 863.7h51.2v2.7h-51.2zM205.7 880.3h51.2v1.5h-51.2zM256.9 876.4h51.2v2.3h-51.2zM256.9 886.5h51.2v2.3h-51.2zM256.9 894.6h51.2v2.4h-51.2zM256.9 909.0h51.2v1.0h-51.2zM256.9 931.0h51.2v2.3h-51.2zM256.9 935.7h51.2v2.3h-51.2zM308.1 553.9h51.2v2.0h-51.2zM308.1 555.9h51.2v1.0h-51.2zM308.1 556.9h51.2v0.8h-51.2zM308.1 564.2h51.2v1.7h-51.2zM308.1 580.2h51.2v1.5h-51.2zM308.1 581.7h51.2v2.0h-51.2zM308.1 601.8h51.2v1.6h-51.2zM308.1 610.4h51.2v2.3h-51.2zM308.1 663.7h51.2v2.0h-51.2zM308.1 665.7h51.2v1.0h-51.2zM308.1 676.0h51.2v1.5h-51.2zM308.1 685.0h51.2v1.0h-51.2zM308.1 770.2h51.2v2.4h-51.2zM308.1 797.8h51.2v1.0h-51.2zM308.1 798.8h51.2v0.9h-51.2zM308.1 832.9h51.2v2.6h-51.2zM359.3 551.5h51.2v1.0h-51.2zM359.3 552.5h51.2v1.0h-51.2zM359.3 553.5h51.2v1.0h-51.2zM359.3 608.7h51.2v2.0h-51.2zM359.3 610.7h51.2v1.2h-51.2zM359.3 638.9h51.2v2.3h-51.2zM359.3 657.5h51.2v1.0h-51.2zM359.3 659.5h51.2v1.8h-51.2zM359.3 727.5h51.2v2.6h-51.2zM359.3 761.0h51.2v2.0h-51.2zM359.3 796.0h51.2v2.0h-51.2zM359.3 798.0h51.2v0.9h-51.2zM359.3 801.2h51.2v1.0h-51.2zM359.3 811.3h51.2v2.0h-51.2zM359.3 814.3h51.2v1.6h-51.2zM359.3 816.9h51.2v1.0h-51.2zM359.3 817.9h51.2v1.1h-51.2zM359.3 824.1h51.2v1.0h-51.2zM359.3 825.1h51.2v2.0h-51.2zM359.3 827.1h51.2v1.5h-51.2zM359.3 828.6h51.2v1.0h-51.2zM359.3 829.6h51.2v2.0h-51.2zM359.3 832.6h51.2v1.0h-51.2zM359.3 833.6h51.2v0.9h-51.2zM410.5 706.9h51.2v1.5h-51.2zM410.5 708.4h51.2v1.0h-51.2zM410.5 709.4h51.2v2.1h-51.2zM410.5 758.6h51.2v1.5h-51.2zM410.5 790.4h51.2v1.0h-51.2zM410.5 791.4h51.2v1.0h-51.2zM410.5 798.1h51.2v2.3h-51.2zM461.7 551.5h51.2v2.0h-51.2zM461.7 559.0h51.2v1.1h-51.2zM461.7 714.6h51.2v2.4h-51.2zM461.7 720.5h51.2v1.0h-51.2zM461.7 721.5h51.2v0.9h-51.2zM461.7 724.7h51.2v1.5h-51.2zM461.7 726.2h51.2v1.6h-51.2zM461.7 734.0h51.2v1.0h-51.2zM461.7 743.2h51.2v1.5h-51.2zM461.7 744.7h51.2v1.7h-51.2zM461.7 749.4h51.2v1.5h-51.2zM461.7 768.7h51.2v1.5h-51.2z" fill="#C8E038"/><path d="M103.3 846.0h51.2v1.7h-51.2zM103.3 885.4h51.2v1.6h-51.2zM103.3 929.5h51.2v2.3h-51.2zM154.5 838.8h51.2v2.1h-51.2zM154.5 883.9h51.2v1.5h-51.2zM154.5 920.2h51.2v1.0h-51.2zM154.5 921.2h51.2v1.5h-51.2zM154.5 922.7h51.2v2.0h-51.2zM154.5 924.7h51.2v0.9h-51.2zM154.5 927.9h51.2v2.3h-51.2zM154.5 938.7h51.2v1.5h-51.2zM154.5 940.2h51.2v2.0h-51.2zM154.5 942.2h51.2v1.2h-51.2zM154.5 949.6h51.2v2.6h-51.2zM205.7 839.3h51.2v1.5h-51.2zM205.7 855.5h51.2v1.6h-51.2zM205.7 869.5h51.2v1.0h-51.2zM205.7 870.5h51.2v1.5h-51.2zM205.7 872.0h51.2v1.0h-51.2zM205.7 873.0h51.2v1.1h-51.2zM205.7 942.0h51.2v1.0h-51.2zM205.7 947.3h51.2v2.3h-51.2zM256.9 842.4h51.2v1.5h-51.2zM256.9 873.3h51.2v1.0h-51.2zM256.9 874.3h51.2v2.1h-51.2zM256.9 910.0h51.2v1.7h-51.2zM256.9 924.0h51.2v1.6h-51.2zM256.9 927.6h51.2v2.0h-51.2zM256.9 941.1h51.2v2.3h-51.2zM308.1 599.8h51.2v2.0h-51.2zM308.1 606.0h51.2v1.0h-51.2zM308.1 607.0h51.2v2.0h-51.2zM308.1 609.0h51.2v1.4h-51.2zM308.1 623.4h51.2v2.3h-51.2zM308.1 627.3h51.2v2.3h-51.2zM308.1 652.0h51.2v1.6h-51.2zM308.1 655.9h51.2v1.6h-51.2zM308.1 659.0h51.2v2.3h-51.2zM308.1 666.7h51.2v2.1h-51.2zM308.1 670.6h51.2v1.5h-51.2zM308.1 672.1h51.2v2.0h-51.2zM308.1 674.1h51.2v1.9h-51.2zM308.1 686.0h51.2v1.0h-51.2zM308.1 712.3h51.2v1.5h-51.2zM308.1 713.8h51.2v0.8h-51.2zM308.1 716.6h51.2v1.0h-51.2zM308.1 718.6h51.2v1.0h-51.2zM308.1 782.9h51.2v1.0h-51.2zM308.1 790.4h51.2v1.0h-51.2zM308.1 792.7h51.2v1.0h-51.2zM308.1 793.7h51.2v1.0h-51.2zM308.1 794.7h51.2v1.1h-51.2zM308.1 820.5h51.2v2.0h-51.2zM308.1 822.5h51.2v1.0h-51.2zM308.1 823.5h51.2v1.0h-51.2zM308.1 824.5h51.2v2.0h-51.2zM308.1 827.5h51.2v2.0h-51.2zM359.3 560.5h51.2v1.0h-51.2zM359.3 561.5h51.2v1.2h-51.2zM359.3 578.4h51.2v2.0h-51.2zM359.3 580.4h51.2v1.5h-51.2zM359.3 581.9h51.2v1.4h-51.2zM359.3 594.4h51.2v2.0h-51.2zM359.3 596.4h51.2v1.8h-51.2zM359.3 616.0h51.2v2.0h-51.2zM359.3 643.5h51.2v2.4h-51.2zM359.3 654.4h51.2v1.0h-51.2zM359.3 655.4h51.2v2.1h-51.2zM359.3 669.8h51.2v1.6h-51.2zM359.3 673.7h51.2v2.0h-51.2zM359.3 675.7h51.2v1.0h-51.2zM359.3 677.7h51.2v1.4h-51.2zM359.3 681.4h51.2v2.0h-51.2zM410.5 693.0h51.2v2.3h-51.2zM410.5 695.3h51.2v1.0h-51.2zM410.5 703.0h51.2v1.0h-51.2zM410.5 704.0h51.2v1.0h-51.2zM410.5 713.5h51.2v1.1h-51.2zM410.5 739.4h51.2v1.5h-51.2zM410.5 740.9h51.2v2.4h-51.2zM410.5 762.7h51.2v2.1h-51.2zM410.5 786.5h51.2v2.3h-51.2zM410.5 813.5h51.2v1.6h-51.2zM461.7 564.2h51.2v1.3h-51.2zM461.7 598.7h51.2v2.4h-51.2zM461.7 719.0h51.2v1.5h-51.2zM461.7 738.6h51.2v1.5h-51.2zM461.7 764.8h51.2v2.0h-51.2zM461.7 766.8h51.2v1.9h-51.2z" fill="#F5F005"/><path d="M103.3 861.3h51.2v2.0h-51.2zM103.3 863.3h51.2v1.2h-51.2zM103.3 898.5h51.2v2.0h-51.2zM103.3 900.5h51.2v1.1h-51.2zM103.3 908.5h51.2v1.6h-51.2zM103.3 919.4h51.2v1.0h-51.2zM103.3 933.3h51.2v1.5h-51.2zM103.3 934.8h51.2v1.6h-51.2zM103.3 938.0h51.2v1.0h-51.2zM103.3 949.6h51.2v1.0h-51.2zM154.5 854.9h51.2v2.4h-51.2zM154.5 861.8h51.2v1.0h-51.2zM154.5 863.7h51.2v1.0h-51.2zM154.5 864.7h51.2v2.2h-51.2zM154.5 918.6h51.2v1.6h-51.2zM205.7 840.8h51.2v1.6h-51.2zM205.7 846.2h51.2v1.6h-51.2zM205.7 881.8h51.2v2.4h-51.2zM205.7 889.3h51.2v1.0h-51.2zM205.7 897.7h51.2v1.0h-51.2zM205.7 898.7h51.2v1.0h-51.2zM205.7 899.7h51.2v1.1h-51.2zM205.7 927.1h51.2v2.4h-51.2zM205.7 929.5h51.2v1.5h-51.2zM256.9 843.9h51.2v1.0h-51.2zM256.9 844.9h51.2v1.5h-51.2zM256.9 846.4h51.2v2.0h-51.2zM256.9 848.4h51.2v1.0h-51.2zM256.9 849.4h51.2v1.0h-51.2zM256.9 850.4h51.2v1.5h-51.2zM256.9 851.9h51.2v1.0h-51.2zM256.9 852.9h51.2v1.0h-51.2zM256.9 857.8h51.2v1.0h-51.2zM256.9 897.0h51.2v1.5h-51.2zM308.1 588.1h51.2v1.5h-51.2zM308.1 589.6h51.2v1.0h-51.2zM308.1 613.8h51.2v2.0h-51.2zM308.1 724.7h51.2v1.5h-51.2zM308.1 728.1h51.2v2.8h-51.2zM308.1 733.2h51.2v2.3h-51.2zM308.1 742.1h51.2v1.9h-51.2zM308.1 745.6h51.2v2.0h-51.2zM308.1 747.6h51.2v1.0h-51.2zM308.1 750.1h51.2v2.0h-51.2zM308.1 752.1h51.2v1.9h-51.2zM308.1 756.0h51.2v1.0h-51.2zM308.1 757.0h51.2v1.0h-51.2zM308.1 758.0h51.2v2.0h-51.2zM308.1 761.5h51.2v1.0h-51.2zM308.1 762.5h51.2v2.3h-51.2zM359.3 649.4h51.2v1.9h-51.2zM359.3 684.2h51.2v1.8h-51.2zM359.3 691.4h51.2v1.5h-51.2zM359.3 692.9h51.2v1.5h-51.2zM359.3 732.4h51.2v1.5h-51.2zM359.3 744.0h51.2v1.0h-51.2zM359.3 745.0h51.2v1.0h-51.2zM359.3 747.0h51.2v1.5h-51.2zM359.3 774.1h51.2v1.0h-51.2zM359.3 775.1h51.2v1.0h-51.2zM359.3 776.1h51.2v1.0h-51.2zM359.3 777.1h51.2v2.0h-51.2zM359.3 779.1h51.2v2.0h-51.2zM359.3 790.4h51.2v1.5h-51.2zM359.3 791.9h51.2v2.0h-51.2zM359.3 793.9h51.2v1.1h-51.2zM410.5 575.5h51.2v1.0h-51.2zM410.5 587.9h51.2v1.0h-51.2zM410.5 596.4h51.2v2.3h-51.2zM410.5 601.8h51.2v2.4h-51.2zM410.5 627.3h51.2v2.3h-51.2zM410.5 664.4h51.2v2.3h-51.2zM410.5 671.4h51.2v1.0h-51.2zM410.5 673.4h51.2v1.0h-51.2zM410.5 674.4h51.2v1.0h-51.2zM410.5 675.4h51.2v1.4h-51.2zM410.5 718.0h51.2v2.0h-51.2zM410.5 720.0h51.2v2.4h-51.2zM410.5 726.7h51.2v1.0h-51.2zM410.5 802.7h51.2v1.5h-51.2zM410.5 804.2h51.2v1.0h-51.2zM410.5 805.2h51.2v1.5h-51.2zM410.5 806.7h51.2v1.5h-51.2zM410.5 808.2h51.2v1.0h-51.2zM410.5 809.2h51.2v1.0h-51.2zM410.5 810.2h51.2v1.8h-51.2zM410.5 820.5h51.2v1.6h-51.2zM410.5 826.7h51.2v1.5h-51.2zM410.5 829.7h51.2v1.0h-51.2zM410.5 830.7h51.2v2.0h-51.2zM410.5 833.7h51.2v1.8h-51.2zM461.7 568.0h51.2v1.3h-51.2zM461.7 579.9h51.2v1.1h-51.2zM461.7 584.8h51.2v1.0h-51.2zM461.7 585.8h51.2v1.3h-51.2zM461.7 601.1h51.2v2.3h-51.2zM461.7 611.1h51.2v1.6h-51.2zM461.7 631.1h51.2v1.0h-51.2zM461.7 637.3h51.2v2.0h-51.2zM461.7 661.3h51.2v1.5h-51.2zM461.7 662.8h51.2v1.6h-51.2zM461.7 671.6h51.2v1.0h-51.2zM461.7 672.6h51.2v1.0h-51.2zM461.7 673.6h51.2v0.9h-51.2zM461.7 707.3h51.2v1.1h-51.2zM461.7 752.5h51.2v1.5h-51.2zM461.7 754.0h51.2v2.3h-51.2zM461.7 770.2h51.2v1.6h-51.2zM461.7 777.2h51.2v2.0h-51.2zM461.7 779.2h51.2v1.0h-51.2zM461.7 785.6h51.2v2.0h-51.2zM461.7 787.6h51.2v2.0h-51.2zM461.7 791.6h51.2v1.5h-51.2zM461.7 806.1h51.2v1.0h-51.2zM461.7 812.6h51.2v2.0h-51.2zM461.7 822.1h51.2v1.0h-51.2zM461.7 823.1h51.2v1.0h-51.2zM461.7 824.1h51.2v1.0h-51.2zM461.7 829.8h51.2v1.0h-51.2zM461.7 830.8h51.2v1.0h-51.2zM461.7 831.8h51.2v1.5h-51.2z" fill="#F01E00"/><path d="M103.3 870.1h51.2v1.0h-51.2zM103.3 871.1h51.2v1.0h-51.2zM205.7 850.1h51.2v1.6h-51.2zM205.7 874.1h51.2v2.3h-51.2zM205.7 938.0h51.2v2.0h-51.2zM205.7 940.0h51.2v1.0h-51.2zM205.7 941.0h51.2v1.0h-51.2zM205.7 943.0h51.2v1.0h-51.2zM205.7 944.0h51.2v0.9h-51.2zM256.9 867.9h51.2v1.5h-51.2zM256.9 869.4h51.2v1.6h-51.2zM256.9 907.0h51.2v2.0h-51.2zM256.9 921.0h51.2v2.0h-51.2zM256.9 923.0h51.2v1.0h-51.2zM308.1 551.5h51.2v2.4h-51.2zM308.1 576.7h51.2v1.5h-51.2zM308.1 661.3h51.2v2.4h-51.2zM308.1 677.5h51.2v1.0h-51.2zM308.1 678.5h51.2v1.4h-51.2zM308.1 683.0h51.2v1.0h-51.2zM308.1 684.0h51.2v1.0h-51.2zM308.1 687.0h51.2v2.0h-51.2zM308.1 710.8h51.2v1.5h-51.2zM308.1 714.6h51.2v1.0h-51.2zM308.1 715.6h51.2v1.0h-51.2zM308.1 717.6h51.2v1.0h-51.2zM308.1 719.6h51.2v1.0h-51.2zM308.1 720.6h51.2v1.0h-51.2zM308.1 781.9h51.2v1.0h-51.2zM308.1 783.9h51.2v1.0h-51.2zM308.1 784.9h51.2v2.0h-51.2zM308.1 786.9h51.2v1.0h-51.2zM308.1 787.9h51.2v1.5h-51.2zM308.1 789.4h51.2v1.0h-51.2zM308.1 791.4h51.2v1.3h-51.2zM308.1 795.8h51.2v2.0h-51.2zM308.1 826.5h51.2v1.0h-51.2zM359.3 559.5h51.2v1.0h-51.2zM359.3 562.7h51.2v1.0h-51.2zM359.3 563.7h51.2v1.5h-51.2zM359.3 565.2h51.2v1.3h-51.2zM359.3 588.8h51.2v2.1h-51.2zM359.3 611.9h51.2v1.5h-51.2zM359.3 658.5h51.2v1.0h-51.2zM359.3 683.4h51.2v0.8h-51.2zM359.3 763.0h51.2v1.0h-51.2zM359.3 764.0h51.2v2.4h-51.2zM359.3 795.0h51.2v1.0h-51.2zM359.3 813.3h51.2v1.0h-51.2zM410.5 646.6h51.2v2.0h-51.2zM410.5 648.6h51.2v1.1h-51.2zM410.5 697.3h51.2v1.0h-51.2zM410.5 698.3h51.2v0.9h-51.2zM410.5 743.3h51.2v1.0h-51.2zM410.5 744.3h51.2v1.5h-51.2zM410.5 745.8h51.2v2.0h-51.2zM410.5 747.8h51.2v1.6h-51.2zM410.5 761.7h51.2v1.0h-51.2zM410.5 792.4h51.2v1.5h-51.2zM410.5 793.9h51.2v1.1h-51.2zM461.7 553.5h51.2v1.5h-51.2zM461.7 555.0h51.2v2.0h-51.2zM461.7 711.5h51.2v1.5h-51.2zM461.7 713.0h51.2v1.6h-51.2zM461.7 717.0h51.2v2.0h-51.2zM461.7 740.1h51.2v1.6h-51.2zM461.7 750.9h51.2v1.6h-51.2z" fill="#DEF014"/><path d="M103.3 872.1h51.2v1.0h-51.2zM103.3 875.8h51.2v2.4h-51.2zM103.3 883.2h51.2v1.0h-51.2zM154.5 656.0h51.2v1.5h-51.2zM154.5 840.9h51.2v1.9h-51.2zM154.5 890.2h51.2v1.3h-51.2zM154.5 901.1h51.2v1.0h-51.2zM154.5 902.1h51.2v1.8h-51.2zM154.5 905.5h51.2v1.0h-51.2zM154.5 906.5h51.2v1.0h-51.2zM154.5 907.5h51.2v1.5h-51.2zM205.7 612.0h51.2v1.2h-51.2zM205.7 866.4h51.2v1.0h-51.2zM205.7 900.8h51.2v1.0h-51.2zM256.9 860.9h51.2v2.0h-51.2zM256.9 862.9h51.2v1.9h-51.2zM256.9 890.3h51.2v2.0h-51.2zM308.1 559.8h51.2v1.2h-51.2zM308.1 562.7h51.2v1.5h-51.2zM308.1 565.9h51.2v2.0h-51.2zM308.1 570.3h51.2v2.0h-51.2zM308.1 772.6h51.2v1.5h-51.2zM308.1 774.1h51.2v1.6h-51.2zM308.1 807.1h51.2v1.1h-51.2zM308.1 815.1h51.2v1.0h-51.2zM308.1 816.1h51.2v1.0h-51.2zM308.1 817.1h51.2v1.5h-51.2zM308.1 818.6h51.2v1.9h-51.2zM308.1 831.4h51.2v1.5h-51.2zM308.1 928.5h51.2v1.0h-51.2zM308.1 935.7h51.2v1.0h-51.2zM359.3 569.1h51.2v1.8h-51.2zM359.3 571.7h51.2v2.7h-51.2zM359.3 588.0h51.2v0.8h-51.2zM359.3 590.9h51.2v0.9h-51.2zM359.3 591.8h51.2v1.0h-51.2zM359.3 592.8h51.2v1.6h-51.2zM359.3 598.2h51.2v1.2h-51.2zM359.3 601.7h51.2v1.4h-51.2zM359.3 604.6h51.2v1.0h-51.2zM359.3 605.6h51.2v1.0h-51.2zM359.3 606.6h51.2v0.9h-51.2zM359.3 752.5h51.2v1.5h-51.2zM359.3 754.0h51.2v1.5h-51.2zM359.3 802.2h51.2v1.0h-51.2zM359.3 803.2h51.2v1.1h-51.2zM359.3 815.9h51.2v1.0h-51.2zM359.3 822.1h51.2v2.0h-51.2zM359.3 831.6h51.2v1.0h-51.2zM410.5 752.5h51.2v1.5h-51.2zM410.5 760.1h51.2v1.6h-51.2zM410.5 764.8h51.2v1.5h-51.2zM410.5 766.3h51.2v1.0h-51.2zM410.5 767.3h51.2v1.4h-51.2zM410.5 911.3h51.2v1.2h-51.2zM410.5 925.5h51.2v1.0h-51.2zM461.7 735.0h51.2v1.0h-51.2zM461.7 736.0h51.2v1.0h-51.2zM461.7 737.0h51.2v1.6h-51.2zM461.7 741.7h51.2v1.5h-51.2zM461.7 746.4h51.2v1.0h-51.2zM461.7 747.4h51.2v1.0h-51.2zM461.7 748.4h51.2v1.0h-51.2zM461.7 774.9h51.2v2.3h-51.2zM461.7 927.0h51.2v1.2h-51.2z" fill="#A0D864"/><path d="M103.3 893.9h51.2v2.3h-51.2zM103.3 910.1h51.2v2.3h-51.2zM103.3 927.1h51.2v2.4h-51.2zM103.3 931.8h51.2v1.5h-51.2zM103.3 936.4h51.2v1.6h-51.2zM103.3 944.2h51.2v2.3h-51.2zM103.3 946.5h51.2v2.0h-51.2zM103.3 948.5h51.2v1.1h-51.2zM154.5 850.1h51.2v2.4h-51.2zM154.5 882.9h51.2v1.0h-51.2zM154.5 885.4h51.2v1.6h-51.2zM154.5 910.1h51.2v2.3h-51.2zM154.5 914.4h51.2v1.5h-51.2zM154.5 936.4h51.2v2.3h-51.2zM154.5 947.3h51.2v2.3h-51.2zM205.7 854.0h51.2v1.5h-51.2zM205.7 876.4h51.2v1.6h-51.2zM205.7 910.9h51.2v1.0h-51.2zM205.7 919.4h51.2v2.3h-51.2zM205.7 921.7h51.2v1.0h-51.2zM205.7 924.8h51.2v2.3h-51.2zM205.7 934.9h51.2v1.0h-51.2zM205.7 935.9h51.2v2.1h-51.2zM256.9 840.1h51.2v2.3h-51.2zM256.9 866.8h51.2v1.1h-51.2zM256.9 883.4h51.2v1.0h-51.2zM256.9 884.4h51.2v1.0h-51.2zM256.9 885.4h51.2v1.1h-51.2zM256.9 898.5h51.2v1.0h-51.2zM256.9 911.7h51.2v2.3h-51.2zM256.9 915.5h51.2v1.0h-51.2zM256.9 938.0h51.2v2.0h-51.2zM256.9 943.4h51.2v1.0h-51.2zM256.9 944.4h51.2v1.0h-51.2zM256.9 945.4h51.2v1.1h-51.2zM256.9 950.6h51.2v1.6h-51.2zM308.1 592.1h51.2v1.5h-51.2zM308.1 595.2h51.2v1.2h-51.2zM308.1 598.0h51.2v1.8h-51.2zM308.1 603.4h51.2v1.1h-51.2zM308.1 612.7h51.2v1.1h-51.2zM308.1 615.8h51.2v2.3h-51.2zM308.1 619.1h51.2v1.0h-51.2zM308.1 621.9h51.2v1.5h-51.2zM308.1 625.7h51.2v1.6h-51.2zM308.1 629.6h51.2v1.6h-51.2zM308.1 631.2h51.2v1.0h-51.2zM308.1 639.7h51.2v1.5h-51.2zM308.1 648.6h51.2v1.9h-51.2zM308.1 657.5h51.2v1.5h-51.2zM308.1 668.8h51.2v1.8h-51.2zM308.1 689.9h51.2v1.5h-51.2zM308.1 693.4h51.2v1.9h-51.2zM308.1 695.3h51.2v2.0h-51.2zM308.1 706.1h51.2v1.6h-51.2zM308.1 708.7h51.2v1.0h-51.2zM308.1 726.2h51.2v1.9h-51.2zM308.1 744.0h51.2v1.6h-51.2zM359.3 556.5h51.2v0.9h-51.2zM359.3 613.4h51.2v1.6h-51.2zM359.3 618.0h51.2v1.5h-51.2zM359.3 621.1h51.2v1.0h-51.2zM359.3 624.2h51.2v2.3h-51.2zM359.3 630.8h51.2v1.1h-51.2zM359.3 634.2h51.2v2.4h-51.2zM359.3 641.2h51.2v2.3h-51.2zM359.3 645.9h51.2v1.5h-51.2zM359.3 661.3h51.2v1.6h-51.2zM359.3 664.9h51.2v2.6h-51.2zM359.3 667.5h51.2v2.3h-51.2zM359.3 671.4h51.2v2.3h-51.2zM359.3 679.1h51.2v2.3h-51.2zM359.3 695.3h51.2v1.0h-51.2zM359.3 696.3h51.2v1.0h-51.2zM359.3 699.4h51.2v1.0h-51.2zM359.3 700.4h51.2v1.1h-51.2zM359.3 705.3h51.2v2.4h-51.2zM359.3 717.9h51.2v1.0h-51.2zM359.3 737.1h51.2v1.0h-51.2zM359.3 742.5h51.2v1.5h-51.2zM359.3 751.4h51.2v1.1h-51.2zM359.3 757.1h51.2v1.5h-51.2zM359.3 766.4h51.2v1.5h-51.2zM359.3 784.9h51.2v2.0h-51.2zM359.3 786.9h51.2v2.0h-51.2zM359.3 788.9h51.2v1.5h-51.2zM410.5 585.6h51.2v2.3h-51.2zM410.5 592.0h51.2v1.3h-51.2zM410.5 612.7h51.2v1.5h-51.2zM410.5 631.9h51.2v1.5h-51.2zM410.5 635.0h51.2v1.0h-51.2zM410.5 636.0h51.2v1.0h-51.2zM410.5 637.0h51.2v1.0h-51.2zM410.5 638.0h51.2v1.7h-51.2zM410.5 642.0h51.2v2.3h-51.2zM410.5 649.7h51.2v2.0h-51.2zM410.5 655.8h51.2v0.9h-51.2zM410.5 666.7h51.2v2.4h-51.2zM410.5 683.8h51.2v2.2h-51.2zM410.5 686.0h51.2v2.3h-51.2zM410.5 690.6h51.2v2.4h-51.2zM410.5 699.2h51.2v2.0h-51.2zM410.5 701.2h51.2v1.8h-51.2zM410.5 714.6h51.2v2.4h-51.2zM410.5 722.4h51.2v2.3h-51.2zM410.5 732.4h51.2v2.3h-51.2zM410.5 768.7h51.2v2.3h-51.2zM410.5 771.0h51.2v1.5h-51.2zM410.5 774.0h51.2v0.9h-51.2zM410.5 788.8h51.2v1.6h-51.2zM410.5 815.1h51.2v1.5h-51.2zM410.5 817.6h51.2v1.4h-51.2zM410.5 824.4h51.2v2.3h-51.2zM461.7 562.4h51.2v1.8h-51.2zM461.7 571.7h51.2v1.5h-51.2zM461.7 575.5h51.2v2.4h-51.2zM461.7 587.1h51.2v2.4h-51.2zM461.7 589.5h51.2v1.0h-51.2zM461.7 591.5h51.2v1.8h-51.2zM461.7 596.4h51.2v2.3h-51.2zM461.7 622.3h51.2v1.5h-51.2zM461.7 643.2h51.2v2.0h-51.2zM461.7 648.9h51.2v1.6h-51.2zM461.7 655.1h51.2v1.0h-51.2zM461.7 656.1h51.2v1.5h-51.2zM461.7 667.5h51.2v1.0h-51.2zM461.7 676.8h51.2v2.0h-51.2zM461.7 678.8h51.2v1.1h-51.2zM461.7 683.0h51.2v1.0h-51.2zM461.7 684.0h51.2v2.0h-51.2zM461.7 686.0h51.2v2.3h-51.2zM461.7 688.3h51.2v1.0h-51.2zM461.7 690.3h51.2v1.0h-51.2zM461.7 697.6h51.2v1.0h-51.2zM461.7 698.6h51.2v2.1h-51.2zM461.7 703.0h51.2v2.3h-51.2zM461.7 708.4h51.2v1.0h-51.2zM461.7 709.4h51.2v2.1h-51.2zM461.7 781.1h51.2v1.5h-51.2z" fill="#F9A000"/><path d="M103.3 901.6h51.2v1.5h-51.2zM103.3 903.1h51.2v1.0h-51.2zM103.3 904.1h51.2v1.5h-51.2zM103.3 905.6h51.2v1.4h-51.2zM154.5 876.6h51.2v1.0h-51.2zM154.5 878.6h51.2v1.0h-51.2zM205.7 843.4h51.2v1.5h-51.2zM205.7 891.1h51.2v1.5h-51.2zM205.7 892.6h51.2v1.3h-51.2zM308.1 721.6h51.2v1.5h-51.2zM359.3 767.9h51.2v1.0h-51.2zM359.3 768.9h51.2v2.0h-51.2zM359.3 772.9h51.2v1.2h-51.2zM410.5 557.0h51.2v2.3h-51.2zM410.5 562.3h51.2v1.0h-51.2zM410.5 573.2h51.2v2.3h-51.2zM410.5 598.7h51.2v1.0h-51.2zM461.7 796.2h51.2v2.3h-51.2zM461.7 799.5h51.2v2.5h-51.2z" fill="#A80000"/><path d="M103.3 907.0h51.2v1.5h-51.2zM103.3 920.4h51.2v2.0h-51.2zM103.3 922.4h51.2v2.0h-51.2zM103.3 924.4h51.2v1.0h-51.2zM103.3 925.4h51.2v1.7h-51.2zM103.3 940.0h51.2v1.0h-51.2zM103.3 941.0h51.2v1.0h-51.2zM103.3 942.0h51.2v1.0h-51.2zM103.3 943.0h51.2v1.2h-51.2zM154.5 866.9h51.2v1.0h-51.2zM154.5 867.9h51.2v1.0h-51.2zM154.5 868.9h51.2v2.1h-51.2zM154.5 887.0h51.2v1.0h-51.2zM205.7 887.3h51.2v2.0h-51.2zM205.7 890.3h51.2v0.8h-51.2zM205.7 896.9h51.2v0.8h-51.2zM205.7 931.0h51.2v1.6h-51.2zM308.1 587.1h51.2v1.0h-51.2zM308.1 590.6h51.2v1.5h-51.2zM308.1 738.6h51.2v1.0h-51.2zM308.1 739.6h51.2v1.5h-51.2zM308.1 741.1h51.2v1.0h-51.2zM359.3 707.7h51.2v1.0h-51.2zM359.3 708.7h51.2v1.0h-51.2zM359.3 709.7h51.2v2.0h-51.2zM359.3 711.7h51.2v2.0h-51.2zM359.3 713.7h51.2v2.0h-51.2zM359.3 715.7h51.2v1.2h-51.2zM359.3 746.0h51.2v1.0h-51.2zM410.5 551.5h51.2v1.0h-51.2zM410.5 552.5h51.2v1.0h-51.2zM410.5 564.3h51.2v1.2h-51.2zM410.5 565.5h51.2v2.3h-51.2zM410.5 578.6h51.2v2.0h-51.2zM410.5 580.6h51.2v2.7h-51.2zM410.5 588.9h51.2v1.6h-51.2zM410.5 605.2h51.2v1.5h-51.2zM410.5 606.7h51.2v1.0h-51.2zM410.5 607.7h51.2v1.0h-51.2zM410.5 609.7h51.2v1.0h-51.2zM410.5 610.7h51.2v2.0h-51.2zM410.5 656.7h51.2v1.0h-51.2zM410.5 659.7h51.2v2.4h-51.2zM410.5 680.1h51.2v1.0h-51.2zM410.5 681.1h51.2v1.0h-51.2zM410.5 682.1h51.2v1.7h-51.2zM410.5 717.0h51.2v1.0h-51.2zM410.5 724.7h51.2v1.0h-51.2zM410.5 725.7h51.2v1.0h-51.2zM410.5 728.7h51.2v2.0h-51.2zM410.5 730.7h51.2v1.7h-51.2zM410.5 832.7h51.2v1.0h-51.2zM461.7 577.9h51.2v2.0h-51.2zM461.7 640.3h51.2v0.9h-51.2zM461.7 670.6h51.2v1.0h-51.2zM461.7 780.2h51.2v0.9h-51.2zM461.7 782.6h51.2v1.5h-51.2zM461.7 789.6h51.2v1.0h-51.2zM461.7 790.6h51.2v1.0h-51.2zM461.7 794.2h51.2v2.0h-51.2zM461.7 805.1h51.2v1.0h-51.2zM461.7 807.1h51.2v1.5h-51.2zM461.7 808.6h51.2v1.0h-51.2zM461.7 809.6h51.2v1.0h-51.2zM461.7 814.6h51.2v1.3h-51.2zM461.7 825.1h51.2v1.6h-51.2z" fill="#E00800"/><path d="M103.3 939.0h51.2v1.0h-51.2zM154.5 871.0h51.2v1.0h-51.2zM154.5 872.0h51.2v1.0h-51.2zM154.5 873.0h51.2v1.0h-51.2zM154.5 874.0h51.2v2.6h-51.2zM154.5 877.6h51.2v1.0h-51.2zM154.5 879.6h51.2v1.8h-51.2zM205.7 842.4h51.2v1.0h-51.2zM205.7 844.9h51.2v1.3h-51.2zM205.7 893.9h51.2v2.0h-51.2zM205.7 895.9h51.2v1.0h-51.2zM256.9 835.5h51.2v1.0h-51.2zM256.9 836.5h51.2v2.0h-51.2zM256.9 838.5h51.2v1.6h-51.2zM308.1 723.1h51.2v1.6h-51.2zM308.1 764.8h51.2v1.0h-51.2zM308.1 765.8h51.2v2.1h-51.2zM359.3 770.9h51.2v1.0h-51.2zM359.3 771.9h51.2v1.0h-51.2zM410.5 553.5h51.2v1.0h-51.2zM410.5 554.5h51.2v1.5h-51.2zM410.5 556.0h51.2v1.0h-51.2zM410.5 559.3h51.2v1.0h-51.2zM410.5 560.3h51.2v2.0h-51.2zM410.5 563.3h51.2v1.0h-51.2zM410.5 567.8h51.2v1.5h-51.2zM410.5 569.3h51.2v1.5h-51.2zM410.5 570.8h51.2v1.0h-51.2zM410.5 571.8h51.2v1.4h-51.2zM410.5 599.7h51.2v2.1h-51.2zM410.5 604.2h51.2v1.0h-51.2zM410.5 608.7h51.2v1.0h-51.2zM410.5 657.7h51.2v1.0h-51.2zM410.5 658.7h51.2v1.0h-51.2zM410.5 679.1h51.2v1.0h-51.2zM410.5 727.7h51.2v1.0h-51.2zM461.7 784.1h51.2v1.5h-51.2zM461.7 793.1h51.2v1.1h-51.2zM461.7 798.5h51.2v1.0h-51.2zM461.7 802.0h51.2v1.0h-51.2zM461.7 803.0h51.2v1.0h-51.2zM461.7 804.0h51.2v1.1h-51.2zM461.7 810.6h51.2v2.0h-51.2zM461.7 815.9h51.2v1.0h-51.2zM461.7 816.9h51.2v2.0h-51.2zM461.7 818.9h51.2v1.5h-51.2zM461.7 820.4h51.2v1.7h-51.2z" fill="#C80000"/><path d="M154.5 857.3h51.2v1.5h-51.2zM154.5 860.8h51.2v1.0h-51.2zM154.5 862.8h51.2v0.9h-51.2zM154.5 888.0h51.2v2.2h-51.2zM154.5 912.4h51.2v2.0h-51.2zM205.7 857.1h51.2v2.3h-51.2zM205.7 904.7h51.2v1.0h-51.2zM205.7 922.7h51.2v1.0h-51.2zM205.7 949.6h51.2v2.6h-51.2zM256.9 853.9h51.2v0.9h-51.2zM256.9 854.8h51.2v2.0h-51.2zM256.9 856.8h51.2v1.0h-51.2zM256.9 858.8h51.2v2.1h-51.2zM256.9 946.5h51.2v1.5h-51.2zM256.9 948.0h51.2v1.6h-51.2zM308.1 620.1h51.2v1.8h-51.2zM308.1 635.0h51.2v1.5h-51.2zM308.1 703.8h51.2v2.3h-51.2zM308.1 735.5h51.2v1.0h-51.2zM308.1 736.5h51.2v2.1h-51.2zM308.1 748.6h51.2v1.5h-51.2zM308.1 754.0h51.2v2.0h-51.2zM308.1 760.0h51.2v1.5h-51.2zM359.3 622.1h51.2v1.0h-51.2zM359.3 651.3h51.2v2.0h-51.2zM359.3 686.0h51.2v2.0h-51.2zM359.3 688.0h51.2v1.1h-51.2zM359.3 694.4h51.2v0.9h-51.2zM359.3 720.0h51.2v2.4h-51.2zM359.3 748.5h51.2v0.9h-51.2zM410.5 576.5h51.2v2.1h-51.2zM410.5 594.3h51.2v1.0h-51.2zM410.5 595.3h51.2v1.1h-51.2zM410.5 623.3h51.2v1.0h-51.2zM410.5 624.3h51.2v1.0h-51.2zM410.5 625.3h51.2v1.0h-51.2zM410.5 626.3h51.2v1.0h-51.2zM410.5 672.4h51.2v1.0h-51.2zM410.5 819.0h51.2v1.5h-51.2zM410.5 828.2h51.2v1.5h-51.2zM461.7 565.5h51.2v1.0h-51.2zM461.7 566.5h51.2v1.5h-51.2zM461.7 581.0h51.2v2.3h-51.2zM461.7 583.3h51.2v1.5h-51.2zM461.7 593.3h51.2v1.5h-51.2zM461.7 608.5h51.2v1.5h-51.2zM461.7 610.0h51.2v1.1h-51.2zM461.7 615.0h51.2v2.0h-51.2zM461.7 629.6h51.2v1.5h-51.2zM461.7 632.1h51.2v1.0h-51.2zM461.7 633.1h51.2v1.1h-51.2zM461.7 634.2h51.2v1.0h-51.2zM461.7 635.2h51.2v2.1h-51.2zM461.7 639.3h51.2v1.0h-51.2zM461.7 680.9h51.2v2.1h-51.2zM461.7 691.3h51.2v0.9h-51.2zM461.7 705.3h51.2v2.0h-51.2zM461.7 756.3h51.2v1.0h-51.2zM461.7 761.4h51.2v1.1h-51.2zM461.7 826.7h51.2v1.0h-51.2zM461.7 833.3h51.2v2.2h-51.2z" fill="#F53A08"/>
<path d="M97 552.5L103.3 551.5V835.5H97.2ZM94.5 836L103.3 835.5V952.2H95Z" fill="#000"/>
<path d="M103.3 551.7H96.5V552.1H103.3M103.3 552.5H95.7V552.9H103.3M96.5 551.9H95.3V552.7H95.7M103.3 553.3H95.6V553.7H103.3M95.6 553.5H94.7V554.1H103.3M94.7 553.8H93.3V554.5H103.3M95.3 552.3H92.6V554.1H93.3M92.6 553.2H89.7V554.9H103.3M103.3 555.7H98.5V556.1H103.3M98.5 555.9H98.2V556.5H103.3M103.3 557.3H100.2V557.7H103.3M100.2 557.5H99.5V558.1H103.3M103.3 556.9H98.7V557.8H99.5M98.2 556.2H97.2V557.3H98.7M103.3 559.3H99.3V559.7H103.3M103.3 558.9H98.8V559.5H99.3M103.3 558.5H97.7V559.2H98.8M97.2 556.8H96.9V558.9H97.7M96.9 557.8H94.7V560.1H103.3M103.3 560.9H95.4V561.3H103.3M103.3 560.5H94.7V561.1H95.4M94.7 559.0H93.8V560.8H94.7M103.3 555.3H90.1V559.9H93.8M89.7 554.1H85.1V557.6H90.1M103.3 561.7H91.4V562.1H103.3M103.3 562.5H93.7V562.9H103.3M91.4 561.9H90.0V562.7H93.7M103.3 563.7H95.5V564.1H103.3M95.5 563.9H94.2V564.5H103.3M103.3 563.3H93.8V564.2H94.2M103.3 564.9H93.3V565.3H103.3M93.8 563.8H91.5V565.1H93.3M103.3 565.7H93.2V566.1H103.3M103.3 566.9H98.6V567.3H103.3M103.3 566.5H98.0V567.1H98.6M98.0 566.8H96.3V567.7H103.3M103.3 568.1H96.6V568.5H103.3M96.3 567.2H94.9V568.3H96.6M93.2 565.9H92.7V567.8H94.9M103.3 568.9H94.3V569.3H103.3M92.7 566.8H92.0V569.1H94.3M91.5 564.4H90.6V568.0H92.0M103.3 570.5H97.2V570.9H103.3M103.3 570.1H95.3V570.7H97.2M103.3 571.3H94.9V571.7H103.3M94.9 571.5H94.1V572.1H103.3M95.3 570.4H92.4V571.8H94.1M103.3 572.9H94.7V573.3H103.3M103.3 572.5H94.2V573.1H94.7M92.4 571.1H90.8V572.8H94.2M103.3 569.7H89.9V572.0H90.8M90.6 566.2H86.7V570.8H89.9M90.0 562.3H84.3V568.5H86.7M103.3 573.7H94.7V574.1H103.3M94.7 573.9H93.2V574.5H103.3M103.3 575.7H98.7V576.1H103.3M103.3 575.3H97.4V575.9H98.7M103.3 574.9H96.8V575.6H97.4M96.8 575.2H94.6V576.5H103.3M93.2 574.2H92.5V575.9H94.6M103.3 576.9H95.8V577.3H103.3M103.3 577.7H95.8V578.1H103.3M95.8 577.1H94.3V577.9H95.8M94.3 577.5H93.3V578.5H103.3M92.5 575.0H90.8V578.0H93.3M103.3 579.3H94.4V579.7H103.3M103.3 578.9H93.6V579.5H94.4M90.8 576.5H86.2V579.2H93.6M84.3 565.4H81.6V577.9H86.2M85.1 555.8H76.3V571.6H81.6M103.3 580.5H97.0V580.9H103.3M103.3 580.1H94.6V580.7H97.0M103.3 581.3H96.1V581.7H103.3M96.1 581.5H94.7V582.1H103.3M94.6 580.4H92.8V581.8H94.7M103.3 582.9H97.0V583.3H103.3M103.3 584.1H97.4V584.5H103.3M103.3 583.7H96.0V584.3H97.4M97.0 583.1H94.8V584.0H96.0M103.3 582.5H91.6V583.5H94.8M92.8 581.1H88.3V583.0H91.6M103.3 585.3H95.2V585.7H103.3M103.3 584.9H93.8V585.5H95.2M103.3 586.5H97.3V586.9H103.3M103.3 586.1H95.0V586.7H97.3M95.0 586.4H94.4V587.3H103.3M94.4 586.9H93.2V587.7H103.3M93.8 585.2H91.8V587.3H93.2M103.3 588.1H94.1V588.5H103.3M103.3 589.3H97.1V589.7H103.3M103.3 590.1H96.9V590.5H103.3M96.9 590.3H95.7V590.9H103.3M97.1 589.5H95.3V590.6H95.7M103.3 588.9H93.5V590.0H95.3M93.5 589.5H91.4V591.3H103.3M94.1 588.3H90.6V590.4H91.4M91.8 586.2H89.1V589.3H90.6M103.3 592.1H96.2V592.5H103.3M96.2 592.3H94.4V592.9H103.3M103.3 591.7H94.0V592.6H94.4M94.0 592.1H91.7V593.3H103.3M103.3 594.5H98.7V594.9H103.3M103.3 594.1H96.9V594.7H98.7M103.3 595.3H97.1V595.7H103.3M97.1 595.5H96.0V596.1H103.3M96.9 594.4H95.0V595.8H96.0M103.3 596.5H94.5V596.9H103.3M95.0 595.1H93.8V596.7H94.5M103.3 593.7H92.7V595.9H93.8M91.7 592.7H90.8V594.8H92.7M89.1 587.8H86.4V593.8H90.8M88.3 582.1H85.3V590.8H86.4M103.3 597.3H95.4V597.7H103.3M95.4 597.5H94.5V598.1H103.3M103.3 598.9H98.1V599.3H103.3M103.3 598.5H96.7V599.1H98.1M103.3 600.1H97.7V600.5H103.3M103.3 599.7H97.1V600.3H97.7M96.7 598.8H95.7V600.0H97.1M95.7 599.4H93.9V600.9H103.3M94.5 597.8H92.7V600.1H93.9M103.3 601.7H96.0V602.1H103.3M103.3 601.3H93.5V601.9H96.0M92.7 599.0H91.0V601.6H93.5M103.3 603.3H96.8V603.7H103.3M103.3 602.9H96.2V603.5H96.8M103.3 602.5H95.1V603.2H96.2M95.1 602.9H94.6V604.1H103.3M103.3 604.5H93.5V604.9H103.3M103.3 605.7H98.3V606.1H103.3M103.3 606.5H98.8V606.9H103.3M98.8 606.7H98.1V607.3H103.3M98.3 605.9H97.1V607.0H98.1M103.3 605.3H96.7V606.5H97.1M96.7 605.9H94.4V607.7H103.3M93.5 604.7H91.9V606.8H94.4M94.6 603.5H91.5V605.7H91.9M103.3 608.1H96.7V608.5H103.3M96.7 608.3H94.2V608.9H103.3M94.2 608.6H92.2V609.3H103.3M91.5 604.6H90.4V608.9H92.2M91.0 600.3H87.8V606.8H90.4M103.3 610.1H98.3V610.5H103.3M103.3 609.7H97.2V610.3H98.3M103.3 610.9H96.9V611.3H103.3M97.2 610.0H95.1V611.1H96.9M103.3 612.1H95.9V612.5H103.3M103.3 611.7H94.7V612.3H95.9M103.3 612.9H96.3V613.3H103.3M96.3 613.1H95.7V613.7H103.3M94.7 612.0H93.1V613.4H95.7M95.1 610.5H92.4V612.7H93.1M103.3 614.1H96.4V614.5H103.3M96.4 614.3H94.4V614.9H103.3M92.4 611.6H88.5V614.6H94.4M87.8 603.5H86.4V613.1H88.5M85.3 586.4H81.8V608.3H86.4M103.3 615.7H95.9V616.1H103.3M103.3 615.3H93.4V615.9H95.9M93.4 615.6H90.6V616.5H103.3M103.3 616.9H96.7V617.3H103.3M103.3 617.7H96.5V618.1H103.3M96.7 617.1H94.2V617.9H96.5M94.2 617.5H93.6V618.5H103.3M103.3 619.3H95.7V619.7H103.3M103.3 618.9H93.8V619.5H95.7M103.3 620.1H94.9V620.5H103.3M93.8 619.2H92.1V620.3H94.9M93.6 618.0H91.0V619.8H92.1M90.6 616.0H86.7V618.9H91.0M103.3 621.3H98.5V621.7H103.3M103.3 620.9H97.0V621.5H98.5M97.0 621.2H96.2V622.1H103.3M103.3 622.5H95.4V622.9H103.3M96.2 621.7H94.6V622.7H95.4M103.3 623.7H100.0V624.1H103.3M100.0 623.9H98.8V624.5H103.3M103.3 623.3H98.1V624.2H98.8M98.1 623.8H97.3V624.9H103.3M103.3 626.1H100.0V626.5H103.3M103.3 625.7H99.0V626.3H100.0M103.3 627.3H100.1V627.7H103.3M103.3 628.1H99.6V628.5H103.3M100.1 627.5H99.1V628.3H99.6M103.3 626.9H98.7V627.9H99.1M98.7 627.4H98.2V628.9H103.3M99.0 626.0H97.5V628.1H98.2M103.3 625.3H97.1V627.1H97.5M97.3 624.3H96.5V626.2H97.1M94.6 622.2H93.9V625.3H96.5M103.3 629.3H96.3V629.7H103.3M103.3 630.1H99.4V630.5H103.3M99.4 630.3H98.3V630.9H103.3M103.3 632.5H101.0V632.9H103.3M103.3 632.1H100.2V632.7H101.0M103.3 631.7H99.2V632.4H100.2M103.3 631.3H98.4V632.1H99.2M98.3 630.6H96.7V631.7H98.4M96.7 631.1H96.0V633.3H103.3M96.3 629.5H94.4V632.2H96.0M93.9 623.7H92.8V630.9H94.4M103.3 633.7H98.5V634.1H103.3M103.3 634.9H100.1V635.3H103.3M103.3 634.5H99.1V635.1H100.1M98.5 633.9H97.7V634.8H99.1M97.7 634.4H96.2V635.7H103.3M103.3 636.9H99.8V637.3H103.3M103.3 636.5H98.6V637.1H99.8M103.3 636.1H98.2V636.8H98.6M103.3 637.7H98.7V638.1H103.3M98.7 637.9H98.0V638.5H103.3M103.3 638.9H101.1V639.3H103.3M103.3 639.7H100.6V640.1H103.3M101.1 639.1H100.3V639.9H100.6M103.3 640.5H100.3V640.9H103.3M100.3 639.5H100.0V640.7H100.3M103.3 641.3H100.0V641.7H103.3M100.0 641.5H99.8V642.1H103.3M100.0 640.1H98.8V641.8H99.8M98.8 641.0H98.1V642.5H103.3M98.0 638.2H97.0V641.7H98.1M98.2 636.5H96.3V640.0H97.0M96.2 635.0H93.8V638.2H96.3M92.8 627.3H91.2V636.6H93.8M103.3 643.3H95.9V643.7H103.3M103.3 642.9H95.2V643.5H95.9M103.3 644.5H98.0V644.9H103.3M103.3 645.3H99.0V645.7H103.3M98.0 644.7H97.5V645.5H99.0M103.3 644.1H96.8V645.1H97.5M95.2 643.2H94.2V644.6H96.8M103.3 646.1H95.1V646.5H103.3M103.3 647.3H97.4V647.7H103.3M97.4 647.5H95.8V648.1H103.3M103.3 646.9H94.3V647.8H95.8M95.1 646.3H93.0V647.3H94.3M94.2 643.9H91.2V646.8H93.0M91.2 632.0H89.8V645.4H91.2M103.3 648.5H94.2V648.9H103.3M103.3 649.3H96.9V649.7H103.3M103.3 650.9H98.6V651.3H103.3M103.3 650.5H98.4V651.1H98.6M103.3 650.1H97.5V650.8H98.4M96.9 649.5H96.3V650.5H97.5M96.3 650.0H95.2V651.7H103.3M103.3 652.1H97.4V652.5H103.3M103.3 653.3H98.6V653.7H103.3M103.3 652.9H98.2V653.5H98.6M98.2 653.2H96.8V654.1H103.3M97.4 652.3H96.5V653.7H96.8M95.2 650.8H94.1V653.0H96.5M103.3 654.9H98.0V655.3H103.3M103.3 654.5H97.1V655.1H98.0M103.3 655.7H96.2V656.1H103.3M97.1 654.8H95.8V655.9H96.2M103.3 656.5H95.6V656.9H103.3M95.8 655.4H93.9V656.7H95.6M94.1 651.9H92.4V656.0H93.9M103.3 657.3H93.8V657.7H103.3M103.3 658.1H94.2V658.5H103.3M93.8 657.5H93.3V658.3H94.2M103.3 658.9H94.6V659.3H103.3M93.3 657.9H91.6V659.1H94.6M92.4 654.0H91.0V658.5H91.6M94.2 648.7H90.2V656.2H91.0M89.8 638.7H86.0V652.5H90.2M86.7 617.5H82.5V645.6H86.0M103.3 660.1H95.7V660.5H103.3M103.3 659.7H93.5V660.3H95.7M93.5 660.0H92.1V660.9H103.3M103.3 661.3H96.7V661.7H103.3M103.3 662.1H95.6V662.5H103.3M96.7 661.5H95.2V662.3H95.6M103.3 662.9H97.8V663.3H103.3M97.8 663.1H95.8V663.7H103.3M103.3 664.1H100.0V664.5H103.3M103.3 665.3H100.9V665.7H103.3M100.9 665.5H100.5V666.1H103.3M103.3 664.9H100.2V665.8H100.5M100.0 664.3H99.0V665.3H100.2M103.3 667.3H100.8V667.7H103.3M103.3 666.9H100.6V667.5H100.8M103.3 666.5H99.7V667.2H100.6M103.3 668.1H99.5V668.5H103.3M99.7 666.9H98.8V668.3H99.5M99.0 664.8H98.1V667.6H98.8M103.3 668.9H100.3V669.3H103.3M103.3 669.7H100.0V670.1H103.3M100.3 669.1H99.4V669.9H100.0M103.3 670.5H100.3V670.9H103.3M103.3 671.7H100.5V672.1H103.3M103.3 671.3H100.3V671.9H100.5M100.3 670.7H99.6V671.6H100.3M99.4 669.5H98.9V671.2H99.6M98.9 670.3H98.5V672.5H103.3M103.3 672.9H99.7V673.3H103.3M99.7 673.1H98.5V673.7H103.3M103.3 674.5H100.1V674.9H103.3M100.1 674.7H99.7V675.3H103.3M103.3 674.1H99.0V675.0H99.7M103.3 676.1H99.8V676.5H103.3M103.3 675.7H99.5V676.3H99.8M99.0 674.5H98.8V676.0H99.5M98.8 675.3H98.6V676.9H103.3M98.5 673.4H98.2V676.1H98.6M98.5 671.4H97.7V674.7H98.2M98.1 666.2H96.7V673.1H97.7M103.3 677.3H99.5V677.7H103.3M99.5 677.5H98.4V678.1H103.3M98.4 677.8H97.8V678.5H103.3M96.7 669.6H96.3V678.1H97.8M95.8 663.4H94.6V673.9H96.3M95.2 661.9H94.1V668.6H94.6M103.3 679.3H99.6V679.7H103.3M99.6 679.5H98.8V680.1H103.3M103.3 680.5H98.5V680.9H103.3M98.8 679.8H97.5V680.7H98.5M103.3 678.9H97.1V680.2H97.5M103.3 681.7H96.9V682.1H103.3M103.3 681.3H96.0V681.9H96.9M97.1 679.6H95.1V681.6H96.0M103.3 682.9H96.9V683.3H103.3M103.3 682.5H95.9V683.1H96.9M103.3 684.1H97.6V684.5H103.3M103.3 683.7H97.2V684.3H97.6M97.2 684.0H96.3V684.9H103.3M96.3 684.5H94.6V685.3H103.3M95.9 682.8H93.4V684.9H94.6M95.1 680.6H93.0V683.8H93.4M103.3 685.7H95.2V686.1H103.3M103.3 686.9H98.9V687.3H103.3M103.3 687.7H98.3V688.1H103.3M98.9 687.1H97.6V687.9H98.3M103.3 686.5H96.5V687.5H97.6M96.5 687.0H95.9V688.5H103.3M95.2 685.9H94.6V687.8H95.9M93.0 682.2H92.5V686.8H94.6M94.1 665.3H91.8V684.5H92.5M92.1 660.5H88.2V674.9H91.8M103.3 688.9H95.2V689.3H103.3M95.2 689.1H94.2V689.7H103.3M103.3 690.5H96.3V690.9H103.3M96.3 690.7H96.0V691.3H103.3M103.3 690.1H95.1V691.0H96.0M94.2 689.4H92.3V690.5H95.1M92.3 690.0H89.5V691.7H103.3M103.3 692.1H95.4V692.5H103.3M95.4 692.3H93.6V692.9H103.3M93.6 692.6H93.1V693.3H103.3M103.3 693.7H95.1V694.1H103.3M103.3 694.5H98.8V694.9H103.3M103.3 695.7H98.9V696.1H103.3M103.3 695.3H98.0V695.9H98.9M98.8 694.7H97.7V695.6H98.0M103.3 697.3H99.3V697.7H103.3M103.3 696.9H98.3V697.5H99.3M103.3 696.5H97.7V697.2H98.3M97.7 695.2H96.4V696.9H97.7M103.3 698.1H97.3V698.5H103.3M103.3 698.9H97.5V699.3H103.3M97.3 698.3H96.3V699.1H97.5M96.4 696.0H94.0V698.7H96.3M95.1 693.9H93.3V697.3H94.0M93.1 692.9H92.4V695.6H93.3M92.4 694.3H89.8V699.7H103.3M89.5 690.8H88.0V697.0H89.8M88.2 667.7H82.5V693.9H88.0M82.5 631.5H79.4V680.8H82.5M81.8 597.4H73.9V656.2H79.4M76.3 563.7H70.7V626.8H73.9M103.3 700.5H95.4V700.9H103.3M103.3 700.1H94.1V700.7H95.4M103.3 701.7H94.1V702.1H103.3M103.3 701.3H93.4V701.9H94.1M94.1 700.4H92.4V701.6H93.4M103.3 702.5H93.0V702.9H103.3M103.3 704.5H99.7V704.9H103.3M103.3 704.1H99.2V704.7H99.7M103.3 703.7H98.6V704.4H99.2M103.3 705.3H99.0V705.7H103.3M98.6 704.1H98.2V705.5H99.0M103.3 703.3H97.1V704.8H98.2M103.3 706.1H96.8V706.5H103.3M97.1 704.0H95.0V706.3H96.8M103.3 706.9H95.0V707.3H103.3M95.0 705.2H93.4V707.1H95.0M93.0 702.7H91.7V706.1H93.4M92.4 701.0H89.0V704.4H91.7M103.3 708.5H95.5V708.9H103.3M95.5 708.7H94.1V709.3H103.3M103.3 708.1H93.5V709.0H94.1M103.3 707.7H92.5V708.5H93.5M103.3 709.7H92.1V710.1H103.3M103.3 710.5H91.5V710.9H103.3M92.1 709.9H90.5V710.7H91.5M92.5 708.1H89.2V710.3H90.5M103.3 711.3H95.0V711.7H103.3M95.0 711.5H93.3V712.1H103.3M103.3 712.9H97.6V713.3H103.3M97.6 713.1H97.2V713.7H103.3M103.3 712.5H95.3V713.4H97.2M103.3 714.5H95.8V714.9H103.3M103.3 714.1H95.4V714.7H95.8M95.3 713.0H93.0V714.4H95.4M93.3 711.8H90.2V713.7H93.0M89.2 709.2H86.9V712.7H90.2M89.0 702.7H86.1V711.0H86.9M103.3 715.7H98.3V716.1H103.3M98.3 715.9H97.1V716.5H103.3M97.1 716.2H95.5V716.9H103.3M103.3 715.3H92.5V716.5H95.5M92.5 715.9H90.1V717.3H103.3M86.1 706.8H81.0V716.6H90.1M103.3 718.1H97.8V718.5H103.3M103.3 717.7H95.8V718.3H97.8M103.3 719.3H98.8V719.7H103.3M98.8 719.5H97.6V720.1H103.3M103.3 718.9H96.1V719.8H97.6M103.3 720.9H98.0V721.3H103.3M98.0 721.1H97.2V721.7H103.3M103.3 722.1H98.3V722.5H103.3M103.3 722.9H99.7V723.3H103.3M99.7 723.1H99.1V723.7H103.3M98.3 722.3H97.7V723.4H99.1M97.2 721.4H96.8V722.8H97.7M103.3 720.5H96.4V722.1H96.8M96.1 719.3H94.1V721.3H96.4M95.8 718.0H93.2V720.3H94.1M103.3 724.1H98.5V724.5H103.3M103.3 725.3H101.0V725.7H103.3M103.3 724.9H100.1V725.5H101.0M100.1 725.2H99.2V726.1H103.3M103.3 727.7H101.0V728.1H103.3M103.3 727.3H100.5V727.9H101.0M103.3 726.9H99.9V727.6H100.5M103.3 726.5H98.7V727.2H99.9M99.2 725.7H98.2V726.9H98.7M98.5 724.3H97.0V726.3H98.2M103.3 728.9H96.5V729.3H103.3M103.3 728.5H95.3V729.1H96.5M97.0 725.3H94.6V728.8H95.3M103.3 730.1H97.2V730.5H103.3M97.2 730.3H96.8V730.9H103.3M103.3 731.3H96.7V731.7H103.3M96.7 731.5H96.0V732.1H103.3M96.8 730.6H95.2V731.8H96.0M103.3 729.7H93.2V731.2H95.2M94.6 727.0H92.2V730.5H93.2M103.3 732.5H95.3V732.9H103.3M95.3 732.7H94.0V733.3H103.3M103.3 733.7H97.0V734.1H103.3M97.0 733.9H95.3V734.5H103.3M94.0 733.0H92.6V734.2H95.3M92.2 728.7H91.0V733.6H92.6M93.2 719.2H89.8V731.2H91.0M103.3 735.3H100.8V735.7H103.3M100.8 735.5H100.0V736.1H103.3M103.3 736.5H100.0V736.9H103.3M100.0 736.7H99.4V737.3H103.3M100.0 735.8H99.2V737.0H99.4M99.2 736.4H98.7V737.7H103.3M103.3 738.1H99.0V738.5H103.3M99.0 738.3H97.6V738.9H103.3M98.7 737.0H96.9V738.6H97.6M103.3 739.3H97.1V739.7H103.3M96.9 737.8H96.6V739.5H97.1M103.3 734.9H95.9V738.7H96.6M103.3 740.1H97.5V740.5H103.3M97.5 740.3H97.0V740.9H103.3M103.3 741.3H96.2V741.7H103.3M97.0 740.6H95.1V741.5H96.2M95.9 736.8H94.6V741.0H95.1M103.3 742.1H100.2V742.5H103.3M100.2 742.3H99.9V742.9H103.3M103.3 743.7H100.6V744.1H103.3M103.3 743.3H99.8V743.9H100.6M99.8 743.6H99.2V744.5H103.3M99.9 742.6H98.9V744.0H99.2M98.9 743.3H97.6V744.9H103.3M103.3 745.7H98.7V746.1H103.3M103.3 745.3H97.8V745.9H98.7M97.6 744.1H96.4V745.6H97.8M103.3 746.5H96.3V746.9H103.3M96.3 746.7H95.4V747.3H103.3M96.4 744.9H95.0V747.0H95.4M94.6 738.9H92.1V745.9H95.0M89.8 725.2H87.9V742.4H92.1M103.3 747.7H95.7V748.1H103.3M103.3 748.5H94.5V748.9H103.3M95.7 747.9H93.3V748.7H94.5M103.3 749.3H93.9V749.7H103.3M93.3 748.3H91.6V749.5H93.9M103.3 750.1H100.1V750.5H103.3M100.1 750.3H99.1V750.9H103.3M103.3 751.7H100.5V752.1H103.3M103.3 751.3H99.9V751.9H100.5M103.3 752.5H99.3V752.9H103.3M99.9 751.6H98.6V752.7H99.3M99.1 750.6H98.0V752.2H98.6M103.3 753.3H99.1V753.7H103.3M103.3 754.1H98.5V754.5H103.3M99.1 753.5H97.6V754.3H98.5M98.0 751.4H96.2V753.9H97.6M96.2 752.6H94.7V754.9H103.3M103.3 756.1H100.4V756.5H103.3M103.3 755.7H99.9V756.3H100.4M103.3 755.3H99.0V756.0H99.9M99.0 755.6H97.9V756.9H103.3M97.9 756.3H96.7V757.3H103.3M96.7 756.8H94.6V757.7H103.3M103.3 759.3H99.9V759.7H103.3M103.3 758.9H98.6V759.5H99.9M98.6 759.2H97.2V760.1H103.3M103.3 758.5H94.9V759.7H97.2M103.3 758.1H93.9V759.1H94.9M94.6 757.2H93.0V758.6H93.9M94.7 753.8H92.2V757.9H93.0M91.6 748.9H91.0V755.8H92.2M103.3 761.3H96.4V761.7H103.3M103.3 760.9H96.1V761.5H96.4M103.3 760.5H94.4V761.2H96.1M103.3 762.1H95.4V762.5H103.3M95.4 762.3H94.5V762.9H103.3M94.4 760.9H93.9V762.6H94.5M103.3 763.7H97.3V764.1H103.3M97.3 763.9H96.7V764.5H103.3M103.3 763.3H95.7V764.2H96.7M103.3 764.9H96.8V765.3H103.3M103.3 766.1H98.7V766.5H103.3M103.3 765.7H98.3V766.3H98.7M98.3 766.0H96.7V766.9H103.3M96.8 765.1H95.7V766.5H96.7M95.7 763.8H94.8V765.8H95.7M93.9 761.7H92.0V764.8H94.8M103.3 767.3H98.4V767.7H103.3M98.4 767.5H96.5V768.1H103.3M103.3 768.5H101.2V768.9H103.3M103.3 769.3H101.4V769.7H103.3M101.2 768.7H101.1V769.5H101.4M101.1 769.1H100.4V770.1H103.3M100.4 769.6H99.3V770.5H103.3M103.3 771.7H100.6V772.1H103.3M103.3 771.3H100.5V771.9H100.6M103.3 770.9H100.1V771.6H100.5M99.3 770.0H99.1V771.2H100.1M103.3 772.5H99.3V772.9H103.3M99.1 770.6H97.9V772.7H99.3M103.3 773.3H97.9V773.7H103.3M97.9 771.7H97.1V773.5H97.9M96.5 767.8H95.0V772.6H97.1M103.3 774.5H97.0V774.9H103.3M97.0 774.7H96.6V775.3H103.3M96.6 775.0H96.2V775.7H103.3M103.3 774.1H95.0V775.4H96.2M95.0 770.2H92.1V774.7H95.0M92.0 763.2H91.3V772.5H92.1M91.0 752.4H87.3V767.9H91.3M87.9 733.8H83.0V760.1H87.3M81.0 711.7H69.5V747.0H83.0M103.3 776.5H98.7V776.9H103.3M103.3 777.3H98.9V777.7H103.3M98.7 776.7H97.2V777.5H98.9M103.3 776.1H96.7V777.1H97.2M103.3 778.1H96.5V778.5H103.3M96.7 776.6H94.9V778.3H96.5M94.9 777.5H93.7V778.9H103.3M103.3 779.7H94.1V780.1H103.3M103.3 779.3H91.9V779.9H94.1M93.7 778.2H91.2V779.6H91.9M103.3 780.5H94.1V780.9H103.3M103.3 781.3H95.8V781.7H103.3M103.3 782.1H96.2V782.5H103.3M95.8 781.5H95.3V782.3H96.2M94.1 780.7H92.9V781.9H95.3M91.2 778.9H89.9V781.3H92.9M103.3 783.3H95.3V783.7H103.3M95.3 783.5H93.9V784.1H103.3M93.9 783.8H91.8V784.5H103.3M103.3 782.9H89.9V784.1H91.8M89.9 780.1H89.1V783.5H89.9M103.3 784.9H92.2V785.3H103.3M92.2 785.1H89.2V785.7H103.3M89.1 781.8H87.5V785.4H89.2M103.3 786.1H95.1V786.5H103.3M103.3 786.9H94.8V787.3H103.3M95.1 786.3H93.1V787.1H94.8M103.3 788.5H94.5V788.9H103.3M103.3 788.1H93.1V788.7H94.5M103.3 787.7H91.4V788.4H93.1M93.1 786.7H89.2V788.1H91.4M103.3 789.3H92.9V789.7H103.3M103.3 790.1H94.4V790.5H103.3M92.9 789.5H91.4V790.3H94.4M103.3 790.9H94.4V791.3H103.3M94.4 791.1H93.5V791.7H103.3M91.4 789.9H89.5V791.4H93.5M89.2 787.4H87.8V790.6H89.5M87.5 783.6H86.2V789.0H87.8M103.3 792.1H94.2V792.5H103.3M103.3 792.9H95.4V793.3H103.3M94.2 792.3H93.7V793.1H95.4M103.3 793.7H96.7V794.1H103.3M96.7 793.9H95.9V794.5H103.3M103.3 795.3H97.6V795.7H103.3M97.6 795.5H97.2V796.1H103.3M103.3 794.9H96.0V795.8H97.2M103.3 797.3H99.4V797.7H103.3M103.3 796.9H98.5V797.5H99.4M103.3 798.1H99.7V798.5H103.3M103.3 798.9H99.7V799.3H103.3M103.3 799.7H100.1V800.1H103.3M99.7 799.1H99.5V799.9H100.1M99.7 798.3H99.0V799.5H99.5M99.0 798.9H98.4V800.5H103.3M103.3 800.9H99.3V801.3H103.3M98.4 799.7H98.0V801.1H99.3M98.5 797.2H97.6V800.4H98.0M103.3 796.5H96.5V798.8H97.6M96.0 795.3H95.3V797.6H96.5M95.3 796.5H93.8V801.7H103.3M95.9 794.2H93.1V799.1H93.8M93.1 796.7H91.4V802.1H103.3M93.7 792.7H90.7V799.4H91.4M103.3 802.5H98.1V802.9H103.3M103.3 803.3H98.2V803.7H103.3M98.1 802.7H97.7V803.5H98.2M97.7 803.1H97.0V804.1H103.3M103.3 805.3H101.1V805.7H103.3M103.3 804.9H101.0V805.5H101.1M101.0 805.2H100.1V806.1H103.3M103.3 806.5H99.6V806.9H103.3M99.6 806.7H99.4V807.3H103.3M100.1 805.7H99.0V807.0H99.4M99.0 806.3H98.0V807.7H103.3M103.3 804.5H96.1V807.0H98.0M97.0 803.6H95.2V805.8H96.1M95.2 804.7H93.2V808.1H103.3M93.2 806.4H92.5V808.5H103.3M103.3 808.9H93.6V809.3H103.3M93.6 809.1H91.8V809.7H103.3M92.5 807.4H91.3V809.4H91.8M90.7 796.0H89.0V808.4H91.3M103.3 810.1H95.0V810.5H103.3M95.0 810.3H93.6V810.9H103.3M93.6 810.6H92.5V811.3H103.3M103.3 811.7H93.2V812.1H103.3M103.3 812.9H96.5V813.3H103.3M103.3 812.5H94.9V813.1H96.5M103.3 813.7H94.6V814.1H103.3M94.9 812.8H94.0V813.9H94.6M93.2 811.9H91.3V813.4H94.0M92.5 811.0H89.2V812.6H91.3M89.0 802.2H87.2V811.8H89.2M86.2 786.3H84.0V807.0H87.2M103.3 814.5H95.5V814.9H103.3M95.5 814.7H93.3V815.3H103.3M103.3 815.7H93.8V816.1H103.3M93.3 815.0H91.3V815.9H93.8M103.3 816.9H97.2V817.3H103.3M97.2 817.1H96.4V817.7H103.3M96.4 817.4H94.1V818.1H103.3M103.3 819.7H100.0V820.1H103.3M100.0 819.9H98.8V820.5H103.3M103.3 819.3H98.4V820.2H98.8M103.3 818.9H97.8V819.8H98.4M97.8 819.3H97.0V820.9H103.3M103.3 818.5H95.1V820.1H97.0M94.1 817.8H92.7V819.3H95.1M103.3 821.3H95.1V821.7H103.3M95.1 821.5H94.7V822.1H103.3M103.3 822.5H94.3V822.9H103.3M94.7 821.8H93.1V822.7H94.3M92.7 818.5H91.1V822.2H93.1M103.3 816.5H89.8V820.4H91.1M103.3 824.9H97.9V825.3H103.3M103.3 824.5H95.8V825.1H97.9M103.3 824.1H95.4V824.8H95.8M103.3 823.7H94.0V824.5H95.4M103.3 823.3H92.7V824.1H94.0M103.3 826.1H96.9V826.5H103.3M103.3 825.7H96.5V826.3H96.9M103.3 826.9H96.8V827.3H103.3M96.5 826.0H94.7V827.1H96.8M94.7 826.5H94.1V827.7H103.3M92.7 823.7H91.2V827.1H94.1M103.3 828.1H96.3V828.5H103.3M103.3 828.9H97.0V829.3H103.3M96.3 828.3H95.3V829.1H97.0M95.3 828.7H93.6V829.7H103.3M103.3 830.1H96.3V830.5H103.3M96.3 830.3H95.6V830.9H103.3M103.3 831.3H99.6V831.7H103.3M99.6 831.5H98.3V832.1H103.3M98.3 831.8H97.0V832.5H103.3M95.6 830.6H95.0V832.1H97.0M93.6 829.2H92.2V831.4H95.0M103.3 833.3H97.7V833.7H103.3M97.7 833.5H96.8V834.1H103.3M103.3 832.9H95.5V833.8H96.8M103.3 834.9H97.3V835.3H103.3M103.3 834.5H96.2V835.1H97.3M95.5 833.4H93.5V834.8H96.2M92.2 830.3H90.8V834.1H93.5M91.2 825.4H87.9V832.2H90.8M89.8 818.4H86.8V828.8H87.9M91.3 815.5H84.1V823.6H86.8M84.0 796.7H70.3V819.5H84.1M69.5 729.3H66.4V808.1H70.3M70.7 595.2H65.5V768.7H66.4M103.3 836.1H87.4V836.5H103.3M103.3 835.7H83.5V836.3H87.4M103.3 837.3H93.2V837.7H103.3M103.3 838.1H94.2V838.5H103.3M94.2 838.3H92.7V838.9H103.3M93.2 837.5H90.8V838.6H92.7M103.3 836.9H88.9V838.0H90.8M103.3 839.3H91.9V839.7H103.3M91.9 839.5H88.1V840.1H103.3M103.3 840.5H91.8V840.9H103.3M103.3 841.3H91.6V841.7H103.3M91.8 840.7H89.5V841.5H91.6M88.1 839.8H86.7V841.1H89.5M88.9 837.5H82.1V840.5H86.7M83.5 836.0H77.1V839.0H82.1M103.3 842.1H93.4V842.5H103.3M103.3 843.7H95.5V844.1H103.3M103.3 843.3H94.3V843.9H95.5M103.3 842.9H93.4V843.6H94.3M93.4 843.2H92.5V844.5H103.3M93.4 842.3H89.7V843.9H92.5M103.3 845.7H98.5V846.1H103.3M98.5 845.9H97.9V846.5H103.3M97.9 846.2H97.1V846.9H103.3M103.3 845.3H95.6V846.6H97.1M103.3 844.9H93.3V845.9H95.6M103.3 847.7H96.6V848.1H103.3M103.3 847.3H94.1V847.9H96.6M93.3 845.4H91.8V847.6H94.1M89.7 843.1H87.6V846.5H91.8M103.3 848.5H89.9V848.9H103.3M103.3 850.1H91.5V850.5H103.3M103.3 849.7H90.6V850.3H91.5M103.3 849.3H87.6V850.0H90.6M89.9 848.7H86.9V849.6H87.6M87.6 844.8H84.6V849.2H86.9M103.3 851.3H98.3V851.7H103.3M103.3 852.1H98.3V852.5H103.3M98.3 851.5H96.7V852.3H98.3M96.7 851.9H94.5V852.9H103.3M103.3 853.3H94.3V853.7H103.3M94.3 853.5H93.5V854.1H103.3M94.5 852.4H92.3V853.8H93.5M103.3 850.9H90.1V853.1H92.3M90.1 852.0H86.8V854.5H103.3M103.3 855.7H96.2V856.1H103.3M96.2 855.9H95.6V856.5H103.3M103.3 855.3H94.2V856.2H95.6M94.2 855.8H91.4V856.9H103.3M103.3 854.9H89.1V856.3H91.4M103.3 857.3H91.3V857.7H103.3M89.1 855.6H87.1V857.5H91.3M86.8 853.2H81.3V856.6H87.1M84.6 847.0H73.2V854.9H81.3M77.1 837.5H66.6V850.9H73.2M103.3 858.5H90.6V858.9H103.3M103.3 858.1H89.7V858.7H90.6M103.3 859.7H92.6V860.1H103.3M92.6 859.9H91.2V860.5H103.3M103.3 859.3H89.9V860.2H91.2M103.3 861.3H92.3V861.7H103.3M103.3 860.9H90.5V861.5H92.3M89.9 859.8H86.5V861.2H90.5M103.3 862.1H88.3V862.5H103.3M86.5 860.5H82.8V862.3H88.3M103.3 862.9H94.4V863.3H103.3M94.4 863.1H91.2V863.7H103.3M103.3 864.1H93.2V864.5H103.3M91.2 863.4H89.7V864.3H93.2M103.3 864.9H92.6V865.3H103.3M103.3 866.1H95.6V866.5H103.3M95.6 866.3H94.2V866.9H103.3M103.3 865.7H93.7V866.6H94.2M92.6 865.1H90.3V866.2H93.7M89.7 863.9H86.9V865.6H90.3M103.3 867.3H90.7V867.7H103.3M86.9 864.7H82.9V867.5H90.7M82.8 861.4H81.3V866.1H82.9M89.7 858.4H78.2V863.8H81.3M103.3 868.1H88.6V868.5H103.3M103.3 868.9H96.2V869.3H103.3M96.2 869.1H93.7V869.7H103.3M93.7 869.4H91.5V870.1H103.3M91.5 869.8H88.6V870.5H103.3M88.6 868.3H87.3V870.1H88.6M103.3 870.9H92.1V871.3H103.3M92.1 871.1H89.7V871.7H103.3M103.3 872.5H93.9V872.9H103.3M93.9 872.7H90.8V873.3H103.3M103.3 872.1H88.8V873.0H90.8M89.7 871.4H86.5V872.5H88.8M87.3 869.2H82.6V872.0H86.5M103.3 874.9H94.5V875.3H103.3M103.3 874.5H94.0V875.1H94.5M94.0 874.8H93.3V875.7H103.3M103.3 874.1H91.7V875.2H93.3M103.3 876.1H92.4V876.5H103.3M91.7 874.7H91.2V876.3H92.4M103.3 873.7H86.9V875.5H91.2M82.6 870.6H76.2V874.6H86.9M78.2 861.1H75.0V872.6H76.2M103.3 876.9H90.1V877.3H103.3M103.3 877.7H92.2V878.1H103.3M90.1 877.1H89.1V877.9H92.2M103.3 879.3H96.8V879.7H103.3M103.3 880.1H95.2V880.5H103.3M96.8 879.5H94.2V880.3H95.2M103.3 878.9H93.4V879.9H94.2M103.3 880.9H96.9V881.3H103.3M96.9 881.1H95.5V881.7H103.3M95.5 881.4H94.2V882.1H103.3M93.4 879.4H92.6V881.8H94.2M92.6 880.6H91.7V882.5H103.3M103.3 878.5H91.1V881.5H91.7M103.3 882.9H92.7V883.3H103.3M103.3 884.5H96.8V884.9H103.3M96.8 884.7H95.3V885.3H103.3M103.3 884.1H93.6V885.0H95.3M103.3 883.7H90.8V884.5H93.6M92.7 883.1H88.6V884.1H90.8M91.1 880.0H86.7V883.6H88.6M103.3 885.7H90.3V886.1H103.3M103.3 886.5H87.5V886.9H103.3M90.3 885.9H85.5V886.7H87.5M86.7 881.8H81.4V886.3H85.5M89.1 877.5H74.5V884.1H81.4M75.0 866.8H68.9V880.8H74.5M103.3 887.3H89.7V887.7H103.3M103.3 888.1H92.4V888.5H103.3M92.4 888.3H91.0V888.9H103.3M103.3 889.7H97.2V890.1H103.3M97.2 889.9H95.8V890.5H103.3M103.3 890.9H96.1V891.3H103.3M95.8 890.2H94.3V891.1H96.1M103.3 891.7H94.5V892.1H103.3M103.3 892.5H96.8V892.9H103.3M96.8 892.7H96.4V893.3H103.3M94.5 891.9H94.1V893.0H96.4M94.3 890.7H92.8V892.5H94.1M103.3 889.3H90.7V891.6H92.8M91.0 888.6H89.6V890.4H90.7M89.7 887.5H87.5V889.5H89.6M87.5 888.5H81.7V893.7H103.3M103.3 894.5H92.1V894.9H103.3M103.3 894.1H89.2V894.7H92.1M103.3 895.3H90.8V895.7H103.3M89.2 894.4H87.6V895.5H90.8M103.3 896.1H89.5V896.5H103.3M87.6 895.0H84.4V896.3H89.5M81.7 891.1H78.7V895.6H84.4M103.3 896.9H90.5V897.3H103.3M103.3 897.7H91.4V898.1H103.3M103.3 898.5H94.6V898.9H103.3M94.6 898.7H93.6V899.3H103.3M93.6 899.0H90.8V899.7H103.3M91.4 897.9H89.1V899.4H90.8M90.5 897.1H87.1V898.6H89.1M87.1 897.9H86.2V900.1H103.3M103.3 900.5H92.3V900.9H103.3M92.3 900.7H90.4V901.3H103.3M103.3 901.7H88.8V902.1H103.3M90.4 901.0H88.2V901.9H88.8M103.3 902.5H91.2V902.9H103.3M88.2 901.5H87.4V902.7H91.2M86.2 899.0H79.3V902.1H87.4M78.7 893.4H77.1V900.5H79.3M103.3 903.7H96.1V904.1H103.3M96.1 903.9H95.4V904.5H103.3M103.3 903.3H93.2V904.2H95.4M103.3 905.7H96.4V906.1H103.3M103.3 905.3H95.2V905.9H96.4M103.3 904.9H93.8V905.6H95.2M93.2 903.8H91.3V905.2H93.8M103.3 906.5H98.7V906.9H103.3M98.7 906.7H97.1V907.3H103.3M97.1 907.0H96.0V907.7H103.3M96.0 907.4H93.8V908.1H103.3M93.8 907.7H93.1V908.5H103.3M103.3 909.3H97.7V909.7H103.3M103.3 908.9H96.8V909.5H97.7M96.8 909.2H95.0V910.1H103.3M103.3 910.9H98.3V911.3H103.3M103.3 911.7H98.2V912.1H103.3M98.3 911.1H97.7V911.9H98.2M103.3 912.5H99.3V912.9H103.3M99.3 912.7H98.5V913.3H103.3M97.7 911.5H97.0V913.0H98.5M103.3 914.1H97.4V914.5H103.3M103.3 913.7H96.9V914.3H97.4M97.0 912.2H96.6V914.0H96.9M103.3 910.5H95.3V913.1H96.6M95.0 909.7H93.0V911.8H95.3M93.1 908.1H89.3V910.7H93.0M91.3 904.5H88.2V909.4H89.3M103.3 915.3H89.5V915.7H103.3M103.3 914.9H88.1V915.5H89.5M103.3 916.1H90.9V916.5H103.3M90.9 916.3H90.1V916.9H103.3M103.3 918.1H95.1V918.5H103.3M103.3 917.7H94.6V918.3H95.1M103.3 917.3H91.7V918.0H94.6M103.3 918.9H96.0V919.3H103.3M96.0 919.1H93.5V919.7H103.3M103.3 920.1H92.9V920.5H103.3M93.5 919.4H91.8V920.3H92.9M91.7 917.6H89.1V919.9H91.8M90.1 916.6H88.3V918.8H89.1M88.1 915.2H87.0V917.7H88.3M103.3 920.9H94.9V921.3H103.3M94.9 921.1H94.4V921.7H103.3M103.3 922.5H97.8V922.9H103.3M97.8 922.7H97.6V923.3H103.3M103.3 924.5H99.9V924.9H103.3M103.3 925.3H100.1V925.7H103.3M99.9 924.7H99.5V925.5H100.1M103.3 924.1H98.5V925.1H99.5M103.3 923.7H96.9V924.6H98.5M96.9 924.2H96.4V926.1H103.3M97.6 923.0H95.9V925.1H96.4M95.9 924.1H94.4V926.5H103.3M103.3 922.1H93.2V925.3H94.4M94.4 921.4H91.1V923.7H93.2M103.3 927.7H93.2V928.1H103.3M103.3 927.3H91.8V927.9H93.2M103.3 926.9H89.9V927.6H91.8M91.1 922.5H87.6V927.2H89.9M87.0 916.4H85.4V924.9H87.6M88.2 907.0H82.8V920.7H85.4M103.3 928.5H91.2V928.9H103.3M103.3 929.3H89.1V929.7H103.3M103.3 930.1H90.2V930.5H103.3M90.2 930.3H89.6V930.9H103.3M89.1 929.5H87.0V930.6H89.6M91.2 928.7H83.0V930.0H87.0M103.3 931.3H91.2V931.7H103.3M83.0 929.4H80.8V931.5H91.2M82.8 913.8H79.7V930.4H80.8M103.3 932.9H95.5V933.3H103.3M103.3 932.5H93.5V933.1H95.5M103.3 933.7H92.2V934.1H103.3M93.5 932.8H91.3V933.9H92.2M103.3 932.1H88.4V933.4H91.3M103.3 934.5H89.5V934.9H103.3M89.5 934.7H85.6V935.3H103.3M85.6 935.0H84.1V935.7H103.3M88.4 932.7H81.2V935.4H84.1M103.3 936.1H95.4V936.5H103.3M95.4 936.3H93.5V936.9H103.3M103.3 937.3H92.7V937.7H103.3M93.5 936.6H91.6V937.5H92.7M103.3 938.1H93.2V938.5H103.3M91.6 937.0H90.3V938.3H93.2M103.3 938.9H93.7V939.3H103.3M103.3 939.7H94.3V940.1H103.3M93.7 939.1H92.0V939.9H94.3M103.3 941.7H97.9V942.1H103.3M97.9 941.9H97.1V942.5H103.3M103.3 942.9H97.9V943.3H103.3M97.1 942.2H95.9V943.1H97.9M103.3 941.3H93.1V942.7H95.9M103.3 940.9H92.5V942.0H93.1M103.3 940.5H90.4V941.4H92.5M92.0 939.5H89.6V941.0H90.4M90.3 937.7H88.7V940.2H89.6M103.3 943.7H93.6V944.1H103.3M103.3 944.5H94.5V944.9H103.3M103.3 945.3H94.3V945.7H103.3M94.5 944.7H92.0V945.5H94.3M93.6 943.9H91.5V945.1H92.0M103.3 946.1H94.3V946.5H103.3M94.3 946.3H91.5V946.9H103.3M91.5 944.5H89.4V946.6H91.5M103.3 947.7H91.9V948.1H103.3M103.3 947.3H89.4V947.9H91.9M89.4 945.5H86.8V947.6H89.4M88.7 939.0H83.1V946.6H86.8M103.3 948.5H90.0V948.9H103.3M103.3 949.3H94.2V949.7H103.3M103.3 950.1H94.6V950.5H103.3M94.2 949.5H91.4V950.3H94.6M90.0 948.7H87.6V949.9H91.4M103.3 950.9H92.6V951.3H103.3M92.6 951.1H91.7V951.7H103.3M91.7 951.4H88.0V952.1H103.3M87.6 949.3H86.3V951.8H88.0M83.1 942.8H82.1V950.5H86.3M81.2 934.0H74.8V946.6H82.1M79.7 922.1H70.5V940.3H74.8M77.1 896.9H66.3V931.2H70.5M68.9 873.8H65.2V914.1H66.3M66.6 844.2H61.9V893.9H65.2M65.5 682.0H57.6V869.1H61.9" stroke="#1a1a1a" stroke-width="0.8" fill="none"/>
<path d="M173.4 534.5V508.5H410.1V528.6M128.9 551.5V534.5H218.4V536.2M180.1 551.5V536.2H256.9V538.3M231.3 551.5V538.3H282.5V551.5M359.4 528.6H461.9V534M359.4 528.6V535.3M333.7 551.5V535.3H384.9V551.5M436.1 551.5V534H487.3V551.5" stroke="#444" stroke-width="1" fill="none"/>
<defs><linearGradient id="cb" x1="0" y1="0" x2="0" y2="1"><stop offset="0" stop-color="#990000"/><stop offset="0.2" stop-color="#FF0000"/><stop offset="0.33" stop-color="#FF8000"/><stop offset="0.4" stop-color="#FFFF00"/><stop offset="0.5" stop-color="#B8DC48"/><stop offset="0.6" stop-color="#60C098"/><stop offset="0.67" stop-color="#55C0BC"/><stop offset="0.77" stop-color="#58C4F0"/><stop offset="0.88" stop-color="#3464B4"/><stop offset="1" stop-color="#000070"/></linearGradient></defs>
<rect x="517.1" y="552" width="9" height="124" fill="url(#cb)"/>
<text transform="translate(528.6,567.8) scale(1.2,1)" font-size="10.8" fill="#000">2</text>
<text transform="translate(528.6,593.1) scale(1.2,1)" font-size="10.8" fill="#000">1</text>
<text transform="translate(528.6,618.5) scale(1.2,1)" font-size="10.8" fill="#000">0</text>
<text transform="translate(528.6,643.5) scale(1.2,1)" font-size="10.8" fill="#000">−1</text>
<text transform="translate(528.6,668.6) scale(1.2,1)" font-size="10.8" fill="#000">−2</text>
<text transform="translate(123.5,954.2) rotate(90) scale(1.0,1.25)" font-size="12" fill="#000">tx-j 2</text>
<text transform="translate(174.7,954.2) rotate(90) scale(1.0,1.25)" font-size="12" fill="#000">tx-j 1</text>
<text transform="translate(225.9,954.2) rotate(90) scale(1.0,1.25)" font-size="12" fill="#000">tx-j 3</text>
<text transform="translate(277.1,954.2) rotate(90) scale(1.0,1.25)" font-size="12" fill="#000">tx-j 4</text>
<text transform="translate(328.3,954.2) rotate(90) scale(1.0,1.25)" font-size="12" fill="#000">CN3</text>
<text transform="translate(379.5,954.2) rotate(90) scale(1.0,1.25)" font-size="12" fill="#000">CN4</text>
<text transform="translate(430.7,954.2) rotate(90) scale(1.0,1.25)" font-size="12" fill="#000">CN1</text>
<text transform="translate(481.9,954.2) rotate(90) scale(1.0,1.25)" font-size="12" fill="#000">CN2</text>
</svg></body></html>
